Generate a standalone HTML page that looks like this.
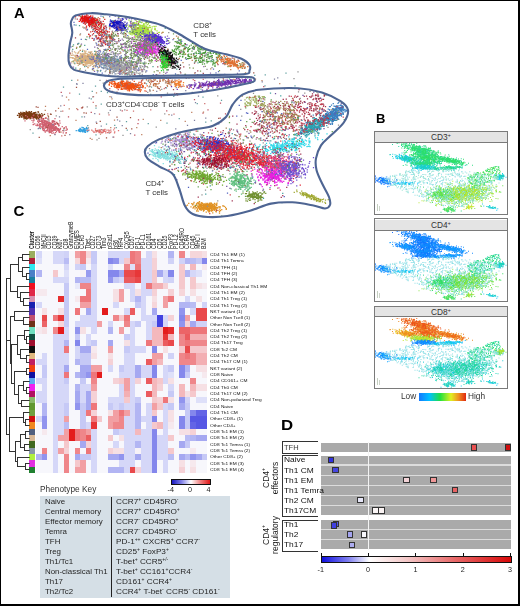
<!DOCTYPE html><html><head><meta charset="utf-8"><style>
html,body{margin:0;padding:0;background:#fff}
body{width:520px;height:606px;position:relative;overflow:hidden;font-family:"Liberation Sans", sans-serif;color:#222}
#frame{position:absolute;left:0;top:0;width:520px;height:606px;box-sizing:border-box;border-style:solid;border-color:#000;border-width:1px 2px 2px 1px}
.t8{position:absolute;font-size:7.9px;line-height:9px;color:#333}
.t8 sup{font-size:5px;vertical-align:3px;line-height:0}
.k{position:absolute;font-size:7.9px;line-height:9px;color:#262626;white-space:nowrap;transform-origin:0 50%}
.k sup{font-size:4.8px;vertical-align:2.8px;line-height:0}
.rl{position:absolute;left:210.3px;font-size:4.4px;line-height:6px;color:#111;white-space:nowrap;transform:scaleX(1.09);transform-origin:0 50%}
.cl{position:absolute;top:249.3px;transform-origin:0 0;transform:rotate(-90deg) scaleY(1.3);font-size:5.2px;line-height:5.5px;color:#111;white-space:nowrap}
.pl{position:absolute;font-size:14px;font-weight:bold;line-height:14px;color:#000;transform-origin:0 0}
.rot{position:absolute;left:271px;transform:translate(-50%,-50%) rotate(-90deg);font-size:8.5px;line-height:8.8px;text-align:center;color:#222;white-space:nowrap}
.rot sup{font-size:5px;line-height:0}
#wrap{position:absolute;left:0;top:0;width:520px;height:606px;filter:blur(0.35px)}
</style></head><body><div id="wrap">
<svg style="position:absolute;left:0;top:0" width="370" height="225" viewBox="0 0 370 225"><defs><path id="c0a" d="M330 60h0m-14 2h0m31-2h0m-23 5h0m15-1h0m3 0h0m1 1h0m-8 2h0m18 1h0m7-2h0m1 0h0m-31 4h0m17-1h0m0 0h0m1 1h0m8 0h0m0-2h0m4 1h0m6 0h0m4 2h0m-45 1h0m5 1h0m8 0h0m3-2h0m1 1h0m2 1h0m1-2h0m5 1h0m1 0h0m0-1h0m3 2h0m3 0h0m2-1h0m6 0h0m2 0h0m0 0h0m12 0h0m-52 2h0m17 2h0m3-1h0m0-2h0m3 2h0m2-1h0m0 2h0m1-1h0m1-1h0m1 1h0m5-1h0m1 0h0m1 0h0m1 2h0m1-1h0m1-1h0m1 1h0m9-2h0m6 1h0m18 1h0m-76 1h0m6 1h0m8 1h0m5 0h0m2-1h0m1 0h0m2-1h0m2 2h0m1-2h0m1 2h0m3 0h0m1-2h0m2 2h0m1 0h0m17-2h0m2 1h0m9-1h0m3 2h0m2-1h0m-61 4h0m4-1h0m5 0h0m3 1h0m2-1h0m6 1h0m1 0h0m4-1h0m1 0h0m2 0h0m0 1h0m0-1h0m1 1h0m0 0h0m0-2h0m1 2h0m0-2h0m1 1h0m1 0h0m2 1h0m0-2h0m2 0h0m1 2h0m11 0h0m-56 1h0m1 0h0m11 1h0m9 0h0m5 0h0m2 0h0m0 1h0m4 0h0m1-3h0m4 2h0m1-1h0m1 0h0m0 0h0m1 2h0m6-3h0m6 1h0m4 0h0m3 0h0m9 1h0m-60 1h0m10 1h0m9 0h0m4 0h0m0-1h0m5 1h0m1 0h0m3-1h0m4 1h0m0 1h0m6-2h0m0 2h0m1-2h0m0 2h0m1 0h0m2-1h0m1 1h0m2-1h0m1 1h0m1 0h0m11-2h0m-66 3h0m0 0h0m22 2h0m2-2h0m8 2h0m2 0h0m1 0h0m1-1h0m1-1h0m2 0h0m2 1h0m1-1h0m1 1h0m3 0h0m9 0h0m4 0h0m3-1h0m2 1h0m6 1h0m-55 3h0m6-2h0m0 0h0m7 0h0m0 0h0m5 0h0m3 0h0m1 1h0m7-1h0m10 2h0m5-1h0m1-1h0m1 1h0m1 0h0m6-1h0m-59 3h0m23 0h0m27 1h0m-30 1h0m1 1h0m9 0h0m-3 2h0m1 0h0m20 1h0m11-1h0m-18 6h0"/><path id="c0b" d="M347 56h0m-30 6h0m21 3h0m14-2h0m11 0h0m-61 4h0m28-1h0m10 1h0m5 0h0m2 0h0m-22 2h0m13 1h0m0-1h0m1 1h0m2-1h0m6 1h0m1 0h0m14-1h0m3 1h0m5 0h0m-41 1h0m2 2h0m0 0h0m4-1h0m4 1h0m1-1h0m0 0h0m12 1h0m6 0h0m2-2h0m2 0h0m2 0h0m1 2h0m3-1h0m6 1h0m-41 1h0m5 1h0m3-1h0m0 0h0m1 1h0m3 0h0m1 0h0m8 0h0m1-1h0m2 1h0m1 0h0m1 1h0m0-2h0m2 2h0m1-1h0m2-1h0m2 1h0m2 0h0m9 0h0m-56 2h0m15 0h0m5 0h0m2 0h0m5 2h0m0-2h0m0 0h0m4 1h0m4-1h0m0 0h0m1 1h0m2-1h0m4-1h0m2 2h0m6-1h0m0 1h0m1 0h0m-35 3h0m6-1h0m2 1h0m1-1h0m2-1h0m1 2h0m1 0h0m2-2h0m1 0h0m2 2h0m1-1h0m1 0h0m0 1h0m2 0h0m0 0h0m0-1h0m1 1h0m7 0h0m1-2h0m2 2h0m1-1h0m2 0h0m3 1h0m7-1h0m4 0h0m2 0h0m-59 2h0m5 1h0m3-1h0m7 0h0m2 0h0m1 2h0m6-1h0m0-1h0m1 2h0m0 0h0m2-1h0m1 1h0m2-2h0m1 2h0m3 0h0m2 0h0m3-2h0m2 0h0m0 0h0m0 1h0m0-1h0m1 0h0m5-1h0m2 1h0m1 0h0m1 1h0m-64 2h0m22-1h0m12 1h0m4 1h0m0 0h0m2 0h0m1-1h0m1 0h0m4-1h0m0 2h0m2 0h0m0-2h0m3 1h0m6 0h0m2 1h0m0 0h0m4-2h0m5 1h0m-54 2h0m9 0h0m9 2h0m0-1h0m1 0h0m2-1h0m2 2h0m4 0h0m0-1h0m0-1h0m2 2h0m0-1h0m3 0h0m5 0h0m3 0h0m3 1h0m0 0h0m0 0h0m8-1h0m0 0h0m2 1h0m4-2h0m6 0h0m-55 2h0m7 2h0m12-1h0m1 0h0m0 0h0m0 0h0m6 1h0m5 1h0m1 0h0m1-1h0m2 1h0m1-3h0m1 1h0m6 0h0m-24 2h0m9 1h0m3 1h0m5 0h0m0 1h0m8-3h0m17 2h0m0-1h0m-43 4h0m12-1h0m25 1h0m-22 2h0m12 0h0m-30 1h0m3 1h0m14 1h0"/><path id="c1a" d="M342 72h0m18 14h0m20 0h0m33-1h0m-51 2h0m30 3h0m8 2h0m-3 5h0m11-2h0m8 0h0m-75 2h0m39 1h0m-15 3h0m21 0h0m8 0h0m10 1h0m-58 2h0m20 0h0m11 2h0m12 0h0m50 1h0m-58 1h0m11 2h0m34 0h0m-30 2h0m19-1h0m-15 4h0m18-1h0m21 1h0m-53 2h0m38 4h0m-19 3h0m1-1h0m8-2h0m1 2h0m-28 3h0m16 0h0m15 0h0m12-1h0m-43 2h0m29 0h0m3 1h0m18-1h0m-42 3h0m2 2h0m9-2h0m-32 4h0m22-2h0m27 2h0m-68 3h0m91 0h0m-52 2h0m7 0h0m7 1h0m1-2h0m-10 3h0m7 3h0m9 0h0m23 0h0m4 1h0m-58 1h0m44 1h0m17-1h0m-50 3h0m45 0h0m7 0h0m-26 2h0m-26 3h0m11-1h0m35 2h0m7-1h0m-48 5h0m26 0h0m-25 4h0m11 0h0m-9 3h0m2 2h0m0 6h0m11-2h0m6 6h0m16 24h0"/><path id="c1b" d="M371 64h0m48 13h0m-45 5h0m3 5h0m8 0h0m-10 3h0m28 0h0m-38 4h0m21 0h0m16 0h0m6 1h0m-2 3h0m-40 3h0m40 1h0m-29 1h0m6 2h0m37-1h0m3 1h0m-65 1h0m10 1h0m36-1h0m0 2h0m2-1h0m-60 1h0m56 1h0m13-1h0m-33 4h0m22 0h0m11 0h0m-71 3h0m32-2h0m4 2h0m8 1h0m4 2h0m8-2h0m8 2h0m6 0h0m-18 3h0m12-1h0m-26 1h0m-11 4h0m17 1h0m2-1h0m9 1h0m6 0h0m-42 1h0m36 0h0m3 0h0m1 0h0m6 2h0m3-1h0m1 0h0m7 1h0m10-1h0m19-1h0m-59 5h0m20-1h0m1-1h0m2 0h0m2 0h0m1 2h0m-19 2h0m-42 3h0m64 0h0m7-1h0m21 0h0m-44 2h0m1 1h0m33 0h0m-51 4h0m60 0h0m-88 1h0m4-1h0m51 2h0m11 2h0m3 0h0m19 0h0m-36 4h0m30-3h0m-71 5h0m20 0h0m1-1h0m16 0h0m22 0h0m16 1h0m-44 3h0m13-1h0m14-2h0m27 1h0m-55 5h0m5-1h0m45-1h0m-74 3h0m23 0h0m54 1h0m-52 3h0m2-1h0m14 4h0m14-1h0m-18 3h0m29 0h0m27 3h0m-47 0h0m8 2h0m3 5h0m-31 4h0m36 2h0m24 13h0"/><path id="c2a" d="M442 80h0m46 1h0m-32 2h0m-9 2h0m12 0h0m6 2h0m7-3h0m8 1h0m3 0h0m-35 3h0m5 0h0m7 0h0m0-1h0m0 1h0m12 0h0m9 0h0m3-1h0m-34 4h0m1 0h0m1-1h0m3 1h0m5 0h0m1 0h0m3-1h0m4 1h0m2 0h0m0 0h0m3-1h0m6 0h0m2 1h0m8 0h0m-36 2h0m2 1h0m7-2h0m1 1h0m3 0h0m2 2h0m2-1h0m0-1h0m2-1h0m0 1h0m1 1h0m0 0h0m2 0h0m0 0h0m1-1h0m8 1h0m7 0h0m1 0h0m1 1h0m-54 2h0m17 0h0m1-2h0m4 0h0m2 1h0m0 0h0m3 0h0m1 0h0m0 0h0m0 0h0m2 0h0m2 1h0m3-1h0m0 1h0m2-2h0m1 1h0m0-1h0m1 1h0m4 1h0m2-1h0m1 1h0m2-1h0m2-1h0m18 0h0m-66 5h0m17-1h0m2-1h0m3 0h0m8 1h0m0 0h0m0 0h0m3-1h0m0 0h0m2 2h0m1-1h0m1 0h0m4 0h0m0 1h0m5-2h0m0 2h0m4-1h0m-43 3h0m4 0h0m0-1h0m2-1h0m8 2h0m0-1h0m3 0h0m2 0h0m1 1h0m4-2h0m0 2h0m1-1h0m0-1h0m4 0h0m5 3h0m0 0h0m5-1h0m1-2h0m0 1h0m2 1h0m7 0h0m5-1h0m2 2h0m-56 1h0m12-1h0m5 2h0m0-1h0m1-1h0m2 0h0m3 1h0m1 0h0m3 0h0m1-1h0m12 2h0m2-2h0m7 1h0m1 1h0m-53 1h0m5 0h0m9-1h0m0 1h0m4 0h0m6 2h0m1-1h0m3 0h0m1-1h0m2-1h0m5 1h0m0 0h0m3 1h0m1-1h0m1 1h0m1-2h0m7 1h0m2 1h0m2 0h0m5 1h0m-41 0h0m5 1h0m1 1h0m17-2h0m2 1h0m0 0h0m0 0h0m1-1h0m9 1h0m-38 4h0m1-1h0m11 1h0m8-2h0m2 0h0m1 1h0m4 0h0m1 0h0m13 1h0m1-1h0m-23 3h0m2 1h0m-14 2h0m3-1h0m-3 2h0m4 2h0m22 0h0m15-2h0"/><path id="c2b" d="M489 74h0m3 3h0m-46 7h0m16-3h0m20 2h0m-25 3h0m3-1h0m0 0h0m6 1h0m4 0h0m6-1h0m-35 2h0m14 1h0m4 0h0m3-1h0m1 0h0m2 0h0m1 2h0m0-1h0m5 0h0m9-1h0m-32 5h0m9-2h0m6 0h0m3 0h0m16 1h0m3-1h0m-44 4h0m14 0h0m1-2h0m2 1h0m2-1h0m6 0h0m0 1h0m4 1h0m1 0h0m2 0h0m5 0h0m0 0h0m3 0h0m5 0h0m3-2h0m-34 5h0m0-1h0m1 1h0m3-2h0m1 2h0m1 0h0m1 0h0m1-1h0m2 1h0m0-1h0m1 0h0m2-1h0m0 1h0m1-1h0m4 0h0m6 2h0m3 0h0m3 0h0m9 0h0m1 0h0m-42 1h0m2 0h0m4-1h0m2 1h0m1 0h0m4 2h0m2-2h0m2 0h0m1-1h0m6 1h0m23 2h0m-59 2h0m11 0h0m4 0h0m2 1h0m1-3h0m1 1h0m7-1h0m2 0h0m1 0h0m0 0h0m1 2h0m2-1h0m3 1h0m1-2h0m1 0h0m6 1h0m8-1h0m0 2h0m1-1h0m1 1h0m5-1h0m-61 2h0m12 0h0m5 1h0m1 0h0m10 0h0m5-1h0m1 0h0m2 1h0m1 1h0m1-2h0m3 1h0m1-1h0m1 2h0m4-1h0m1 0h0m1-1h0m18 1h0m-55 2h0m10 1h0m1 0h0m4 0h0m8-1h0m2 0h0m5 1h0m7-1h0m2 0h0m-34 4h0m1 0h0m5 0h0m14 0h0m0 0h0m1 1h0m0-2h0m2 0h0m1-1h0m0 1h0m6 1h0m-14 2h0m2 0h0m9 0h0m2-1h0m1 1h0m6-1h0m-24 4h0m1-1h0m11 2h0m2-2h0m2 2h0m0-1h0m5-1h0m1 1h0m6 1h0m3-2h0m-26 2h0m2 2h0m3-1h0m12-1h0m-25 5h0m15-2h0m8 1h0m0 3h0"/><path id="c3a" d="M502 71h0m14 9h0m10 4h0m31-1h0m-36 4h0m34 0h0m12 2h0m16 0h0m11-2h0m-63 4h0m7 0h0m6 1h0m-7 1h0m16 0h0m31-1h0m-53 5h0m1-1h0m-20 4h0m25-1h0m4 0h0m13-1h0m1 1h0m2 1h0m11 2h0m30 0h0m-94 1h0m40 2h0m27 0h0m7-2h0m5 1h0m3 1h0m30 0h0m8 0h0m-66 1h0m3 0h0m11 1h0m1-1h0m2 1h0m2-1h0m-39 5h0m15-1h0m24 0h0m0-2h0m12 2h0m2-1h0m11 0h0m-65 2h0m1 2h0m9-2h0m8 0h0m4 0h0m23 1h0m2 0h0m36 1h0m-89 2h0m7 0h0m13 0h0m11 0h0m5-1h0m0 0h0m7 0h0m2 2h0m2-1h0m30 0h0m-68 2h0m5 1h0m1 0h0m4-1h0m5 1h0m0 1h0m1-2h0m7 0h0m0 1h0m6-2h0m0 3h0m2 0h0m17-2h0m4 0h0m27 0h0m-94 3h0m9 0h0m13 0h0m3 0h0m11-1h0m1 0h0m3 2h0m2 0h0m1-2h0m2 1h0m1-1h0m9 1h0m1 0h0m13-1h0m27 0h0m-84 4h0m1-1h0m18 2h0m10 0h0m6-2h0m3 1h0m1-1h0m1 2h0m4-2h0m2 1h0m9 0h0m2 0h0m5 1h0m29-1h0m-82 1h0m1 1h0m2-1h0m6 0h0m8 2h0m1-1h0m1 1h0m4 0h0m21 0h0m3-2h0m0 2h0m6 0h0m-60 2h0m20 0h0m11 0h0m3-1h0m3 0h0m32 1h0m29 1h0m-121 2h0m17-1h0m3 1h0m46 1h0m6-2h0m3 1h0m-92 2h0m22 0h0m7 1h0m6 1h0m13-1h0m10-1h0m1 1h0m9 0h0m6-2h0m7 1h0m1 1h0m6 1h0m7-2h0m2 0h0m20-1h0m-122 4h0m11 1h0m16 0h0m18 0h0m8-1h0m13 1h0m0-2h0m1 1h0m5-1h0m2 2h0m2-2h0m20 1h0m6 0h0m11 0h0m9-1h0m-88 4h0m0-1h0m21 1h0m8 0h0m16-1h0m7 0h0m1-1h0m-39 5h0m13-1h0m6 0h0m15-1h0m7 1h0m5-1h0m30 0h0m-79 3h0m10 0h0m28 2h0m5 0h0m-68 2h0m72 1h0m34-1h0m-55 1h0m37 1h0m-31 5h0m37 0h0m-74 3h0m12 1h0m42-1h0"/><path id="c3b" d="M544 81h0m15 3h0m-3 4h0m34 1h0m-53 1h0m8 2h0m22-2h0m8 4h0m19 0h0m-57 3h0m9-2h0m1 1h0m32 0h0m-33 2h0m0 1h0m5 0h0m23 0h0m14 0h0m3-1h0m-64 3h0m6 1h0m6-1h0m13 0h0m0 0h0m2 1h0m4 0h0m3-2h0m1 2h0m0 0h0m6-1h0m7 1h0m24 0h0m-97 3h0m17 0h0m24-2h0m1 1h0m26-1h0m1 2h0m4 0h0m-60 2h0m8 1h0m3-1h0m3 0h0m5 1h0m1-2h0m6 2h0m23 0h0m5-2h0m3 1h0m13-1h0m1 2h0m23-1h0m10-1h0m-80 3h0m9 1h0m5 0h0m3 1h0m4-2h0m1 0h0m8 1h0m0-1h0m1 1h0m9 0h0m1 0h0m4 1h0m11-2h0m1 1h0m5 0h0m-75 3h0m14 0h0m12-1h0m5 0h0m7-1h0m4 0h0m14 1h0m6 1h0m-58 2h0m6 0h0m4-1h0m17 2h0m4-1h0m12 1h0m1-2h0m2 0h0m8 1h0m2 0h0m3-2h0m3 0h0m-80 4h0m22 1h0m12 0h0m3-1h0m6-1h0m6 3h0m0-2h0m2 0h0m1 1h0m2 0h0m4-1h0m4 1h0m0-1h0m2 1h0m1 0h0m5 1h0m1-1h0m5-1h0m5-1h0m28 0h0m-91 3h0m8 2h0m8 0h0m6-2h0m3 2h0m2-2h0m2 0h0m4 1h0m25 0h0m1 1h0m5-2h0m11 0h0m1 2h0m-76 2h0m9-1h0m1 1h0m11 0h0m5-1h0m1 2h0m9-2h0m5 1h0m6-1h0m2 1h0m1 0h0m0-1h0m4 1h0m2 0h0m1-1h0m3 0h0m3 1h0m-59 2h0m7 1h0m7-1h0m0-1h0m4 2h0m9 0h0m2-2h0m0 2h0m8-2h0m14 1h0m19 0h0m-106 4h0m27-1h0m11 1h0m3 0h0m1-1h0m0-1h0m10 0h0m0 0h0m0 2h0m2 0h0m12-2h0m13 0h0m4 2h0m11-1h0m1-1h0m1 2h0m3-1h0m54 1h0m-122 3h0m1-1h0m27 0h0m2 0h0m12 0h0m5-1h0m7 0h0m13 1h0m1-1h0m3 1h0m8-1h0m27 0h0m-90 3h0m0 0h0m3 0h0m28 0h0m19 0h0m17 0h0m2 1h0m-61 1h0m1 2h0m9 0h0m14-2h0m6 0h0m10 0h0m1 0h0m12 1h0m2 0h0m12 0h0m1 0h0m-74 2h0m15 0h0m4 2h0m27-2h0m0 4h0m7 1h0m0-2h0m1 0h0m-51 3h0m8 0h0m42 1h0m5-1h0m-61 2h0m0 1h0m7 0h0m7 0h0m5 0h0m11 1h0m5-1h0m4 0h0m6 1h0m-33 2h0m6-1h0m-19 3h0m23 1h0m50 5h0m-32 2h0m10 6h0m18 6h0"/><path id="c4a" d="M572 125h0m26 6h0m12 0h0m2 2h0m-36 2h0m24 2h0m-13 3h0m4-1h0m17-1h0m2 2h0m7-1h0m5-1h0m2 2h0m11-2h0m-73 3h0m37 1h0m7-2h0m4 2h0m2 0h0m2 0h0m12-1h0m-48 3h0m16 0h0m17 1h0m6 0h0m-48 1h0m14-1h0m17 3h0m6-1h0m0 0h0m11-1h0m1 0h0m4-1h0m20 1h0m1-1h0m-64 3h0m12 2h0m3 0h0m2 0h0m10-1h0m2 1h0m4 0h0m13 0h0m2 0h0m8-1h0m1 0h0m2 0h0m-41 3h0m4 0h0m2 0h0m2 0h0m1-1h0m12 1h0m1 0h0m9-1h0m15 0h0m2 2h0m-74 1h0m19 0h0m2 0h0m14 2h0m0 0h0m2 0h0m0 0h0m8-1h0m1 1h0m2-1h0m2 0h0m21-1h0m-62 2h0m7 0h0m9 1h0m2 2h0m2-2h0m8 0h0m1 0h0m2 1h0m8-2h0m18 0h0m2 0h0m3 2h0m4 0h0m-68 2h0m22 1h0m10 0h0m3-2h0m2 0h0m7 1h0m3 0h0m3 1h0m2-2h0m2 1h0m1 1h0m9-1h0m-66 2h0m33 0h0m2 1h0m3-1h0m11 1h0m7-1h0m7 0h0m3 1h0m6 0h0m0-1h0m3 0h0m1 0h0m14 2h0m7-2h0m-88 4h0m25 0h0m3-2h0m2 0h0m4 1h0m9-1h0m0 1h0m15 0h0m5 0h0m-43 2h0m14 2h0m1-1h0m1 1h0m10-1h0m0 0h0m4 0h0m-13 3h0m14 0h0m12 1h0m2-2h0m1 2h0m7-1h0m-50 3h0m29-2h0m0 0h0m38 1h0m-76 2h0m24 2h0m19 7h0"/><path id="c4b" d="M573 123h0m-11 6h0m-18 8h0m42 3h0m14 0h0m1-2h0m10 2h0m6-2h0m-35 4h0m1 1h0m14-1h0m18-1h0m7-1h0m3 2h0m7 0h0m-54 2h0m1 1h0m8-2h0m6 2h0m0-1h0m4 1h0m14-2h0m2 2h0m2-2h0m0 2h0m5-2h0m16 2h0m-68 2h0m0-1h0m25 1h0m4 0h0m12-1h0m3 2h0m13-2h0m3 0h0m4 0h0m5 1h0m-47 1h0m1 2h0m5 0h0m1 1h0m11-1h0m2-2h0m8 2h0m7 0h0m1-1h0m7 1h0m15-1h0m13-1h0m-70 4h0m8 0h0m1 1h0m6-2h0m3 0h0m9 1h0m2 1h0m1 0h0m1-1h0m1-1h0m1 1h0m2 0h0m4 0h0m5 1h0m4-1h0m0 0h0m2 1h0m0-1h0m2 0h0m0 1h0m33 0h0m-114 3h0m18 0h0m2-1h0m3-1h0m0 1h0m9 0h0m8 1h0m14-1h0m9 0h0m0 1h0m4-1h0m3 1h0m2 0h0m1-2h0m3 1h0m1 1h0m8 0h0m22-1h0m-88 3h0m9 0h0m12-1h0m3 1h0m0-2h0m10 1h0m1 1h0m1 0h0m8-1h0m3-1h0m14 0h0m8 2h0m-88 1h0m24 2h0m6-1h0m6-1h0m5 2h0m12-2h0m3 0h0m2 2h0m2-1h0m1 1h0m1-1h0m1 0h0m2 1h0m0-2h0m4 0h0m1 1h0m5 0h0m0 1h0m-73 2h0m31 1h0m17-2h0m3 1h0m4-1h0m3 1h0m5 0h0m4 0h0m2-2h0m8 2h0m7 0h0m23-1h0m-69 4h0m12 0h0m4-1h0m8-1h0m2 3h0m3-2h0m2 0h0m7-1h0m14 1h0m4 1h0m-80 1h0m31 2h0m2-2h0m9 1h0m8 0h0m11 1h0m3-2h0m3 2h0m12-1h0m-39 2h0m5 1h0m5-1h0m16 1h0m7-1h0m4 4h0m11 0h0m3 1h0m-47 1h0m13 1h0m-7 5h0m16-2h0m15 2h0m-9 1h0"/><path id="c5a" d="M572 153h0m19 8h0m-58 3h0m43 2h0m0 0h0m5-1h0m-2 3h0m12 0h0m3 1h0m-35 2h0m1-1h0m13 1h0m7-1h0m6 1h0m-14 2h0m11-1h0m17 2h0m3 0h0m26-1h0m1 2h0m3-1h0m-143 3h0m62 0h0m67-2h0m-53 5h0m5 0h0m0-2h0m11 1h0m10-1h0m1 2h0m2-2h0m3 0h0m2 1h0m14 1h0m-47 1h0m2 1h0m14-1h0m0 2h0m31 0h0m1-3h0m1 2h0m0-1h0m4 1h0m0-1h0m-85 3h0m5 1h0m10-1h0m9 0h0m7 0h0m1 1h0m6 0h0m4-1h0m1-1h0m7 1h0m0 1h0m20-1h0m9 1h0m10-1h0m9-1h0m-71 4h0m4 0h0m1-1h0m0 2h0m31-1h0m3 1h0m1-1h0m1 0h0m1-1h0m3-1h0m21 1h0m3 0h0m-78 4h0m2-2h0m5 2h0m5-2h0m4 1h0m10 1h0m2-1h0m2 0h0m14 0h0m9 1h0m6 0h0m-112 1h0m57 2h0m2 0h0m7 0h0m5-2h0m2 2h0m7-1h0m2-1h0m7 0h0m15 2h0m0-1h0m2 0h0m12 0h0m16 1h0m15-1h0m-102 3h0m23 1h0m10-2h0m0 1h0m8-2h0m0 1h0m1 2h0m17-1h0m3 1h0m11 0h0m16-1h0m17-1h0m-133 3h0m40 2h0m6-1h0m1 0h0m3-1h0m2 0h0m3-1h0m2 1h0m4 1h0m0-1h0m3 1h0m2 0h0m8-1h0m6-1h0m23 1h0m1-1h0m12 2h0m2-2h0m-82 3h0m13 0h0m5 1h0m14 0h0m7 1h0m4-1h0m3 0h0m1-1h0m3 0h0m1 0h0m22 2h0m-49 1h0m0 1h0m2 0h0m5-1h0m16 0h0m0 0h0m5 1h0m6 0h0m1 0h0m28-2h0m-70 5h0m10-1h0m3 1h0m11-1h0m2-1h0m2 2h0m4-1h0m4 1h0m5-2h0m6 1h0m2 0h0m7-1h0m7 1h0m1 0h0m-93 4h0m45 0h0m10 0h0m1-2h0m17 2h0m2 0h0m1-1h0m-81 2h0m14 2h0m7-2h0m2 0h0m7 0h0m1-1h0m8 1h0m19 1h0m0-1h0m4 1h0m12-1h0m-66 2h0m24 2h0m3-1h0m7 0h0m6 1h0m0-1h0m6 1h0m4-2h0m5 1h0m8 0h0m1 1h0m3-1h0m9 1h0m-44 2h0m11 1h0m8-2h0m11 4h0m58-1h0m-36 7h0m-13 2h0m13 3h0m-10 12h0m21 2h0"/><path id="c5b" d="M537 148h0m52 1h0m-61 2h0m75 2h0m-55 6h0m35 0h0m-17 4h0m5 2h0m7 0h0m4 1h0m-56 2h0m28 1h0m30-2h0m50 2h0m-56 3h0m17 0h0m6-2h0m-61 3h0m11 0h0m10 2h0m3-3h0m23 1h0m2-1h0m4 2h0m11 0h0m17 0h0m-36 2h0m5 0h0m24 1h0m4-1h0m-74 4h0m19-2h0m20 0h0m0 1h0m8-1h0m2 1h0m8-1h0m10 0h0m1 1h0m-79 2h0m33 1h0m1 0h0m24-2h0m2 0h0m1 3h0m2-2h0m1-1h0m22 2h0m-88 3h0m26 0h0m6-2h0m2 1h0m3 1h0m4-2h0m2 1h0m4 1h0m0 0h0m5-1h0m9 1h0m1 0h0m4-1h0m8 0h0m5 0h0m1-1h0m11 2h0m-92 1h0m14 2h0m14-2h0m13 1h0m13-1h0m5 2h0m2-1h0m2-2h0m5 2h0m8-1h0m0 1h0m15 1h0m33-2h0m-99 4h0m2-2h0m11 1h0m10 0h0m3 1h0m1 0h0m4-2h0m15 1h0m11 1h0m33-1h0m-99 2h0m16 2h0m2-2h0m3 1h0m12 1h0m0-2h0m2 0h0m4 0h0m6 2h0m7-2h0m0 2h0m10-2h0m1 1h0m2-1h0m3 1h0m9 0h0m10-1h0m-80 2h0m7 2h0m1 0h0m1 0h0m0 0h0m6 1h0m6-1h0m3-1h0m4-1h0m19 3h0m5-2h0m0 0h0m1 1h0m4 0h0m11-1h0m11 1h0m1-1h0m-61 4h0m8-1h0m0-1h0m18 2h0m6-1h0m1 1h0m3 1h0m3-1h0m9 0h0m6 0h0m-102 1h0m1 0h0m38 1h0m56 0h0m0 1h0m8-2h0m9 2h0m2-2h0m-79 4h0m1-1h0m1 1h0m11-2h0m6 3h0m6-2h0m1 2h0m4 0h0m0-2h0m6 2h0m15 0h0m3-1h0m-59 2h0m4 2h0m35-2h0m3 0h0m1 1h0m8 0h0m-64 2h0m45 1h0m2 0h0m36-1h0m2 0h0m-55 2h0m34 0h0m15 0h0m8 0h0m7-1h0m-62 5h0m4 0h0m9 0h0m19-2h0m46 3h0m-23 2h0m-46 2h0m11 3h0m-6 2h0"/><path id="c6a" d="M636 185h0m19 2h0m3 3h0m1 0h0m-27 6h0m40 2h0m-13 2h0m1 0h0m10 1h0m-33 1h0m4 1h0m4 1h0m10-2h0m1 2h0m5 0h0m1-2h0m10 1h0m-21 3h0m-7 3h0m4-1h0m6-1h0m8 1h0m4 1h0m-31 2h0m17-1h0m8 2h0m6 0h0m0 0h0m10-3h0m-24 6h0m7-1h0m6-2h0m2 0h0m0 1h0m3 1h0m2 0h0m10-1h0m-43 3h0m9 1h0m6-2h0m2 1h0m0 0h0m1 0h0m4 0h0m4 0h0m4 1h0m1-1h0m4 0h0m1 0h0m15 1h0m-35 3h0m1-2h0m8 0h0m6 1h0m10 0h0m-33 3h0m12-1h0m10 0h0m1 1h0m7 0h0m12 0h0m-38 1h0m10 0h0m5 0h0m2 1h0m7 0h0m1 0h0m4 0h0m6 0h0m-18 3h0m8-1h0m1 2h0m4 0h0m-28 1h0m10 0h0m1 1h0m3-1h0m7-1h0m3 2h0m1 1h0m1-2h0m6-1h0m2 1h0m3 0h0m-38 3h0m7-1h0m0 2h0m2-1h0m8-1h0m9 2h0m1-1h0m2 0h0m5 1h0m10-1h0m-39 2h0m14 1h0m5 0h0m2-1h0m0 1h0m5-1h0m7 2h0m5-1h0m-47 3h0m21 0h0m3-1h0m1-1h0m1 2h0m3-1h0m5 1h0m1 0h0m4-1h0m7 1h0m5-1h0m-31 2h0m3 1h0m4 0h0m0 0h0m4 0h0m10-1h0m7 2h0m-23 2h0m0 0h0m1 0h0m3 0h0m6 1h0m7-2h0m2 1h0m-30 2h0m2-1h0m5 1h0m1-1h0m5 0h0m9 1h0m16 0h0m-32 3h0m11-1h0m12 2h0m5-1h0m15 0h0m-35 2h0m4 0h0m6 0h0m3 0h0m9 1h0m-14 1h0m8 1h0m4 0h0m7 1h0m-29 5h0m2 0h0m4 0h0m3 0h0m3-1h0m-14 4h0m13-1h0m23 2h0m-13 2h0m1 1h0m4 4h0m15-1h0m-26 3h0m-17 7h0"/><path id="c6b" d="M624 169h0m6 8h0m13 1h0m-4 10h0m24 1h0m-16 3h0m2 1h0m-6 4h0m5 0h0m9 1h0m-12 4h0m2 0h0m15 2h0m3 0h0m-21 1h0m18 0h0m7 0h0m-31 3h0m21 0h0m13 0h0m9 1h0m4 0h0m-45 2h0m7-2h0m6 2h0m1 1h0m11 0h0m-15 1h0m2 0h0m11 1h0m2-2h0m14 2h0m-29 2h0m9 1h0m12-2h0m-32 5h0m8-1h0m5 0h0m1 1h0m14-1h0m-16 4h0m13-2h0m9 2h0m16-2h0m-35 4h0m0-2h0m2 0h0m1 1h0m6 1h0m6 0h0m2 0h0m0 0h0m1-1h0m2-1h0m1 0h0m6 0h0m1 1h0m3-1h0m-43 5h0m16-1h0m2 0h0m3-1h0m2 1h0m1-1h0m3 1h0m8 1h0m4 0h0m3 0h0m4-2h0m-39 4h0m23-2h0m0 1h0m9-1h0m3 2h0m5-1h0m-31 3h0m12 1h0m2 0h0m7-2h0m4 0h0m23 1h0m-44 3h0m3-1h0m3 1h0m5 0h0m2-1h0m0 1h0m0 1h0m6-2h0m5 1h0m7-1h0m13 0h0m-45 4h0m4 0h0m3 0h0m1 0h0m43 0h0m-52 1h0m10 0h0m7 2h0m7-1h0m1 0h0m1 0h0m5 1h0m-37 3h0m15-1h0m11 0h0m20-1h0m5 1h0m-41 2h0m7 1h0m3-1h0m13 1h0m0-1h0m-24 2h0m7 1h0m11-1h0m10 0h0m6 0h0m6 1h0m5-1h0m-44 2h0m11 2h0m11 1h0m3-1h0m5 0h0m7 0h0m0 1h0m-1 3h0m-16 8h0m20-1h0m18-2h0m-31 5h0m23-1h0m-4 2h0m-10 5h0m-7 0h0m25 6h0"/><path id="c7a" d="M660 220h0m0 0h0m-15 4h0m11 0h0m14-1h0m-18 4h0m9 1h0m-14 1h0m6-1h0m6 2h0m10 0h0m-12 3h0m14-1h0m-26 3h0m4 1h0m2-3h0m4 1h0m0 3h0m-4 4h0m2-1h0m1-1h0m1 0h0m23 2h0m-29 3h0m4-1h0m7-1h0m3 0h0m9 0h0m9 2h0m-20 2h0m-6 1h0m0 0h0m-5 4h0m10 1h0m1-2h0m6 0h0m-14 4h0m2 0h0m1 0h0m3-2h0m7 5h0m5-1h0m-17 2h0m3 1h0m3 1h0m1 0h0m19-1h0m-27 2h0m5 0h0m2 1h0m1-1h0m3 0h0m-12 4h0m5-1h0m15-1h0m-18 3h0m5 2h0m6-1h0m-20 3h0m15 0h0m5-1h0m4 0h0m-6 2h0m-17 11h0"/><path id="c7b" d="M655 209h0m-11 1h0m4 10h0m7 4h0m3 1h0m-4 0h0m-1 3h0m2 2h0m-15 2h0m17 0h0m2 0h0m6-1h0m-9 3h0m-7 4h0m2 0h0m4 0h0m8-2h0m-13 3h0m1 1h0m16 0h0m-19 3h0m6 1h0m2-1h0m7 0h0m-14 2h0m1 1h0m11-2h0m-14 3h0m0 0h0m0 0h0m5 2h0m3-1h0m7 0h0m4 1h0m0-2h0m4 1h0m-21 4h0m9-2h0m2 1h0m6 0h0m-20 1h0m1 1h0m5 2h0m3-1h0m7-1h0m10-1h0m-23 5h0m8-2h0m1 1h0m20 0h0m-25 3h0m4 0h0m3-2h0m12 1h0m-13 3h0m6 1h0m-23 1h0m7 2h0m13-2h0m3 2h0m-13 0h0m-1 4h0m4 0h0m-4 6h0m3 5h0m13-1h0"/><path id="c8a" d="M399 199h0m-55 5h0m37 1h0m4 1h0m-87 1h0m41 0h0m20 2h0m1-1h0m3 0h0m22 0h0m-96 4h0m14-1h0m10 0h0m1-1h0m28 3h0m20 0h0m8 1h0m13-2h0m-61 3h0m11 1h0m38 0h0m-41 1h0m2 1h0m4 1h0m17-1h0m5 1h0m7-1h0m4 0h0m17 2h0m8-1h0m17 0h0m-111 2h0m6 1h0m18 0h0m3-1h0m31 1h0m21 0h0m9-2h0m-85 4h0m3-1h0m14 2h0m8-2h0m0 1h0m1 1h0m1-1h0m0 1h0m6-1h0m4 1h0m9-1h0m12 1h0m9-2h0m-69 3h0m10 1h0m8-1h0m3 0h0m3-1h0m4 0h0m4 1h0m7 1h0m5-1h0m2 1h0m2-1h0m0 1h0m4-2h0m7 1h0m1 2h0m1-2h0m8 1h0m1-1h0m5 2h0m2-1h0m8-1h0m6 0h0m5 1h0m-110 3h0m19-1h0m4 1h0m6-2h0m3 1h0m2 0h0m1 1h0m7-1h0m3 1h0m6-1h0m2 1h0m2-1h0m1 0h0m3 0h0m5 1h0m4-2h0m1 1h0m0 1h0m3 0h0m3-2h0m3 0h0m3 2h0m0 1h0m0-2h0m2 1h0m5-2h0m10 1h0m10 0h0m3 0h0m6-1h0m37 2h0m-165 1h0m14 1h0m4 0h0m22-1h0m2 1h0m1 1h0m4-2h0m0 1h0m6 1h0m0 0h0m3-1h0m6 1h0m2-1h0m6 0h0m0-1h0m4 1h0m7 0h0m1 1h0m2-2h0m0 2h0m2-1h0m10 1h0m0-1h0m1 0h0m2-1h0m1 2h0m24-1h0m-94 4h0m8-2h0m2 1h0m10-1h0m8 1h0m5 1h0m2 0h0m1-1h0m0 0h0m1 0h0m1 0h0m6-1h0m9 1h0m3 0h0m0 0h0m6-1h0m0 1h0m1 0h0m0-1h0m1 2h0m0 0h0m1-2h0m25 0h0m0 0h0m1 2h0m5-2h0m-101 4h0m13-1h0m1 2h0m6-3h0m2 1h0m3 0h0m4 1h0m0 0h0m7 1h0m2-2h0m11 1h0m0-1h0m1 2h0m3-3h0m1 1h0m0-1h0m0 1h0m2 1h0m9-2h0m2 1h0m3 1h0m2 0h0m4-2h0m9 1h0m1 0h0m2-1h0m-91 3h0m17 2h0m14-2h0m4 0h0m1 2h0m0 0h0m2 0h0m4-2h0m3 2h0m3-1h0m1 0h0m3 1h0m1-2h0m2 1h0m2-1h0m15 1h0m4 1h0m1-2h0m2 1h0m7-1h0m15 2h0m11 0h0m-111 1h0m6 1h0m0 0h0m1-1h0m16 1h0m0-2h0m8 1h0m4 1h0m11 0h0m4 1h0m1-2h0m6 0h0m5 0h0m2 1h0m5-1h0m4 2h0m6-2h0m1 0h0m2 2h0m22-2h0m1 1h0m-118 4h0m25-2h0m5 1h0m5-2h0m5 0h0m6 2h0m2-2h0m2 3h0m1-2h0m3 1h0m8 0h0m2-2h0m4 1h0m0 2h0m1-2h0m3 1h0m3 0h0m1-2h0m2 2h0m5-1h0m0 1h0m7 0h0m14-1h0m32 1h0m-115 1h0m23 0h0m0 2h0m5-2h0m2 0h0m3 0h0m8 2h0m0-1h0m5-1h0m1 0h0m3 0h0m1 2h0m14 0h0m3-1h0m0 0h0m4 1h0m6-2h0m16 1h0m0-1h0m15 1h0m-96 2h0m15 0h0m13 1h0m6-1h0m6 0h0m5 0h0m4 0h0m5 1h0m22-1h0m-86 3h0m4 0h0m27-1h0m10 1h0m7-1h0m3 2h0m2 0h0m6 0h0m1-1h0m23-1h0m-94 3h0m18 2h0m19 0h0m7-1h0m7-1h0m20 1h0m21 0h0m0-1h0m52 2h0m-110 2h0m1 1h0m10-1h0m52 0h0m11 0h0m22-1h0m-116 3h0m27 0h0m3 0h0m20 0h0m15 1h0m2-2h0m-41 3h0m14 0h0m21 1h0m-21 6h0m22 11h0"/><path id="c8b" d="M331 201h0m0-1h0m7 3h0m-22 3h0m38 2h0m11 0h0m2-1h0m18 2h0m-44 2h0m-30 2h0m21 0h0m7 1h0m5-1h0m6 2h0m-68 1h0m40-1h0m4 1h0m23 1h0m3 0h0m11-2h0m1 0h0m18 0h0m8 2h0m-55 2h0m6 1h0m0 0h0m12-1h0m18 0h0m26-1h0m8-1h0m-119 4h0m19 0h0m23 0h0m13 2h0m5 0h0m10-2h0m11 1h0m6 0h0m0 0h0m10-1h0m12 1h0m3-1h0m-119 2h0m22 0h0m10 2h0m10-2h0m4 0h0m7 2h0m6 0h0m3-2h0m4 0h0m9 0h0m7 1h0m0 0h0m3-1h0m7 1h0m2-1h0m13 1h0m0 0h0m-62 3h0m3 0h0m2-1h0m12 0h0m1 0h0m0 0h0m6 0h0m6 1h0m1-1h0m5 2h0m7-2h0m7 1h0m26-2h0m10 2h0m4 0h0m-133 3h0m10 0h0m11 1h0m11-1h0m12 0h0m3-1h0m10 1h0m1-1h0m3-1h0m4 2h0m2-2h0m3 1h0m0 1h0m0 0h0m3-2h0m3 3h0m4-2h0m12 0h0m3 1h0m21-1h0m16 0h0m-100 4h0m1-1h0m0-1h0m3 0h0m9 2h0m1-1h0m1-1h0m4 2h0m0-2h0m6 1h0m12 1h0m2-1h0m1 0h0m1-1h0m4 0h0m1 2h0m5-1h0m10-1h0m14 1h0m9 0h0m18-1h0m0 2h0m-117 1h0m33 1h0m5 1h0m5-2h0m13 1h0m2-1h0m4 2h0m2-2h0m1 2h0m10 0h0m1-3h0m3 2h0m5-1h0m0 1h0m4 0h0m28 0h0m21-1h0m-131 2h0m8 2h0m1 0h0m19-2h0m1 1h0m2-1h0m15 1h0m1 1h0m0-2h0m2 1h0m2-1h0m0 1h0m5 2h0m4-3h0m1 2h0m2-2h0m16 1h0m12 0h0m7 2h0m1-2h0m3 1h0m-90 2h0m8 0h0m17 1h0m4-1h0m2 1h0m4 0h0m3-1h0m1 1h0m8 0h0m11-2h0m2 1h0m12 1h0m7-1h0m15-1h0m-116 4h0m6 0h0m0-1h0m15 0h0m14 0h0m4 1h0m2 1h0m7-1h0m1-1h0m5 1h0m1 0h0m6-1h0m4 0h0m1 1h0m0-1h0m3 0h0m2 2h0m4-1h0m16 1h0m3-1h0m5-1h0m1 1h0m3 0h0m4 0h0m0-1h0m2 1h0m-83 4h0m1-2h0m9 1h0m2-1h0m4 0h0m7 1h0m5-2h0m12 1h0m4 1h0m2 1h0m5-2h0m0 1h0m2-1h0m2 0h0m4 0h0m4-1h0m11 0h0m-76 4h0m5 0h0m4 0h0m3 0h0m2-1h0m6 2h0m10 0h0m0-1h0m4-1h0m6 2h0m0 0h0m0-1h0m0-1h0m5 1h0m1-1h0m5 1h0m1-1h0m6 2h0m16 0h0m2-1h0m12 1h0m14-1h0m-127 3h0m36 1h0m13-2h0m1 1h0m11-1h0m2 1h0m1-1h0m3 2h0m8-2h0m1 0h0m3 1h0m3-1h0m9 0h0m1 0h0m15 1h0m9-1h0m-89 3h0m5 1h0m2-1h0m19 1h0m2-2h0m4 1h0m1 1h0m6 0h0m2 0h0m1-1h0m8 2h0m14-2h0m38 1h0m6 0h0m-109 3h0m26-2h0m23 1h0m2-1h0m14 0h0m3 0h0m18 0h0m-123 3h0m53 1h0m40 2h0m11-1h0m-27 3h0m39 0h0m-17 5h0m-30 2h0m23 2h0"/><path id="c9a" d="M389 206h0m25 0h0m1 1h0m-26 7h0m8-1h0m59 1h0m-76 3h0m36-1h0m45 4h0m-75 1h0m12 0h0m36 2h0m-68 4h0m22 1h0m19-1h0m14-1h0m1 2h0m14-1h0m21 0h0m24 0h0m-66 3h0m20-2h0m6 0h0m39 1h0m-109 2h0m55 2h0m4-2h0m1 2h0m18-1h0m4 1h0m2-1h0m3-1h0m42 1h0m-141 2h0m27 0h0m12-1h0m18 2h0m3 1h0m4-2h0m3-1h0m15 3h0m27 0h0m-55 1h0m3-1h0m2 3h0m12-3h0m18 1h0m46 0h0m-78 3h0m13 0h0m12-1h0m3 0h0m-59 3h0m10 1h0m6 0h0m5-1h0m7 1h0m0 0h0m24 0h0m1-1h0m3 0h0m4 2h0m1-2h0m26 0h0m-74 3h0m14 0h0m5-1h0m13 0h0m2 2h0m1-2h0m4 0h0m7 2h0m19-2h0m11 2h0m5-1h0m44-1h0m-138 5h0m6-1h0m14 1h0m28-2h0m52 1h0m2-1h0m16 0h0m-70 4h0m1 0h0m0 1h0m6 0h0m4-2h0m15 1h0m27 0h0m-104 1h0m2 2h0m28 0h0m10-2h0m6 2h0m3 0h0m13-2h0m15 0h0m3 3h0m15-1h0m19 0h0m13-2h0m38 1h0m-153 2h0m9 1h0m4 1h0m18-2h0m6 1h0m25-1h0m8 1h0m3-1h0m32 2h0m-112 1h0m21 1h0m16-1h0m16 0h0m2 0h0m10 0h0m16 1h0m17 1h0m-62 1h0m11 0h0m1 0h0m6 1h0m3-1h0m1 0h0m3 0h0m25-1h0m7 2h0m30 1h0m-83 1h0m24 1h0m5-2h0m19 0h0m32 1h0m-118 2h0m9 0h0m39 1h0m5-2h0m1 2h0m2-1h0m0 0h0m8-1h0m5 1h0m12 1h0m16 0h0m-79 3h0m4 1h0m3-3h0m9 0h0m17 1h0m18 1h0m9-1h0m8 0h0m10 1h0m-58 3h0m35 0h0m3-2h0m78 1h0m-129 2h0m1 0h0m10 1h0m12 0h0m6-1h0m8 2h0m48-2h0m-34 4h0m11 1h0m3 3h0m-23 3h0m1 3h0m-15 2h0m18 5h0m24-3h0m53 0h0m-37 4h0"/><path id="c9b" d="M393 179h0m26 21h0m-8 12h0m11 3h0m20 2h0m-37 0h0m19 3h0m7 2h0m29 0h0m-72 2h0m1-1h0m37 2h0m9 0h0m-79 2h0m111-1h0m2 1h0m-96 1h0m49 1h0m22 2h0m-71 2h0m12-2h0m8 2h0m1-2h0m24 0h0m6 1h0m6 1h0m19-1h0m-87 3h0m27 0h0m13-1h0m11 1h0m9 1h0m6-1h0m14-1h0m7 0h0m5 1h0m3-1h0m11 2h0m9-3h0m-113 4h0m34 1h0m17 0h0m2 0h0m0 0h0m14-2h0m20 1h0m0 0h0m7-1h0m1 2h0m1 0h0m14 0h0m10 0h0m-105 3h0m22-1h0m8 0h0m4 1h0m3-1h0m35 0h0m4 1h0m15-1h0m-64 3h0m14 1h0m6-1h0m2-1h0m8 0h0m15 1h0m8 1h0m-60 2h0m4 0h0m6 1h0m11-3h0m13 1h0m6 0h0m8 0h0m-19 3h0m28 1h0m-34 3h0m5-1h0m0-1h0m2 0h0m10 1h0m39 0h0m-64 3h0m19-1h0m14 0h0m1 0h0m2-1h0m1 1h0m8 0h0m1 1h0m10-1h0m-63 2h0m17 0h0m26 1h0m2 0h0m0 0h0m2 1h0m6 0h0m-45 3h0m4-1h0m24-1h0m8 0h0m9 1h0m9-1h0m4 2h0m-74 1h0m1 0h0m65 0h0m11 2h0m2-3h0m-96 4h0m59-1h0m1 0h0m2 1h0m8-1h0m2 2h0m11-1h0m0 0h0m1-1h0m5 2h0m6-2h0m18 1h0m-91 2h0m55 1h0m10 1h0m56-1h0m-105 4h0m79-1h0m-107 1h0m22 0h0m15 1h0m9-1h0m17 1h0m1 0h0m9 0h0m22 0h0m2 0h0m-42 1h0m18 0h0m6 3h0m-40 1h0m28-1h0m14 2h0m6-2h0m-16 5h0m1-1h0m1 1h0m16 0h0m0 0h0m-26 1h0m-13 3h0m20 0h0m22-1h0m-43 8h0"/><path id="c10a" d="M456 227h0m-32 11h0m26 3h0m99-2h0m-69 5h0m69-1h0m-85 1h0m-2 5h0m13 0h0m16 0h0m16 0h0m39-1h0m-55 3h0m32 0h0m3-1h0m-65 4h0m0 0h0m2 0h0m32-1h0m6 1h0m17-2h0m3 1h0m-94 3h0m32 1h0m33-2h0m0 0h0m12 0h0m-45 4h0m22-1h0m5 0h0m43 1h0m-103 2h0m15 0h0m34 0h0m1 1h0m1 0h0m2 0h0m0-1h0m3 0h0m1 1h0m19 0h0m-69 1h0m5 2h0m6-1h0m37 0h0m15 1h0m4-1h0m15-1h0m19 2h0m25-2h0m5 0h0m-121 4h0m28 0h0m3 0h0m3 0h0m12 1h0m6-3h0m2 2h0m14-1h0m3 1h0m3 1h0m21 0h0m-122 2h0m30 0h0m4-1h0m7 0h0m15 0h0m1 1h0m16-2h0m7 2h0m16-1h0m0-1h0m2 2h0m2 0h0m5 0h0m3-1h0m13 1h0m26 0h0m14-1h0m-129 3h0m1 1h0m4-2h0m15 1h0m10 1h0m1-2h0m5 2h0m5 0h0m16-2h0m11 1h0m0 0h0m10 1h0m1-1h0m14 0h0m0-1h0m2 1h0m2-1h0m-77 3h0m3 1h0m0 0h0m5 0h0m2 0h0m7 1h0m12-1h0m4-2h0m1 1h0m18 1h0m2 0h0m-85 2h0m13 1h0m1-1h0m1 0h0m13 1h0m9-1h0m3 1h0m2 0h0m5 0h0m6 0h0m7 0h0m5-2h0m26 0h0m12 2h0m18 1h0m20-1h0m-98 2h0m0 1h0m11-2h0m2 0h0m16 2h0m48-2h0m3 1h0m-166 3h0m62 0h0m13-1h0m14 0h0m33 1h0m24-1h0m14 0h0m-106 4h0m0-1h0m18 0h0m27 1h0m0-1h0m1 1h0m5-1h0m0 1h0m2-1h0m17 1h0m0 0h0m-66 3h0m2-1h0m23 0h0m19 1h0m19 0h0m9 0h0m-25 1h0m6 2h0m22 0h0m9-2h0m4 1h0m7 0h0m-107 3h0m9 0h0m38-1h0m12 1h0m7 0h0m4-1h0m3-1h0m3 0h0m-52 3h0m15 2h0m6-2h0m5 1h0m24 0h0m12 1h0m-26 2h0m19 0h0m-47 4h0m49 1h0"/><path id="c10b" d="M484 231h0m12 8h0m2 3h0m39 5h0m1-1h0m7 0h0m-77 2h0m11-1h0m23 1h0m6 0h0m6 1h0m6-2h0m5 2h0m17 0h0m-78 2h0m4 1h0m8-2h0m9 2h0m4-2h0m13 2h0m12-2h0m4 2h0m5-1h0m-73 2h0m6 0h0m18-1h0m54 2h0m49-1h0m-160 4h0m46-1h0m10 1h0m58-2h0m43 1h0m-123 4h0m48-1h0m1-2h0m0 2h0m11-1h0m8 1h0m12-1h0m14 0h0m-99 3h0m27 0h0m6 0h0m2-1h0m8 1h0m10 1h0m26-1h0m9 1h0m11-1h0m-112 4h0m9 0h0m26 0h0m6-1h0m8 1h0m3 0h0m22-1h0m5 1h0m31 0h0m-101 2h0m4-1h0m12 0h0m11 2h0m2-1h0m9-1h0m3 0h0m2 1h0m0 0h0m3 0h0m1 0h0m21 0h0m1-1h0m4 0h0m67 0h0m-128 4h0m6 0h0m6-1h0m8 0h0m17 1h0m3 0h0m1 0h0m6-2h0m4 1h0m13 0h0m23 1h0m3-2h0m47 2h0m-168 1h0m26 2h0m6-2h0m16 2h0m6-1h0m17-1h0m2 1h0m0 1h0m5-1h0m1-1h0m3 1h0m31 1h0m-110 1h0m10 2h0m28 0h0m7-1h0m6 0h0m10 0h0m8-1h0m14 0h0m33 0h0m13 1h0m-109 2h0m13 1h0m5-1h0m23 0h0m1 1h0m2-1h0m5 0h0m1 0h0m9 2h0m9-2h0m7 1h0m3-1h0m-45 2h0m24 2h0m19-2h0m14 0h0m4 2h0m9 0h0m-125 1h0m0 0h0m36 2h0m21-1h0m4-1h0m13-1h0m20 2h0m-97 3h0m54-1h0m3 0h0m4-1h0m4 1h0m16 0h0m15 0h0m3 1h0m9 0h0m17 0h0m25 0h0m12-2h0m-94 5h0m32-2h0m47 0h0m-126 3h0m62 2h0m6-2h0m6 0h0m5-1h0m5 3h0m34-1h0m-88 2h0m42 0h0m12 0h0m1-1h0m26 1h0m-49 3h0m9-1h0m4 2h0m11 0h0m9 0h0m21-1h0m2-1h0m-125 3h0m105 2h0m-19 1h0m11 2h0m1 0h0m-25 1h0m32 0h0"/><path id="c11a" d="M712 153h0m11 7h0m0 7h0m-17 1h0m9 0h0m0 3h0m-6 1h0m9 2h0m6-1h0m17 1h0m-15 1h0m15 2h0m35-2h0m-11 5h0m21-1h0m-51 2h0m54-1h0m-85 7h0m7 1h0m81-1h0m10 0h0m2 0h0m3 0h0m-91 1h0m29 1h0m8 1h0m17-1h0m21 0h0m-49 3h0m55 1h0m9-1h0m-102 2h0m73 2h0m15-1h0m2 0h0m-88 4h0m48-1h0m4-1h0m50 1h0m8 0h0m-127 1h0m1 2h0m26-2h0m83 0h0m28 1h0m7 0h0m-142 3h0m33 0h0m27 0h0m16 1h0m24-3h0m-96 4h0m22 1h0m33 0h0m49 0h0m-108 1h0m11 2h0m82-1h0m37 0h0m20 1h0m14 0h0m1 0h0m7-1h0m-158 3h0m13-1h0m14 1h0m68 1h0m14 0h0m4-2h0m13 0h0m-112 3h0m60-1h0m14 1h0m46-1h0m4 2h0m9-1h0m26 1h0m-165 3h0m15 0h0m36-1h0m38 0h0m61 0h0m15 1h0m-173 2h0m46-1h0m22 1h0m57-1h0m-46 4h0m34-1h0m30 1h0m-118 3h0m23-2h0m78 0h0m41 0h0m4 1h0m-146 2h0m46 2h0m5-1h0m57 0h0m-73 1h0m44 0h0m39 1h0m17 0h0m5 0h0m2 0h0m-86 2h0m12 0h0m-49 3h0m34 0h0m18 0h0m-7 2h0m32 2h0m24 0h0m-69 5h0m12-1h0m8 1h0m15 0h0m38 0h0m16 0h0m-46 1h0m4 1h0m7 0h0m15 1h0m16 1h0m-39 4h0m26 0h0m4 1h0m-48 4h0m8-1h0m34 0h0"/><path id="c11b" d="M715 159h0m3 1h0m6-1h0m-23 7h0m23 2h0m-13 3h0m4-1h0m25 4h0m30-1h0m-41 9h0m-31 1h0m9 1h0m29 0h0m22 0h0m27-1h0m-71 2h0m0 3h0m5-2h0m55 1h0m1-2h0m26 3h0m-23 2h0m-64 1h0m28 2h0m27 0h0m-59 1h0m26 1h0m3-1h0m12 1h0m9-1h0m10-1h0m6 1h0m28 0h0m9 0h0m-114 3h0m104 1h0m15-1h0m-85 3h0m89 0h0m-124 3h0m54 1h0m96 0h0m-152 1h0m3 1h0m36 0h0m60-1h0m57 0h0m-115 4h0m85-2h0m19 1h0m17 0h0m-136 3h0m92 0h0m4 1h0m3-2h0m-124 4h0m19 0h0m6 0h0m52 0h0m13 0h0m12-1h0m9 0h0m3-1h0m53 1h0m-129 3h0m20 0h0m53 0h0m25 0h0m33-1h0m2 1h0m6-1h0m-173 3h0m35 0h0m88 2h0m-72 3h0m59-1h0m69-1h0m-160 4h0m34 0h0m24 0h0m3 0h0m20-1h0m39 1h0m4 0h0m2-2h0m-116 4h0m29-1h0m41 1h0m33 0h0m-90 3h0m23-1h0m40 1h0m21-1h0m-71 4h0m5 0h0m31-1h0m-38 2h0m24 0h0m29 0h0m31 0h0m-53 7h0m26-2h0m3 2h0m-4 2h0m34 0h0m25-1h0m-70 4h0m9 0h0m22 1h0m3-1h0m11 0h0m-46 3h0m4 0h0m6 0h0m55 0h0m-3 6h0m-9 4h0m8 5h0m1-1h0m1 1h0"/><path id="c12a" d="M896 222h0m-19 5h0m9-1h0m12 0h0m-15 3h0m7 0h0m-20 2h0m31 2h0m10-1h0m5 1h0m-38 3h0m1-1h0m15 1h0m13-1h0m0 0h0m2 1h0m0-1h0m14 0h0m-29 1h0m9 1h0m2 1h0m5 0h0m12-1h0m-39 3h0m1 0h0m15 0h0m19 0h0m1 1h0m18 0h0m-65 3h0m17 0h0m26-1h0m5-1h0m4 1h0m6-1h0m24 0h0m-67 2h0m15 2h0m14 0h0m8-1h0m0 0h0m22-1h0m1 2h0m9-1h0m-90 4h0m19-2h0m19 2h0m3-1h0m4-1h0m2 2h0m5 0h0m7 0h0m12-2h0m-22 4h0m22 0h0m-36 2h0m9 0h0m1 1h0m3 0h0m6-1h0m5 0h0m4-1h0m-31 3h0m4 1h0m18-1h0m14 0h0m7 2h0m-2 1h0m1 0h0m2 0h0m7 0h0m-29 3h0m3 1h0m3 0h0m18 1h0m6 0h0m19-3h0m6 1h0m-62 2h0m6 1h0m15-1h0m12 0h0m24 1h0m-4 2h0m25 0h0m-40 3h0m6-1h0m-4 4h0m17 1h0m8 0h0m2-2h0"/><path id="c12b" d="M877 222h0m30 3h0m-38 5h0m19 2h0m21 1h0m23 0h0m-62 3h0m49 0h0m-40 1h0m7 0h0m4 0h0m21 0h0m1 2h0m7-2h0m19 0h0m-30 3h0m1 0h0m1 1h0m-17 2h0m15 1h0m5-2h0m1 0h0m4 0h0m-24 3h0m8 1h0m28 0h0m8-2h0m-41 5h0m22 0h0m8-2h0m4 1h0m5 0h0m4 0h0m7 1h0m3-1h0m30-1h0m-73 4h0m6 0h0m7 1h0m2-2h0m1 0h0m6-1h0m0 2h0m-59 2h0m24 1h0m27 0h0m0-1h0m1-1h0m9 0h0m7 2h0m2 0h0m1 0h0m-9 3h0m1-1h0m5 1h0m4 0h0m6 0h0m16-2h0m11 2h0m-66 0h0m17 3h0m11-1h0m4-1h0m0 2h0m1-3h0m3 1h0m-19 5h0m21-1h0m14 0h0m1 0h0m-26 2h0m8 0h0m1-1h0m-24 3h0m42 1h0m11-1h0m-25 3h0m12 1h0m-8 5h0"/><path id="c13a" d="M496 148h0m129 1h0m-118 3h0m23-1h0m21 0h0m-34 7h0m20-1h0m24 2h0m13 2h0m47 0h0m-59 0h0m-27 4h0m9 1h0m20-2h0m7 1h0m25 1h0m-7 3h0m32 8h0m-118 1h0m40 2h0m50-1h0m-53 2h0m8 0h0m37 2h0m-24 1h0m43 1h0m-31 1h0m12 2h0m-7 1h0m-10 2h0m11 0h0m4 0h0m3 2h0m21 1h0m-72 4h0m8 0h0m40-1h0m-41 7h0m56 0h0m-91 3h0m84 3h0m-86 3h0m71 3h0m26-1h0m-58 3h0m20 1h0m4-1h0m4 1h0m34 0h0m-64 4h0m4-1h0m16 0h0m-26 1h0m6 1h0m-29 2h0m59 0h0m-72 3h0m109-1h0m7 3h0m0 1h0m5 0h0m-115 1h0m56 3h0m16 1h0m28 1h0m21-2h0m-111 6h0m10 1h0m71 1h0m29 1h0m-95 4h0m2-1h0m11 0h0m8 3h0m32 1h0"/><path id="c13b" d="M588 152h0m35-1h0m-77 7h0m3 1h0m56-3h0m-15 3h0m-83 6h0m31 0h0m-28 2h0m50 4h0m24 1h0m-88 2h0m11 0h0m19-1h0m78 0h0m-7 3h0m-33 1h0m17 1h0m26 0h0m-58 4h0m31-1h0m21 1h0m-86 1h0m10 2h0m71-2h0m-93 4h0m6 3h0m35-2h0m6 1h0m15 1h0m12 1h0m29-1h0m-80 1h0m29 0h0m22 2h0m14 3h0m-66 5h0m51-1h0m32-1h0m-109 3h0m27 1h0m-25 1h0m90 7h0m-66 2h0m9 0h0m83 0h0m-96 4h0m17-1h0m82 4h0m-113 5h0m18-1h0m62-1h0m-81 3h0m45-1h0m3 2h0m27 1h0m18-2h0m0 0h0m-69 4h0m-35 3h0m57-1h0m68-1h0m-90 4h0m28 1h0m7-2h0m60 4h0m-129 1h0m58 2h0m55 0h0m-7 2h0m5 4h0m-102 2h0m21-2h0m42 5h0m26 2h0"/><path id="c14a" d="M408 117h0m4 2h0m2 5h0m55 2h0m23 7h0m-64 2h0m61 0h0m-57 4h0m3 2h0m-1 4h0m13-2h0m9 2h0m93-1h0m-142 4h0m151-2h0m-54 2h0m7 3h0m5 1h0m-96 3h0m19-1h0m74 0h0m16 0h0m-11 3h0m9 1h0m-34 3h0m-71 1h0m14 1h0m124 0h0m41 4h0m-164 1h0m140 1h0m23 0h0m-149 3h0m49-1h0m52 0h0m-118 2h0m8 1h0m22 0h0m3-1h0m93 1h0m7-2h0m-32 3h0m-81 4h0m59 1h0m-111 2h0m3 0h0m46 0h0m68 0h0m93-1h0m-210 3h0m10 0h0m60 0h0m30 2h0m80 2h0m-49 5h0m35-1h0m-107 3h0m6 0h0m16-1h0m54 1h0m28-1h0m-88 3h0m-50 3h0m164-1h0m-58 6h0m-138 3h0m50 0h0m125 1h0m-145 2h0m30 0h0m17 3h0m56 0h0m25 1h0m-161 2h0m53 0h0m8-1h0m-33 3h0m79-1h0m-108 3h0m3 3h0m25-1h0m34 2h0m49 2h0m-79 3h0m174 1h0m-170 1h0m55 1h0m32 0h0m-68 2h0m78-1h0m-80 2h0m16 1h0m-68 2h0m15 1h0m7 1h0m29-1h0m23 3h0m-68 2h0m157 1h0m-98 2h0m122 0h0m-133 2h0m47 1h0m27 1h0m-98 2h0m14 0h0m112 1h0m-36 4h0m-32 2h0m61 3h0m38-1h0m-18 5h0m14 7h0m-10 1h0"/><path id="c14b" d="M425 126h0m35 0h0m26 3h0m-3 4h0m13 6h0m9 0h0m-72 8h0m123-1h0m-1 5h0m-147 4h0m161 0h0m45 2h0m-160 2h0m89 0h0m-123 3h0m24 0h0m14 2h0m102-2h0m-116 4h0m75 0h0m5-1h0m-11 4h0m101-1h0m1-1h0m-208 4h0m24 1h0m71-1h0m113 0h0m-132 4h0m59-2h0m-104 6h0m109-1h0m44 1h0m-160 2h0m124 0h0m22 2h0m22-3h0m-194 5h0m101 0h0m28 0h0m58-1h0m-88 3h0m17 0h0m-34 4h0m63-2h0m-77 3h0m-44 5h0m29-1h0m134 3h0m-76 4h0m-36 3h0m24-1h0m67 1h0m9-1h0m-30 4h0m30-1h0m-116 3h0m89-1h0m-74 4h0m24-1h0m34 1h0m-99 2h0m22 0h0m3-1h0m96 2h0m19-1h0m-180 4h0m32-1h0m72 1h0m-76 2h0m8 0h0m90-1h0m-61 3h0m116 1h0m9-1h0m-192 2h0m83 1h0m-62 2h0m29 1h0m65-1h0m15 0h0m-74 4h0m136-2h0m-102 5h0m-46 0h0m114 1h0m-124 4h0m6 1h0m21 0h0m30 2h0m8 0h0m54-1h0m-133 3h0m119 0h0m-99 1h0m95 0h0m-88 3h0m70 1h0m88 1h0m-126 1h0m103-1h0m-71 7h0m6 4h0m58 2h0m0 1h0m-31 6h0"/><path id="c15a" d="M469 123h0m61 4h0m-9 0h0m12 0h0m-4 2h0m38 4h0m-105 4h0m-23 3h0m14 0h0m5 3h0m8 0h0m127 5h0m14 3h0m-181 0h0m95 2h0m-46 1h0m60 3h0m20 3h0m-131 4h0m4-1h0m85-1h0m70 1h0m-3 2h0m6 2h0m3 4h0m-94 4h0m112 2h0m-158 2h0m35 0h0m3 0h0m113 0h0m-169 2h0m99 1h0m-15 6h0m28 0h0m-89 0h0m31 3h0m115 0h0m-119 2h0m-18 1h0m-30 3h0m16-1h0m75 2h0m-103 3h0m40 0h0m50-1h0m37 0h0m-121 3h0m43 1h0m100 5h0m-60 0h0m-47 3h0m-45 5h0m7 4h0m23 6h0m58-1h0m-4 3h0m53-1h0m-133 4h0m66-1h0m67 0h0m-112 9h0m51 2h0m-24 4h0m91 1h0m-52 8h0m70 1h0m-56 6h0m22 3h0m4 1h0"/><path id="c15b" d="M482 122h0m26 4h0m-56 4h0m92 0h0m5 0h0m-12 4h0m20 1h0m-109 3h0m-3 7h0m1 1h0m6 2h0m43-2h0m-47 2h0m167 5h0m-175 10h0m9 1h0m163 8h0m-154 2h0m43 1h0m50 1h0m-46 2h0m38 1h0m16-1h0m20 3h0m8 0h0m-100 4h0m75 0h0m-74 13h0m92-2h0m-137 4h0m138 2h0m-44 5h0m-118 5h0m107 0h0m77 5h0m-77 3h0m1 1h0m8 6h0m-90 2h0m-19 4h0m165-1h0m-106 9h0m77-1h0m-98 6h0m68 3h0m-53 2h0m67 1h0m15 1h0m14 1h0m13 12h0"/><path id="c16a" d="M391 132h0m58 29h0m-1 2h0m-54 3h0m24 0h0m58 0h0m65 8h0m-56 3h0m97 2h0m-194 2h0m112 3h0m89 0h0m-13 3h0m-140 3h0m56-1h0m-75 9h0m127 2h0m37 1h0m-181 1h0m140 4h0m23 5h0m19-1h0m-158 7h0m125-2h0m21 2h0m-158 6h0m91-3h0m37 1h0m29 2h0m-179 6h0m133 1h0m36 1h0m17 2h0m-168 3h0m75-2h0m-99 9h0m124 1h0m57-1h0m-187 2h0m52-1h0m-12 8h0m8-1h0m22 2h0m103 1h0m-79 4h0m30 1h0m-22 6h0m37 4h0m-10 3h0m28 4h0m33 7h0"/><path id="c16b" d="M417 137h0m2 4h0m-34 9h0m14 9h0m83 2h0m-67 1h0m49 4h0m-43 3h0m161-2h0m-56 6h0m-31 2h0m56 2h0m-123 1h0m124 0h0m23 0h0m1 3h0m-197 7h0m140-2h0m-129 5h0m98-1h0m-47 3h0m113 2h0m-158 7h0m185 2h0m-130 3h0m75 5h0m-93 2h0m132 0h0m-134 1h0m122 0h0m-123 4h0m42 0h0m77 0h0m-114 6h0m-33 3h0m-35 10h0m6-1h0m163 0h0m24 1h0m0 3h0m-102 7h0m68 8h0m23 4h0m-19 1h0m-71 2h0m120 0h0m-72 8h0m41 8h0m23 0h0"/><path id="c17a" d="M461 64h0m40 8h0m6 1h0m-27 2h0m12 0h0m34 0h0m14 3h0m-57 5h0m40 2h0m-22 3h0m32 3h0m-72 3h0m25-2h0m1 1h0m3 1h0m-10 1h0m17 2h0m-25 3h0m17-1h0m32 1h0m19-2h0m-15 2h0m-63 5h0m7-2h0m2 0h0m3 1h0m14 1h0m32-2h0m14 0h0m-8 3h0m-53 4h0m2 5h0m52 0h0m-55 6h0m3 0h0m26-2h0"/><path id="c17b" d="M476 65h0m-3 8h0m1-1h0m43 1h0m-44 2h0m33 2h0m-37 5h0m-8 2h0m36 4h0m26 0h0m-14 3h0m-44 8h0m20-2h0m16 2h0m6 1h0m24-1h0m8 0h0m2 1h0m-21 1h0m8-1h0m-48 4h0m5 0h0m40 0h0m-36 5h0m45 0h0m-73 3h0m19 1h0m8-2h0m23 1h0m-17 3h0m38 4h0m7-2h0m-46 2h0m4 1h0m-24 2h0"/><path id="c18a" d="M452 324h0m54 0h0m-49 2h0m36-2h0m2 2h0m42-1h0m-49 3h0m33 0h0m-75 4h0m29-2h0m7 2h0m2-2h0m21 1h0m3-1h0m10 0h0m-62 4h0m4 0h0m4 0h0m8-1h0m14 0h0m3 1h0m1-1h0m10 1h0m1-2h0m3 3h0m3-3h0m0 2h0m4-2h0m1 1h0m9 0h0m1 0h0m2-1h0m-77 3h0m14 0h0m10 0h0m1 0h0m8 1h0m31 1h0m0-1h0m2-1h0m10 0h0m1 1h0m5 0h0m5 1h0m17 0h0m3-2h0m-92 3h0m14 1h0m1-1h0m5 0h0m1 0h0m0 2h0m3-2h0m1 2h0m2-1h0m2 1h0m0-2h0m9 2h0m8-1h0m1-1h0m8 0h0m4 1h0m0-1h0m5 1h0m16-1h0m16 1h0m-121 1h0m32 1h0m5-1h0m3 2h0m0 0h0m1 0h0m2 0h0m0-1h0m10 1h0m12-1h0m0-1h0m4 2h0m7-1h0m5 2h0m1-1h0m2 0h0m4-1h0m8-1h0m1 1h0m4 2h0m3-1h0m1 0h0m2 1h0m2 0h0m5-2h0m-77 4h0m22-2h0m4 1h0m7-1h0m3 1h0m2-1h0m7 0h0m5 2h0m6 0h0m1-2h0m10 0h0m4 2h0m1 0h0m15-2h0m10 1h0m18-1h0m-124 4h0m2-2h0m2 2h0m3-1h0m17-1h0m2 2h0m4-2h0m16 2h0m1-1h0m1 1h0m2 0h0m6 1h0m2-2h0m1 1h0m1-1h0m3 0h0m0 0h0m11 1h0m-62 2h0m2 1h0m17 1h0m2-1h0m5-2h0m3 1h0m2 0h0m2 0h0m3 0h0m4 1h0m4 0h0m8-2h0m2 2h0m2 1h0m5-1h0m11-1h0m7 1h0m4-1h0m11 1h0m-99 1h0m32 2h0m2-2h0m4 0h0m8 2h0m1-1h0m4 0h0m4 0h0m9 1h0m7 0h0m11-2h0m-68 3h0m14 1h0m6-1h0m1-1h0m6 1h0m42 2h0m-70 1h0m4-1h0m19 2h0m7-1h0m10-1h0m2 2h0m12 0h0m9 0h0m11 1h0m-41 0h0m0 4h0m62 0h0m-19 3h0"/><path id="c18b" d="M487 318h0m80 3h0m-82 3h0m-26 3h0m29-3h0m4 1h0m-53 4h0m6-2h0m5 0h0m37 2h0m26-1h0m53 0h0m-126 4h0m20 0h0m26 0h0m4-1h0m66-2h0m22 3h0m-115 1h0m8 0h0m14 0h0m5-1h0m1 1h0m1 0h0m7-1h0m1 1h0m0 1h0m2 1h0m5-1h0m5 0h0m4-2h0m4 1h0m0 1h0m1-1h0m9 0h0m4 2h0m34-1h0m-131 3h0m14-1h0m20 1h0m6 0h0m6-2h0m12 0h0m3 1h0m0-1h0m10 2h0m9-2h0m4 2h0m1-1h0m2-1h0m2 2h0m11-1h0m8-1h0m20 2h0m-108 2h0m8 1h0m5-2h0m4 1h0m4 1h0m7-2h0m15 1h0m7 0h0m2-1h0m3 1h0m4 0h0m1 1h0m10-2h0m4 1h0m12-1h0m-77 4h0m11-1h0m1 1h0m9 0h0m5-1h0m6 0h0m6-1h0m3 2h0m1 0h0m3-2h0m1 1h0m6 1h0m4-1h0m4 0h0m4 1h0m0-1h0m10 1h0m8-1h0m7 1h0m7-2h0m9 1h0m-125 4h0m10-1h0m1-1h0m26 0h0m12 2h0m2 0h0m3-1h0m11 0h0m5-1h0m16 0h0m3 1h0m37 1h0m1 0h0m-96 1h0m29 2h0m3-1h0m3-1h0m4 0h0m1 1h0m1-1h0m1 0h0m2 0h0m4-1h0m0 1h0m9 0h0m8 1h0m1 0h0m2-1h0m1 1h0m0 0h0m6-2h0m20 2h0m-112 2h0m6 1h0m1 1h0m4-1h0m14-2h0m21 2h0m4-1h0m5 0h0m4 1h0m0 1h0m5-2h0m3 0h0m1-1h0m6 0h0m2 1h0m2-1h0m8 1h0m14 0h0m-55 2h0m5 2h0m4-1h0m45 0h0m22-1h0m-95 5h0m9-1h0m6-1h0m23 0h0m9 0h0m2 0h0m6 1h0m18-1h0m-71 3h0m30 0h0m34 1h0m-21 2h0m29 0h0m5-1h0m-53 3h0"/><path id="c19a" d="M875 317h0m85 1h0m17 0h0m1 0h0m1 0h0m4-1h0m15 0h0m-88 3h0m13 0h0m0 1h0m27 0h0m1-1h0m7-1h0m4 2h0m8-2h0m12 2h0m-112 1h0m3 2h0m35-2h0m6 0h0m2 1h0m14 1h0m8-1h0m19-1h0m14 1h0m0 0h0m14 0h0m-129 2h0m31 0h0m3 2h0m5-1h0m15-1h0m5 2h0m0-1h0m4 0h0m7 0h0m0 0h0m6 0h0m8-1h0m3 0h0m3 1h0m17-1h0m3 1h0m25-1h0m7-1h0m-144 4h0m1-1h0m4 2h0m18 0h0m16-2h0m2 1h0m4 1h0m0 0h0m2-2h0m17 0h0m10 0h0m2 0h0m13 1h0m18 0h0m2-1h0m8 2h0m22-1h0m9-1h0m2 1h0m-225 3h0m41 1h0m6-2h0m19 2h0m3-2h0m28 2h0m0-2h0m0 1h0m3 1h0m1-2h0m4 0h0m4 1h0m1-1h0m0 0h0m9 0h0m3 1h0m6 1h0m1 0h0m0-2h0m4 0h0m6 1h0m32-1h0m4 0h0m4 1h0m7 0h0m-155 4h0m3-2h0m30 1h0m19 0h0m5 0h0m12-1h0m36 1h0m2-1h0m4 0h0m1-1h0m-123 4h0m2 0h0m13 0h0m22-1h0m2 2h0m0-2h0m10 1h0m6-1h0m1 0h0m0 1h0m2-1h0m0 1h0m2 0h0m3 1h0m1 0h0m3-2h0m5 0h0m5 1h0m3 0h0m3 1h0m9 0h0m0-2h0m5 0h0m5 0h0m3 2h0m8 0h0m0 0h0m9-1h0m43 1h0m-207 2h0m8-1h0m34 0h0m10 2h0m3 0h0m3-1h0m5-1h0m9 1h0m3-2h0m4 0h0m2 2h0m15-1h0m2 1h0m9-1h0m5 1h0m8 0h0m11 0h0m0 0h0m2-1h0m3 1h0m3 0h0m-129 2h0m49 1h0m2 0h0m5 0h0m13 0h0m4 0h0m4 0h0m1-2h0m30 1h0m2-1h0m6 2h0m40-1h0m23 0h0m-218 4h0m51-2h0m17 0h0m3 1h0m6 0h0m28-1h0m9 0h0m4 2h0m23-2h0m18 1h0m14-1h0m-177 3h0m54 1h0m18 1h0m4-2h0m35 0h0m33 4h0m-112 3h0m37-1h0m3 0h0m-23 2h0m1 0h0m54 3h0m-18 3h0"/><path id="c19b" d="M952 312h0m16-1h0m-22 3h0m10 0h0m27 2h0m1 3h0m1-1h0m19 0h0m-110 2h0m10 0h0m18-1h0m3 1h0m4-1h0m14 0h0m14 1h0m19 0h0m2 0h0m24 0h0m-126 2h0m36 0h0m20 2h0m12-1h0m9-1h0m0 2h0m23-1h0m4-2h0m5 2h0m12 0h0m9 0h0m-178 2h0m47 0h0m25 1h0m11 0h0m1-1h0m3 1h0m12-1h0m11 1h0m1-2h0m38 1h0m5 1h0m-186 3h0m42-1h0m20-1h0m0 1h0m1 0h0m1 0h0m5 1h0m7 0h0m2 0h0m2 0h0m0 0h0m4 0h0m0-1h0m1-1h0m23 1h0m0-1h0m5 1h0m6 0h0m0 0h0m2 1h0m4-1h0m1 0h0m9 0h0m11 0h0m4-1h0m20 1h0m10 0h0m1-1h0m-169 4h0m30-1h0m17 0h0m2 1h0m9 0h0m1 0h0m2 1h0m5-2h0m12 1h0m11 0h0m0-2h0m26 3h0m20-1h0m1 1h0m7-1h0m20 0h0m7 0h0m4 0h0m-182 1h0m49 2h0m0-1h0m1 1h0m11-1h0m0 1h0m22-2h0m1 0h0m7 1h0m4 1h0m4-2h0m1 3h0m4-2h0m10 1h0m1-1h0m5 2h0m13-3h0m5 2h0m7-1h0m16 0h0m-177 2h0m29 1h0m10-1h0m1 2h0m11-1h0m1 0h0m7-1h0m2 2h0m2-1h0m4 0h0m5 0h0m7 1h0m9 0h0m1-2h0m2 0h0m3 2h0m3-1h0m1-1h0m2 2h0m12 0h0m1-2h0m2 2h0m1-1h0m6 1h0m21-1h0m0-1h0m16 0h0m-167 4h0m1 0h0m5 1h0m25 0h0m1 0h0m8-1h0m0 0h0m15-2h0m1 3h0m6-2h0m13 0h0m1 2h0m6-3h0m4 3h0m2-1h0m8-1h0m18 1h0m9-2h0m12 3h0m-150 0h0m19 2h0m1-2h0m19 1h0m23-1h0m9 2h0m15-1h0m6 0h0m4-1h0m11 0h0m-120 3h0m15 1h0m36-1h0m15 0h0m37 0h0m-165 3h0m73 1h0m74 1h0m36 0h0m6-2h0m29-1h0m-155 3h0m44 1h0m17 0h0m-22 3h0m63-1h0m-142 6h0"/><path id="c20a" d="M713 326h0m6 2h0m0-1h0m4 0h0m-12 6h0m4 1h0m-12 6h0m2-3h0m7 2h0m4-1h0m-12 3h0m15 1h0m-3 1h0m10 3h0m23 2h0"/><path id="c20b" d="M708 321h0m8-2h0m-19 8h0m6-2h0m21 1h0m-34 3h0m1 0h0m23-1h0m2-1h0m-17 3h0m16-1h0m4 1h0m15 0h0m-34 4h0m4-1h0m6 1h0m1 0h0m-31 2h0m25-1h0m12 1h0m5 1h0m-19 1h0m30 1h0m-26 2h0m10-1h0m5 0h0m-22 4h0m3 1h0m33 0h0m-22 4h0"/><path id="c21a" d="M595 312h0m86 1h0m-66 3h0m52-3h0m-11 4h0m-60 2h0m7 0h0m37 0h0m49 1h0m-27 3h0m12 0h0m-45 2h0m11 0h0m27 2h0m8 1h0m2 3h0m-56 3h0m16-2h0m36 1h0m3 2h0m-74 0h0m0 1h0m12 0h0m10 1h0m8-2h0m-17 4h0m54 2h0m-39 6h0"/><path id="c21b" d="M617 315h0m57 0h0m-88 4h0m36 0h0m29 0h0m22 0h0m-79 4h0m12 0h0m46 0h0m-48 2h0m67 0h0m15-1h0m7 2h0m-95 3h0m7-1h0m81 1h0m1 2h0m-69 3h0m51-1h0m-46 2h0m3 0h0m58 5h0m-70 2h0m-15 2h0m22 0h0m3-1h0m-24 2h0m30 2h0"/><path id="c22a" d="M1355 409h0m12 2h0m-34 3h0m19-1h0m8 9h0m-24 2h0m10-1h0m25 2h0m2 0h0m-55 1h0m3 0h0m20-1h0m32 2h0m-21 2h0m11 1h0m-18 1h0m7 2h0m4-1h0m2-1h0m8 1h0m8 0h0m-44 4h0m1-2h0m3 1h0m5 1h0m19-2h0m4 0h0m-49 2h0m31 1h0m3 0h0m12 1h0m1-1h0m2 1h0m1-2h0m4 0h0m-48 3h0m16 0h0m5 0h0m0 2h0m7 0h0m2-2h0m11 0h0m3 1h0m4-1h0m10 0h0m11 1h0m2 0h0m-113 3h0m24-1h0m31 1h0m1-1h0m8 0h0m1 2h0m2-2h0m17 1h0m5 0h0m19 1h0m0-2h0m-92 3h0m36 1h0m1 0h0m5 0h0m8 1h0m22-3h0m-42 5h0m0-1h0m14 1h0m12 0h0m2-1h0m-32 2h0m18-1h0m5 1h0m9-1h0m4 1h0m5 1h0m-54 3h0m20-1h0m3 0h0m6 1h0m7 0h0m3 0h0m4-1h0m2 1h0m10-2h0m-49 3h0m13 1h0m6 1h0m4-2h0m3 0h0m4 0h0m23 0h0m6 0h0m-64 3h0m18 0h0m0 2h0m1-2h0m3 2h0m0-1h0m3-1h0m4 0h0m25 2h0m-66 2h0m12 0h0m4 0h0m7-2h0m5 2h0m11-1h0m2 0h0m4-1h0m1 2h0m11-1h0m5 1h0m7-1h0m-54 3h0m3 1h0m5-1h0m4 1h0m4-1h0m13 1h0m2 0h0m1-1h0m24 0h0m-60 4h0m2-2h0m2 0h0m3 0h0m11 0h0m6 0h0m17 0h0m2-1h0m-53 4h0m5 0h0m32 1h0m1-1h0m5 1h0m6 0h0m3 0h0m-51 1h0m3 2h0m10 0h0m1-2h0m9 0h0m12 2h0m-45 2h0m7-1h0m18 2h0m1-1h0m9 0h0m9-1h0m7 0h0m-43 4h0m9-1h0m0 2h0m12-1h0m7-1h0m-42 2h0m14 2h0m4-1h0m14 1h0m5-1h0m16 1h0m13-1h0m-37 4h0m22-2h0m-49 3h0m8 2h0m20-3h0m17 1h0m5 0h0m-41 4h0m1-1h0m3 1h0m6 0h0m0 2h0m26 1h0m-25 0h0m6 1h0m11 1h0m10 0h0m-43 3h0m42 0h0m-61 2h0m25 6h0m-9 10h0m-5 1h0"/><path id="c22b" d="M1326 420h0m26 2h0m10-2h0m2 2h0m5 1h0m-26 4h0m25-1h0m-19 4h0m3-2h0m11 2h0m3-1h0m-4 3h0m8 0h0m-27 3h0m1 0h0m1-1h0m0 0h0m9 1h0m-36 4h0m21-1h0m14-2h0m4 0h0m4 2h0m9-1h0m10 0h0m0 0h0m-45 4h0m4-1h0m1 1h0m27-2h0m7 1h0m0-1h0m-47 4h0m8-2h0m3 1h0m10 0h0m1 2h0m2-1h0m2 1h0m2-2h0m10 1h0m7 0h0m9 0h0m-74 4h0m15-1h0m2-1h0m31 1h0m1 0h0m-45 1h0m17 2h0m4-1h0m12 1h0m1-1h0m1 0h0m21-1h0m13 0h0m-103 3h0m35 0h0m0 1h0m14-1h0m1 1h0m14 1h0m0-2h0m6 1h0m1 0h0m0 0h0m5-1h0m3-1h0m16 1h0m-69 4h0m20-1h0m1 2h0m1-2h0m8 0h0m11 0h0m6-1h0m-48 5h0m12-1h0m0-1h0m1 0h0m7 0h0m9 1h0m1-1h0m6 0h0m7 0h0m20 2h0m8-2h0m0 2h0m-64 1h0m1 0h0m2 2h0m9-1h0m4-1h0m1 1h0m3-1h0m3 1h0m7-2h0m2 3h0m6-1h0m3-1h0m7 0h0m0 1h0m-104 1h0m47 2h0m12 0h0m5 0h0m7-1h0m0 1h0m24-1h0m-59 2h0m2 2h0m17-2h0m12 2h0m10-1h0m11 1h0m2-1h0m8 0h0m-56 4h0m2-1h0m2 0h0m3 0h0m3 0h0m2 0h0m12 0h0m10 1h0m2 0h0m1-2h0m1 1h0m7-1h0m6 1h0m5 1h0m-73 1h0m30-1h0m2 1h0m8-1h0m1 1h0m12 0h0m-51 3h0m6 0h0m14 1h0m3-1h0m2-1h0m13 0h0m8 2h0m23-1h0m0-1h0m-61 4h0m18-1h0m9 1h0m3-1h0m10 0h0m1 0h0m4 0h0m6 1h0m4-1h0m8 0h0m1 0h0m-89 3h0m29 0h0m17 0h0m7 0h0m3 1h0m12 0h0m6-2h0m-52 3h0m0 2h0m7-1h0m14-1h0m2 0h0m17 1h0m4-1h0m1 1h0m8 1h0m-53 2h0m43-1h0m14-1h0m-52 3h0m28 2h0m12 1h0m-53 1h0m7 0h0m29 0h0m-54 2h0m14 0h0m21 0h0m16 1h0m4-1h0m-42 4h0m21 1h0m29 2h0m-34 2h0m-36 6h0m39-2h0m-14 10h0"/><path id="c23a" d="M1303 459h0m-22 4h0m40 3h0m-69 7h0m7 2h0m3-1h0m3 0h0m30 0h0m-26 4h0m-16 2h0m13 1h0m19-2h0m29 2h0m21-1h0m-75 2h0m-6 4h0m4-1h0m3 0h0m8-1h0m7 0h0m4 1h0m12 0h0m-41 3h0m4 1h0m8-2h0m10 2h0m2 0h0m6-1h0m1 0h0m-28 2h0m2 1h0m14 1h0m1-2h0m21 2h0m-52 0h0m9 2h0m0 0h0m10 0h0m12 1h0m12-1h0m-44 1h0m7 1h0m0 0h0m5 1h0m7-2h0m5 0h0m1 1h0m20 0h0m-39 3h0m4 1h0m3-1h0m4-1h0m11 0h0m-47 3h0m23 0h0m2 0h0m2-1h0m8 1h0m2 0h0m16 2h0m5-2h0m4 0h0m7-1h0m18 2h0m-102 1h0m1 1h0m34 1h0m4-2h0m5 1h0m0 1h0m11-1h0m0-1h0m-39 4h0m5-1h0m8 0h0m2 1h0m6-1h0m5 1h0m4 1h0m4 0h0m4-2h0m9 0h0m12 1h0m3 0h0m-74 4h0m15-1h0m15-1h0m13 0h0m6 1h0m5 0h0m1 0h0m7 0h0m-61 1h0m10 2h0m8-2h0m25 1h0m11-1h0m8 0h0m-68 3h0m5 2h0m32-2h0m3 0h0m36 1h0m-39 3h0m5 0h0m2-1h0m4 1h0m3-1h0m13 0h0m-52 2h0m8 2h0m11 0h0m6-1h0m20 1h0m-79 2h0m32-1h0m6-1h0m14 3h0m3-2h0m1 1h0m20 0h0m-55 3h0m14-2h0m2 1h0m15 0h0m7-1h0m2 1h0m22 1h0m-59 3h0m12-2h0m14 1h0m39 1h0m-71 1h0m8 0h0m26 0h0m42 2h0m-89 2h0m51 0h0m-58 2h0m25 0h0m10 0h0m59-1h0m-49 3h0m10 0h0m-38 4h0m24 0h0m-32 1h0m39 1h0m32-1h0m-84 9h0m-6 4h0"/><path id="c23b" d="M1279 458h0m24 7h0m-46 5h0m59-1h0m-50 5h0m-3 4h0m20-2h0m8 2h0m0-2h0m13 3h0m-31 2h0m10-2h0m20 1h0m-95 1h0m60 1h0m3 1h0m3 0h0m8-1h0m10 1h0m31-1h0m-93 4h0m29-1h0m28 0h0m-19 3h0m16 0h0m17 1h0m-74 1h0m3 1h0m3 0h0m4-1h0m5 1h0m6-1h0m38-1h0m21 2h0m-69 2h0m5 0h0m13 1h0m22 0h0m-37 1h0m11 2h0m19-2h0m5 1h0m5-1h0m1 1h0m6 1h0m5-2h0m3 1h0m-61 2h0m3 2h0m-18 2h0m16 0h0m10 1h0m0-3h0m31 1h0m1 1h0m-56 3h0m12-1h0m5 0h0m9 0h0m8-1h0m4 1h0m4 1h0m12 0h0m13-2h0m7 2h0m-91 3h0m17-3h0m11 0h0m4 3h0m8 0h0m0-1h0m2-1h0m13 1h0m1-1h0m11 0h0m3 1h0m11-1h0m-62 3h0m4 0h0m7 0h0m3 0h0m0 0h0m1 1h0m5-1h0m2 0h0m13 0h0m8 0h0m6 0h0m3 1h0m2-2h0m-54 4h0m0 1h0m7-2h0m10 1h0m10 1h0m14-1h0m1-1h0m13 2h0m-74 1h0m15 0h0m7 1h0m0 0h0m1 1h0m1-1h0m2 0h0m16-1h0m12 2h0m9-1h0m2-1h0m-59 3h0m25 1h0m0-1h0m34 0h0m8 1h0m-73 3h0m6-1h0m3 0h0m1 1h0m3-2h0m6 0h0m15 1h0m1 1h0m7-2h0m5 1h0m-40 2h0m5 0h0m0 0h0m8 1h0m1 0h0m4-1h0m12-1h0m10 2h0m18-1h0m-57 2h0m17 2h0m4 0h0m2 0h0m3 0h0m3 0h0m-36 3h0m11-2h0m9 0h0m2 2h0m2 0h0m2 0h0m11-1h0m13 0h0m-54 2h0m1 1h0m0-1h0m17 1h0m0 0h0m4-1h0m5 1h0m1 0h0m-25 3h0m4 0h0m11-2h0m26 1h0m-68 6h0m4 0h0m13-1h0m31 1h0m5 0h0m-9 3h0m-17 4h0m20 2h0m-46 4h0m29 4h0"/><path id="c24a" d="M1297 379h0m-35 3h0m6-1h0m30 0h0m-1 3h0m-58 2h0m33 0h0m-94 2h0m66 1h0m19 3h0m-65 4h0m32-1h0m37-1h0m-122 2h0m119 1h0m11-1h0m19 1h0m-91 7h0m76 0h0m-76 2h0m14 0h0m-125 2h0m103 4h0m15-1h0m33 0h0m-166 4h0m58-1h0m12-2h0m-102 3h0m0 1h0m203 3h0m-126 3h0m14-1h0m56 0h0m68 1h0m4 0h0m-188 2h0m81 0h0m117 0h0m-247 4h0m108-2h0m19-1h0m44 2h0m41-1h0m-80 2h0m85 0h0m-189 5h0m51-2h0m11 2h0m61-2h0m-138 3h0m100 0h0m12 0h0m51 1h0m17 0h0m25-1h0m43 2h0m-245 2h0m162 0h0m84 0h0m-102 1h0m15 0h0m62 1h0m-55 2h0m4 1h0m40 0h0m43 0h0m-195 3h0m60-1h0m-88 3h0m20 0h0m176-1h0m6 1h0m-266 3h0m14 1h0m-4 2h0m265-2h0m-267 5h0m52-2h0m75 1h0m9 0h0m16 1h0m50-2h0m44 0h0m4 2h0m-200 2h0m14 0h0m1-1h0m103 0h0m53 0h0m-184 2h0m241 0h0m13 0h0m-195 4h0m39-1h0m24 1h0m24 0h0m-124 2h0m16 0h0m-38 3h0m173 1h0m25-1h0m-139 3h0m38 0h0m-115 3h0m278-1h0m-258 4h0m122 0h0m27 1h0m12-3h0m41 2h0m-228 3h0m87-2h0m71 0h0m-75 5h0m121-1h0m22 0h0m-58 3h0m42-1h0m37-1h0m18 1h0m-219 4h0m155-2h0m-153 4h0m70 0h0m34-1h0m58 2h0m48-2h0m-265 4h0m49-1h0m57 0h0m134 1h0m-98 3h0m41-2h0m23 0h0m9 0h0m6 2h0m6-2h0m-183 4h0m13 1h0m130 0h0m17 2h0m-175 1h0m112 1h0m-107 3h0m87-1h0m28 2h0m-126 0h0m79 1h0m-81 4h0m47 0h0m-19 3h0m-35 2h0m97 0h0m9-2h0m-117 5h0m2-1h0m14 0h0m12 0h0m-2 3h0m30 5h0"/><path id="c24b" d="M1250 375h0m22 1h0m-9 3h0m11 4h0m-83 2h0m26 0h0m9-1h0m20 0h0m-60 4h0m95 4h0m-26 3h0m20 0h0m1-1h0m-24 4h0m36-1h0m-120 6h0m6-1h0m-26 5h0m71 1h0m51 0h0m-170 2h0m137 1h0m-36 2h0m30 2h0m-150 1h0m24 1h0m78 0h0m12 0h0m97-2h0m-237 4h0m107-1h0m77 0h0m56 2h0m-153 2h0m-31 3h0m65 0h0m6-1h0m19 1h0m-103 0h0m14 2h0m1 0h0m77 1h0m54-1h0m58-1h0m-280 3h0m60-1h0m31 3h0m81-1h0m2-1h0m-61 2h0m23 0h0m121 1h0m-161 2h0m110 0h0m12 1h0m21 1h0m5-1h0m4-1h0m-222 3h0m61 0h0m9 0h0m17 1h0m-43 3h0m146 0h0m17-2h0m-235 5h0m122-3h0m35 1h0m69 0h0m-175 2h0m231 0h0m-276 3h0m79 1h0m93 0h0m-98 3h0m80 0h0m54-2h0m-66 4h0m51 0h0m58-1h0m6 2h0m-196 2h0m54-1h0m9 0h0m-68 4h0m8 0h0m41 2h0m134 1h0m17 0h0m-249 1h0m139 2h0m45-2h0m27 2h0m1-1h0m58 1h0m-201 2h0m28 0h0m-92 3h0m3-2h0m75 1h0m193 1h0m-258 1h0m237 0h0m20 1h0m-282 1h0m55 2h0m19 0h0m191 1h0m-222 3h0m205-1h0m8-2h0m-153 4h0m48-1h0m17 0h0m27 2h0m10-1h0m-181 3h0m246 0h0m-248 2h0m104 1h0m32-1h0m7 3h0m-176 3h0m12-1h0m38 0h0m42 0h0m27 0h0m-79 2h0m53 1h0m15 1h0m16-2h0m-100 3h0m177 0h0m1 0h0m-197 2h0m12 2h0m14 2h0m124-1h0m-124 4h0m1-1h0m30 1h0m34 0h0m54 1h0m-56 2h0m-59 3h0m19 0h0m11-1h0m97 0h0m-114 4h0m94-2h0m-122 6h0m-14 3h0m13-1h0m32 3h0m23 2h0m-32 2h0m4 0h0m-13 1h0m1 5h0"/><path id="c25a" d="M1282 417h0m4-2h0m3 2h0m-4 1h0m-39 2h0m12 0h0m-53 6h0m89-1h0m-102 5h0m22 3h0m16-1h0m39 1h0m-14 1h0m34 2h0m0 0h0m1-3h0m-72 5h0m7-2h0m71 2h0m-98 5h0m18-1h0m-40 5h0m50 1h0m46 6h0m-39 3h0m35-1h0m-108 13h0m22 1h0m101 2h0m18 2h0m-159 4h0m25 2h0m131 1h0m-47 2h0m1-1h0m63 4h0m2 0h0m-63 1h0m-154 3h0m207 0h0m-157 4h0m61-1h0m87 0h0m-6 4h0m-198 1h0m132 0h0m55 1h0m16 0h0m-97 3h0m7 0h0m89 0h0m-169 1h0m16 5h0m28-1h0m-65 4h0m53 2h0m10-2h0m18 6h0m35 0h0m-38 3h0m4 0h0m26 5h0m6 1h0m-26 2h0m-2 5h0m8 1h0m-69 3h0m63 0h0m-47 5h0m-34 4h0m9 2h0m12 1h0"/><path id="c25b" d="M1267 403h0m-19 11h0m15 0h0m-4 3h0m9 5h0m11 15h0m-120 4h0m61 2h0m-5 5h0m-80 4h0m104 3h0m-60 2h0m7 0h0m23-1h0m-86 4h0m-30 3h0m56 0h0m46 1h0m-104 3h0m11-1h0m63 1h0m51 0h0m-102 4h0m13 1h0m151-1h0m33 0h0m-192 2h0m-7 4h0m151 0h0m-30 3h0m55 0h0m15 0h0m-160 2h0m78 1h0m52 0h0m-112 5h0m-66 2h0m93 1h0m1 0h0m16 0h0m90-1h0m-200 5h0m23-1h0m187-2h0m-12 3h0m22 0h0m-210 4h0m8 3h0m10 0h0m158 1h0m-161 0h0m64 0h0m-43 5h0m-33 3h0m97-1h0m-60 2h0m81 4h0m19 2h0m-108 2h0m37 0h0m25-1h0m15 1h0m-37 3h0m-68 3h0m107 3h0m12-2h0m-97 8h0m6 8h0"/><path id="c26a" d="M1262 551h0m-95 5h0m32-2h0m10 4h0m62 0h0m-60 2h0m10 0h0m15 0h0m-72 3h0m7 1h0m55-1h0m-95 1h0m44 1h0m10-1h0m-72 5h0m35 0h0m21-2h0m1 1h0m67-1h0m2 2h0m-133 1h0m3 2h0m22-1h0m12 0h0m2 1h0m5-1h0m23-1h0m66 1h0m-173 2h0m13-1h0m24 1h0m27 1h0m23 1h0m6-2h0m15 1h0m32-2h0m12 1h0m-77 4h0m5-2h0m18 2h0m0 0h0m5 0h0m4-1h0m11 0h0m2 0h0m29 0h0m-175 3h0m44-1h0m27 1h0m9 0h0m35-1h0m31 0h0m21 0h0m6 0h0m-146 4h0m21 0h0m6-1h0m1 2h0m1 0h0m12-1h0m1-1h0m11-1h0m1 1h0m26 1h0m10 0h0m12-1h0m1 1h0m7-1h0m15 1h0m25 0h0m-163 3h0m44-1h0m0 0h0m22 1h0m10-1h0m9 1h0m13 0h0m15-1h0m13-1h0m3 0h0m18 1h0m31 1h0m5-1h0m-126 3h0m36 1h0m21-2h0m14 1h0m-103 3h0m11-2h0m3 3h0m9-1h0m11 0h0m0-2h0m1 2h0m4 0h0m12-1h0m27 0h0m5 0h0m9-1h0m15 2h0m20-2h0m-179 5h0m6-2h0m31 2h0m14-2h0m25 2h0m6-2h0m17 1h0m12 1h0m36-2h0m-83 3h0m2 1h0m4-1h0m7 0h0m1 0h0m2 0h0m15 2h0m36-2h0m28 1h0m9-1h0m-187 3h0m26 1h0m48 0h0m4 0h0m6-1h0m10 1h0m9-1h0m14 0h0m16 1h0m4 1h0m23-1h0m-46 3h0m20 0h0m25 0h0m16-1h0m5-1h0m-134 4h0m21-1h0m30 1h0m25-1h0m14 2h0m36-2h0m-114 3h0m3 0h0m27-1h0m24 1h0m28-1h0m-57 4h0m21 0h0m11 0h0m-88 2h0m24 2h0m-4 2h0m13 0h0m2 3h0m48 0h0m-84 3h0m-16 2h0m106-2h0m-134 8h0m85 3h0"/><path id="c26b" d="M1308 535h0m-103 0h0m-15 6h0m83 0h0m-118 6h0m82 6h0m33-2h0m-93 4h0m-3 3h0m3 0h0m14 1h0m1-1h0m98 0h0m-83 3h0m-68 1h0m15 1h0m4 1h0m52-1h0m30 1h0m-89 0h0m16 1h0m31 0h0m17 1h0m-43 2h0m12-1h0m28 2h0m2 0h0m23-2h0m-65 2h0m16 2h0m7 0h0m-79 3h0m22 0h0m10 0h0m19-1h0m6 0h0m3-1h0m19 2h0m5-1h0m3 1h0m5-2h0m-113 3h0m15 2h0m64-1h0m1 0h0m9 1h0m2-2h0m16 0h0m22 1h0m11 1h0m-149 2h0m1 0h0m9 0h0m11 0h0m21-1h0m3 0h0m0 0h0m4 2h0m8-1h0m35 0h0m17 0h0m4 1h0m-177 2h0m104-2h0m10 2h0m10 1h0m7-2h0m0 2h0m3-2h0m0 1h0m4 0h0m3-2h0m12 1h0m0 1h0m5-1h0m39 0h0m-136 2h0m7 1h0m15-1h0m1 0h0m7 0h0m16 0h0m29 1h0m21 1h0m1-2h0m16 1h0m-164 4h0m5-2h0m59 0h0m11 1h0m1 0h0m15 0h0m4-2h0m5 2h0m2-1h0m13-1h0m5 1h0m22 1h0m11-1h0m43 0h0m12 0h0m-159 4h0m16 0h0m5 0h0m7-2h0m20 2h0m49-2h0m12 2h0m-109 2h0m12 0h0m12-1h0m18 2h0m4-1h0m2-1h0m10 0h0m27 0h0m-157 3h0m50 0h0m33 1h0m29-1h0m1 0h0m2-1h0m12 1h0m1 1h0m44 1h0m-132 0h0m17 0h0m3 2h0m46-2h0m2 0h0m5 0h0m8 1h0m3 0h0m5 1h0m29-2h0m-139 3h0m34 0h0m0 0h0m10 1h0m49 1h0m9-1h0m10-1h0m7 1h0m-85 3h0m43 0h0m53 1h0m-146 2h0m76 1h0m12-3h0m35 2h0m-14 6h0m1-1h0m-95 2h0m56 1h0m23-1h0m-56 3h0m50 3h0m-50 3h0m16-1h0"/><path id="c27a" d="M1182 406h0m11 0h0m-79 2h0m81 0h0m-9 2h0m-101 2h0m45 1h0m55 3h0m-45 4h0m27 0h0m-121 1h0m108-1h0m-22 3h0m-63 4h0m105 2h0m-90 4h0m17 1h0m17 2h0m43 0h0m-85 2h0m34-1h0m35 0h0m10 1h0m-99 1h0m57 0h0m4 1h0m46 0h0m11-1h0m2 2h0m-121 1h0m12 1h0m7 1h0m24-2h0m69 0h0m-116 4h0m24 0h0m4 0h0m2 2h0m62-1h0m-78 4h0m6-1h0m13 0h0m1-1h0m58 4h0m15 0h0m8 0h0m-88 2h0m15 2h0m40 0h0m20-2h0m-88 4h0m108-2h0m5 0h0m-97 4h0m86 0h0m11-1h0m13 2h0m-130 2h0m10 1h0m69 0h0m-81 1h0m24 0h0m18 2h0m5-2h0m12 1h0m2 0h0m18-1h0m14 0h0m-37 3h0m12 1h0m19 0h0m12 0h0m10-1h0m1 0h0m-46 2h0m41 2h0m-64 1h0m71 1h0m22-1h0m-139 3h0m9 1h0m14 0h0m5-2h0m13 1h0m76 1h0m10-2h0m4 2h0m1 1h0m5-2h0m-15 4h0m-127 1h0m10 2h0m42-2h0m81 1h0m-66 3h0m37-2h0m20 3h0m-127 2h0m19-1h0m-9 3h0m34 3h0m48 0h0m-8 3h0m19 0h0m5-1h0"/><path id="c27b" d="M1049 406h0m35-1h0m21 0h0m18 0h0m16 1h0m41 1h0m-13 4h0m20-2h0m-138 5h0m103-1h0m-51 4h0m41 0h0m-91 1h0m20 1h0m17-1h0m15 0h0m15 0h0m51 1h0m-107 3h0m-4 3h0m111 0h0m-112 3h0m36 0h0m2 3h0m21-1h0m7 1h0m-51 1h0m30 0h0m42 0h0m-95 2h0m84 0h0m48 0h0m-119 2h0m98 1h0m-78 3h0m17 1h0m10-1h0m28 0h0m22-1h0m4 0h0m5 2h0m5-2h0m-67 4h0m45-1h0m-50 4h0m2 0h0m-45 2h0m90 4h0m-84 2h0m26 1h0m35 2h0m31-1h0m6-1h0m19 2h0m6 2h0m-132 3h0m70-1h0m-26 4h0m38-1h0m38 0h0m19 0h0m-31 1h0m0 2h0m29-1h0m-133 2h0m95 0h0m22 1h0m16 1h0m-96 4h0m47 0h0m46 2h0m-130 1h0m1 1h0m18 0h0m88 0h0m-72 1h0m5 1h0m10 0h0m53 0h0m-70 2h0m8 0h0m13 1h0m18 0h0m27-1h0m4 4h0m-46 1h0m14 0h0m5 1h0m-5 3h0m-11 3h0m10-2h0m48 1h0m-106 4h0m64 0h0m29-1h0"/><path id="c28a" d="M1019 384h0m3 1h0m11-1h0m-10 1h0m26 1h0m8 0h0m-68 3h0m13 1h0m13 6h0m24 0h0m-31 3h0m16 1h0m-9 1h0m-28 5h0m33-1h0m7-1h0m17 0h0m-44 5h0m20-1h0m-28 2h0m66 0h0m-61 4h0m29-1h0m8 0h0m23-1h0m-11 4h0m9 1h0m-55 3h0m42-2h0m11 0h0m-66 2h0m54 3h0m9 0h0"/><path id="c28b" d="M1022 384h0m16 0h0m0 4h0m15-2h0m-57 5h0m1-3h0m15 1h0m4 0h0m25 1h0m11-2h0m0 2h0m-66 1h0m22 0h0m14 0h0m4 2h0m-3 1h0m24 1h0m1-1h0m-51 2h0m-17 3h0m21 2h0m23-2h0m3 0h0m32 0h0m-25 7h0m9-1h0m-38 2h0m14 0h0m-26 4h0m33-1h0m-46 3h0m1-1h0m10 0h0m12 2h0m-2 3h0m0-2h0m27 1h0m-47 3h0m4 1h0m16-2h0m-9 4h0m9-1h0m13 0h0m6 1h0m-32 1h0m38 0h0m31 0h0"/><path id="c29a" d="M618 582h0m18 6h0m-15 7h0m-10 3h0m90 0h0m-94 1h0m1 1h0m18 0h0m49 0h0m-56 2h0m18 0h0m11 1h0m-37 3h0m18-1h0m1-1h0m18 1h0m5 2h0m32-1h0m-7 1h0m21 1h0m-84 3h0m4 0h0m7 0h0m7 0h0m8-1h0m16 0h0m12 1h0m2 0h0m7 1h0m21-3h0m19 2h0m-104 1h0m5 2h0m11 0h0m2-2h0m28 1h0m15 0h0m3 0h0m5 0h0m7 1h0m14-1h0m3 2h0m-104 2h0m30-1h0m2 1h0m1 0h0m6 0h0m9-2h0m17 0h0m10 2h0m7-1h0m3 1h0m8-1h0m22 1h0m-83 2h0m4-1h0m2 2h0m10-1h0m0-1h0m2 0h0m1 1h0m4 1h0m3-2h0m12 0h0m12 1h0m0 1h0m10 0h0m8-2h0m-82 3h0m0-1h0m29 0h0m1 0h0m2 1h0m35 0h0m0 1h0m6-1h0m5 0h0m2 0h0m9-1h0m16 2h0m-103 2h0m14 0h0m5 1h0m15-1h0m2 0h0m1 0h0m4 1h0m34-1h0m4 1h0m12-2h0m-93 3h0m3 0h0m14 0h0m48-1h0m19 2h0m-70 3h0m3-2h0m7 2h0m11 0h0m4-1h0m10 0h0m4 2h0m21-1h0m4 0h0m7-1h0m4 0h0m-67 4h0m12-2h0m12 1h0m1-1h0m1 0h0m1 0h0m9 2h0m3-2h0m1 1h0m33-1h0m-61 3h0m9 2h0m47-2h0m13 1h0m24 0h0m-117 3h0m33 0h0m26-1h0m5 1h0m9-1h0m-23 3h0m33-1h0m3 2h0m-38 5h0m1 4h0"/><path id="c29b" d="M666 587h0m-11 9h0m-22 2h0m11 0h0m24 0h0m1 0h0m2-2h0m-88 5h0m51-1h0m81 1h0m-115 2h0m1 0h0m9-1h0m28 1h0m26-1h0m13 1h0m-71 3h0m26 0h0m8 0h0m6-2h0m10 1h0m20-1h0m-63 3h0m22 2h0m21-2h0m35 1h0m-81 2h0m11 1h0m20 0h0m9 1h0m0-1h0m9 1h0m18 0h0m-51 2h0m8-1h0m6 0h0m9 0h0m-27 3h0m11 1h0m0-1h0m16 0h0m3 1h0m0 0h0m24-1h0m31-1h0m1 1h0m-99 3h0m8-2h0m14 3h0m14 0h0m3 0h0m9 0h0m3-1h0m8 0h0m1 0h0m2-1h0m7 2h0m13-1h0m13 0h0m-90 2h0m15 1h0m8-1h0m1-1h0m5 3h0m2-2h0m3 1h0m2 0h0m9-2h0m9 2h0m0 1h0m32-1h0m-104 1h0m18 0h0m6 1h0m13 1h0m16-2h0m6 1h0m4 0h0m2 1h0m4 0h0m1-1h0m7 1h0m17 0h0m10-1h0m13 1h0m-82 2h0m3 1h0m3-1h0m13 1h0m0-1h0m16 0h0m15 0h0m46 0h0m-57 2h0m12 0h0m9 0h0m2 0h0m7 1h0m7-1h0m11 1h0m-94 3h0m15-2h0m18 0h0m5 2h0m6 0h0m10-1h0m7 0h0m21-1h0m6 1h0m0-1h0m-100 3h0m61 2h0m1-1h0m19 0h0m13 2h0m0-1h0m6 0h0m9 2h0m-51 2h0m9 0h0m29 1h0m27 2h0m-101 1h0m88 2h0m-31 1h0m-1 2h0m-37 5h0m71-1h0"/><path id="c30a" d="M753 528h0m-12 3h0m1 2h0m8 0h0m-43 4h0m8 2h0m25-1h0m-59 6h0m52 1h0m-29 3h0m8-2h0m1 1h0m13 0h0m25 1h0m-56 2h0m2-1h0m15 0h0m33 0h0m4 0h0m5 0h0m24 1h0m-102 2h0m48 0h0m17 1h0m42 0h0m11-1h0m-52 2h0m9 2h0m10-2h0m46 1h0m-96 2h0m6 2h0m9-1h0m8-1h0m2 1h0m2 1h0m2-1h0m23-2h0m13 1h0m0 0h0m58 0h0m-166 4h0m12 0h0m22-2h0m22 0h0m4 1h0m18 1h0m3 0h0m1-1h0m46 0h0m6 1h0m-100 2h0m9-1h0m4 0h0m2 0h0m2 1h0m9 0h0m1-1h0m1 0h0m22 2h0m1 0h0m6-1h0m12-1h0m61 2h0m-160 3h0m8-3h0m17 2h0m20-1h0m29 1h0m12 0h0m12-1h0m34 0h0m-100 3h0m23 1h0m1-2h0m8 2h0m5 0h0m2 0h0m2-1h0m4 0h0m20-1h0m0 1h0m20 1h0m21-1h0m6-1h0m-194 5h0m50-3h0m15 2h0m37-2h0m1 2h0m0-1h0m39 1h0m1 0h0m7 0h0m2-1h0m4 2h0m2-1h0m13 1h0m20-1h0m20-1h0m-105 2h0m15 0h0m14 1h0m6 1h0m5 0h0m26-1h0m6 1h0m7-1h0m25 0h0m-126 3h0m39 0h0m15 1h0m6-1h0m0 0h0m17 1h0m0-1h0m88 1h0m-167 1h0m23 0h0m9 2h0m14 0h0m2-1h0m0 1h0m5-3h0m8 2h0m24 0h0m-94 3h0m24 0h0m1 0h0m15-2h0m3 3h0m6-2h0m2 1h0m41-2h0m6 2h0m9-1h0m52 1h0m-149 2h0m13 1h0m59-1h0m-34 2h0m24 0h0m35 1h0m11 0h0m-91 3h0m32 1h0m21-2h0m23 2h0m17-3h0m-14 4h0m-55 3h0m8 2h0m17 0h0m38 0h0m-122 3h0m74 1h0"/><path id="c30b" d="M715 531h0m35 4h0m-30 1h0m33 1h0m5-1h0m43 1h0m-99 4h0m24-1h0m16 2h0m-12 3h0m13-1h0m4 1h0m13 0h0m44-1h0m-55 7h0m7-1h0m17-1h0m9 0h0m-110 2h0m33 2h0m20-1h0m65 1h0m-122 1h0m13 0h0m12 1h0m7 0h0m31 0h0m7-1h0m9 0h0m2 2h0m18-1h0m4-1h0m1 0h0m1 1h0m6-1h0m-116 4h0m55-1h0m12 1h0m11-1h0m10 1h0m50 0h0m-119 3h0m23-2h0m1 0h0m2 1h0m10 0h0m7-1h0m1 1h0m9 1h0m5 0h0m9-2h0m3 2h0m0 0h0m36-1h0m0-1h0m25 2h0m9-2h0m-161 4h0m30 1h0m9-2h0m26 1h0m3-1h0m19 1h0m17-1h0m14 2h0m4-2h0m6-1h0m62 1h0m-203 4h0m1-2h0m48 3h0m0-3h0m33 2h0m18-1h0m45 1h0m17 0h0m17 0h0m-165 2h0m62-1h0m35 0h0m27 1h0m40 1h0m15-1h0m10 1h0m27 0h0m-233 3h0m37-1h0m43-2h0m15 2h0m8-2h0m19 1h0m8 2h0m3-3h0m15 1h0m14 0h0m-87 3h0m14 0h0m7 1h0m8-2h0m8 1h0m22-1h0m0 1h0m27 0h0m-102 3h0m11 0h0m14 0h0m19-1h0m9 2h0m4-1h0m20 0h0m-97 4h0m18-2h0m4 1h0m4 1h0m0-1h0m18-2h0m8 0h0m23 1h0m46 0h0m10 0h0m17 0h0m-110 4h0m38-1h0m15 0h0m7 1h0m91 0h0m-184 1h0m32 1h0m19-1h0m50 0h0m-139 4h0m56-1h0m18 0h0m56 2h0m18-2h0m4 0h0m15 0h0m8 1h0m0 0h0m-152 1h0m57 2h0m10-1h0m7 1h0m9 0h0m1-1h0m6 2h0m6-1h0m36-1h0m1-1h0m-38 4h0m-55 3h0m7 0h0m39 0h0m28 0h0m-111 2h0m47 0h0m-2 2h0m6 1h0m38 7h0m31 8h0"/><path id="c31a" d="M898 543h0m-54 4h0m6 4h0m-59 5h0m1-2h0m5 0h0m42-1h0m31 3h0m-42 1h0m1 1h0m31-1h0m-49 2h0m9 2h0m37-2h0m0 0h0m20 1h0m-73 3h0m62 0h0m5 0h0m12 1h0m5 0h0m5-1h0m10 0h0m-69 2h0m4-1h0m8 2h0m1 0h0m17-1h0m12-1h0m-38 5h0m7-1h0m9-1h0m2 0h0m16 1h0m12-1h0m8 2h0m15-2h0m-83 4h0m11 1h0m1-2h0m15 0h0m23 1h0m4-1h0m1 1h0m4-2h0m8 1h0m1 1h0m21 0h0m-119 3h0m12-1h0m15 0h0m4 1h0m3-1h0m11 1h0m20 0h0m3-2h0m1 0h0m0 0h0m3 0h0m4 1h0m1 0h0m3 1h0m2 0h0m-78 3h0m36-1h0m6 1h0m2-1h0m0-1h0m1 0h0m8 1h0m7 0h0m0-1h0m2 1h0m29 0h0m4 0h0m4-1h0m1 0h0m15 0h0m-114 3h0m7 0h0m4 0h0m6 1h0m2 0h0m4-1h0m4-1h0m5 1h0m13 0h0m1 2h0m21-2h0m0 2h0m7 0h0m7-1h0m2 1h0m19 0h0m14-2h0m-84 4h0m35 0h0m1 0h0m3-2h0m0 2h0m2 0h0m4 0h0m0-2h0m24 2h0m-74 2h0m3 0h0m34 1h0m5-1h0m6 1h0m8 0h0m23 0h0m-127 1h0m55 2h0m14-1h0m2-1h0m9 1h0m10 1h0m7-1h0m14 1h0m34-2h0m-104 4h0m22 0h0m16 0h0m10-1h0m6 1h0m16 0h0m1-1h0m43 2h0m-121 2h0m8-1h0m6 1h0m3-1h0m3-1h0m26 1h0m7 0h0m8-1h0m4 1h0m2-1h0m2 0h0m1 2h0m1-2h0m4 0h0m7 0h0m1 0h0m17 1h0m5-1h0m-100 5h0m5-1h0m13 1h0m2-2h0m5 1h0m2-2h0m62 2h0m12 0h0m10 0h0m-107 1h0m2 2h0m30-1h0m5 0h0m7 0h0m4 1h0m1-1h0m9 1h0m2 1h0m41-1h0m-143 1h0m64 1h0m3 1h0m17 0h0m21 0h0m3-2h0m22 0h0m3 2h0m3-1h0m-93 4h0m31-2h0m24 2h0m24-2h0m-32 2h0m63 0h0m-82 3h0m2 1h0m43-1h0m-79 4h0m44-1h0m9-1h0m-47 13h0m53 0h0"/><path id="c31b" d="M887 537h0m-5 1h0m-42 9h0m-2 1h0m2 1h0m-32 2h0m55 0h0m-2 4h0m12-2h0m14 1h0m4 1h0m9 1h0m-30 2h0m-60 3h0m7 0h0m11-1h0m25-1h0m-42 3h0m3 2h0m14-1h0m3-1h0m10 1h0m38 0h0m21 0h0m-73 4h0m16-1h0m13 0h0m3 0h0m4-2h0m2 3h0m12 0h0m9-2h0m-92 3h0m6 1h0m24-2h0m4 1h0m1 0h0m37 1h0m8-1h0m4 0h0m-57 2h0m3 1h0m13 1h0m1-1h0m4 0h0m0-1h0m6 1h0m7 0h0m14-1h0m6 0h0m6-1h0m14 2h0m12 0h0m-107 3h0m4-1h0m2 1h0m23-1h0m10 1h0m12-1h0m8-1h0m0 2h0m7 1h0m4-1h0m2-2h0m16 2h0m12 0h0m-76 1h0m12 2h0m3-1h0m4 1h0m20-2h0m1 0h0m9 0h0m3 1h0m7 0h0m5 0h0m16-1h0m4 0h0m1 0h0m3 1h0m12 0h0m-105 2h0m9 1h0m6-1h0m6 2h0m8-2h0m2 1h0m5 0h0m5 1h0m7 0h0m7-2h0m5 1h0m36-1h0m12 0h0m-99 2h0m6 2h0m4-1h0m1 2h0m2-1h0m4 1h0m18-1h0m14 0h0m6-2h0m4 2h0m8 0h0m23-2h0m0 2h0m-79 2h0m6-1h0m2 1h0m11 0h0m6-1h0m5 1h0m0 1h0m12-1h0m2-1h0m-87 5h0m3-2h0m14 2h0m24-2h0m1 1h0m0-1h0m3 2h0m11 0h0m26-1h0m3 1h0m1-3h0m7 2h0m3 0h0m20-1h0m-89 3h0m14 0h0m26-1h0m5 3h0m3-3h0m1 2h0m48-1h0m26 0h0m-148 4h0m52-2h0m12 0h0m0 2h0m8-1h0m5 1h0m1-1h0m9-1h0m1 2h0m1 0h0m7-1h0m17 1h0m-71 1h0m16 0h0m3-1h0m12 2h0m2 0h0m22 0h0m43 0h0m-98 1h0m13 2h0m11-2h0m2 0h0m4 2h0m7-2h0m5 1h0m-74 2h0m39 1h0m55-1h0m-88 3h0m115 0h0m-119 4h0m38 1h0m-22 9h0"/><path id="c32a" d="M815 542h0m-87 5h0m49 4h0m-28 3h0m65 5h0m39-1h0m-33 1h0m115 2h0m-132 2h0m37-2h0m70 3h0m-164 4h0m39 1h0m18 0h0m30 0h0m49-1h0m-91 2h0m40 1h0m24-1h0m85 0h0m-177 4h0m45-2h0m12 2h0m39-1h0m20 1h0m9-2h0m11 2h0m-119 1h0m101 1h0m47-1h0m25 1h0m54 0h0m-239 4h0m74 0h0m20 0h0m1-2h0m72 1h0m-186 3h0m87-2h0m19 1h0m27 1h0m7-1h0m6 1h0m30 1h0m89-3h0m-136 4h0m28-1h0m8 2h0m3-1h0m19-1h0m-133 3h0m17 1h0m2 0h0m10 1h0m12-1h0m25-1h0m1 0h0m27 1h0m11 0h0m48 1h0m4-2h0m5 2h0m49-2h0m61 1h0m-211 3h0m47 0h0m0 0h0m0-2h0m24 0h0m15 2h0m48-1h0m12 1h0m-207 3h0m24-1h0m62 0h0m1 0h0m1 0h0m19 0h0m57-1h0m20 0h0m12 1h0m-137 2h0m19 0h0m6 0h0m18 0h0m7 0h0m1 2h0m9-1h0m27 0h0m11-1h0m5 0h0m8 2h0m3-2h0m54 1h0m-239 1h0m28 2h0m0 1h0m10 0h0m4-1h0m0-1h0m35 1h0m26-1h0m30 1h0m2-1h0m9 1h0m2 0h0m25-1h0m3 0h0m3-1h0m15 1h0m1 1h0m1-2h0m26 2h0m30 0h0m-221 1h0m31 2h0m4 0h0m7-2h0m8 2h0m5 0h0m3 0h0m3-1h0m11 0h0m12 1h0m12-2h0m18 1h0m2-1h0m31 0h0m13 0h0m1 1h0m35 1h0m-197 3h0m51-2h0m48 2h0m2-2h0m13 1h0m6 1h0m2-2h0m9 0h0m1 2h0m1-2h0m40 1h0m31 0h0m-214 3h0m44-2h0m11 2h0m8 0h0m66 0h0m4-2h0m6 1h0m3 1h0m5 0h0m2-1h0m37 0h0m11 0h0m1 0h0m22 0h0m27 2h0m-213 2h0m33-1h0m23 0h0m9 0h0m4 1h0m9-1h0m5 0h0m39-1h0m9 2h0m5-2h0m1 2h0m30 0h0m95-1h0m-340 3h0m94 1h0m20 0h0m17-3h0m10 1h0m2 1h0m18 1h0m19-2h0m12 1h0m3-1h0m10 0h0m153 1h0m-257 2h0m49-1h0m22 2h0m10 0h0m2 0h0m23-1h0m1 1h0m14 0h0m1-1h0m8 0h0m18 1h0m-153 1h0m29 1h0m21 1h0m2-2h0m12 1h0m24 1h0m6-2h0m10 2h0m6-1h0m4 0h0m12-1h0m3 2h0m37-1h0m-183 3h0m10 1h0m11-2h0m21 2h0m11 0h0m1-1h0m30 0h0m2-1h0m6 1h0m5-1h0m5 0h0m5 2h0m3-1h0m3 1h0m4-1h0m2-1h0m0 2h0m2 0h0m1 0h0m0-2h0m5 0h0m0 2h0m5 0h0m17-1h0m8-1h0m8 0h0m2 0h0m-171 4h0m5 0h0m15-1h0m23 0h0m5-1h0m2 2h0m14-1h0m3-1h0m0 0h0m6 1h0m3 1h0m7-1h0m13 0h0m1 1h0m12-2h0m4 0h0m6 1h0m4 2h0m5-3h0m4 2h0m8-2h0m3 1h0m33-1h0m6 1h0m-136 2h0m12 2h0m6-1h0m5-1h0m5 2h0m3 0h0m13-2h0m4 2h0m20 0h0m9-2h0m5 1h0m10 0h0m1 1h0m8-1h0m2-1h0m4 1h0m15 1h0m17-2h0m1 0h0m1 2h0m15-1h0m22 0h0m50-1h0m-247 3h0m5 1h0m4 1h0m4-1h0m26 0h0m5-1h0m2 1h0m30 0h0m6-1h0m9 1h0m21 0h0m6-1h0m14 1h0m20 1h0m5-2h0m32 2h0m0 0h0m31 0h0m-192 1h0m3 1h0m20-2h0m5 0h0m5 2h0m4-1h0m2-1h0m11 1h0m11 1h0m8-2h0m3 1h0m15-1h0m68 1h0m15 0h0m1 1h0m-275 2h0m52 0h0m22 1h0m38-1h0m4-1h0m1 0h0m2 2h0m17-1h0m9 1h0m1-1h0m16 0h0m14-1h0m3 1h0m8 0h0m2 0h0m4 1h0m3-1h0m0 1h0m2-1h0m24 0h0m15 0h0m0 0h0m30 1h0m12 0h0m2-1h0m-202 4h0m39-2h0m12 0h0m24 1h0m13-1h0m10 2h0m4-1h0m1-1h0m3 2h0m4 0h0m5-3h0m13 1h0m22 0h0m1 1h0m12-1h0m6 0h0m5 1h0m4-1h0m39 0h0m-214 4h0m31 0h0m36-1h0m11 0h0m1 0h0m8 1h0m8-2h0m2 2h0m10-1h0m20 1h0m4-1h0m20-1h0m12 1h0m70 2h0m-208 1h0m24 0h0m24-1h0m16 1h0m3 0h0m22 1h0m27-1h0m13-1h0m0 2h0m11-1h0m7 0h0m25-1h0m17 2h0m58-1h0m-230 2h0m1 1h0m22-1h0m20 0h0m5 0h0m41 1h0m5-1h0m1 2h0m3-2h0m43 1h0m31 0h0m1-1h0m-188 3h0m12-1h0m6 1h0m29 0h0m17 0h0m6-1h0m36 2h0m7 0h0m20 0h0m24 1h0m1-1h0m4-1h0m22 1h0m0 0h0m39 0h0m11-1h0m-224 2h0m62 2h0m21-1h0m20-1h0m20 1h0m7 0h0m4-1h0m6 1h0m2-1h0m3 2h0m7-2h0m9 1h0m2-1h0m30 1h0m7 0h0m57-1h0m-304 3h0m18 0h0m75 0h0m36 0h0m12 2h0m29-1h0m4-1h0m8 1h0m4 0h0m13-1h0m8 1h0m5 0h0m36 1h0m-126 0h0m17 0h0m2 0h0m38 0h0m32 2h0m1 0h0m3-2h0m26 1h0m-233 3h0m31 1h0m7-2h0m52 1h0m46 1h0m13-2h0m9 0h0m6 0h0m5 1h0m5 1h0m30-2h0m-171 3h0m77 2h0m46-2h0m20 1h0m2 0h0m5-1h0m11 1h0m16-2h0m15 2h0m4-1h0m14-1h0m-130 5h0m8-1h0m47 0h0m8 0h0m11-1h0m2 0h0m62 2h0m-67 1h0m14 1h0m19 0h0m56-1h0m-285 3h0m109 1h0m22 0h0m69-1h0m2 2h0m56-3h0m-186 3h0m58 1h0m28 0h0m38-1h0m16 2h0m1 0h0m13-2h0m7 1h0m10 0h0m12 0h0m-142 4h0m125-1h0m9-1h0m19 2h0m16 1h0m1 0h0m-177 4h0m73 0h0m51 0h0m54-2h0m-16 5h0m-2 3h0m-156 1h0m-25 3h0m203 0h0m34-1h0m-54 3h0m62 15h0m-29 8h0m14 1h0m-17 9h0m44 17h0"/><path id="c32b" d="M746 526h0m-34 19h0m34-2h0m41 6h0m67 0h0m-2 4h0m41 0h0m-54 2h0m4 0h0m40-1h0m-102 7h0m120 0h0m-93 2h0m29-1h0m22 0h0m7 0h0m59 1h0m-155 3h0m50-1h0m16 0h0m8 1h0m9-2h0m25 2h0m47-2h0m-152 4h0m70 1h0m0 0h0m48-2h0m38 1h0m2 0h0m-147 2h0m35 0h0m2 1h0m33 0h0m108 1h0m-183 1h0m14 0h0m66 1h0m34 0h0m52-1h0m53 2h0m-218 2h0m18-2h0m21 1h0m20 1h0m24-2h0m32 0h0m66 2h0m-99 3h0m11-2h0m17 1h0m30 1h0m8 0h0m70-1h0m-212 3h0m31 0h0m21-1h0m17 1h0m46-1h0m50 1h0m13-1h0m-149 4h0m27-1h0m9 1h0m21-2h0m9 2h0m10-1h0m22 0h0m3 0h0m9 0h0m54 1h0m-185 2h0m32-1h0m6 0h0m23 2h0m5-1h0m56-1h0m23 1h0m24 0h0m-138 3h0m2-1h0m20 1h0m28 0h0m1-1h0m7 2h0m2-2h0m10 2h0m16-2h0m35 0h0m23-1h0m16 2h0m5-1h0m-164 4h0m52 0h0m6 0h0m5-1h0m12-1h0m13 2h0m7-2h0m16 0h0m8 2h0m2-2h0m18 1h0m-146 3h0m32 0h0m26-1h0m29 1h0m3 1h0m11 0h0m1-1h0m0-1h0m12 1h0m12-2h0m40 2h0m-192 2h0m37-1h0m26 0h0m10 2h0m7-1h0m29-1h0m29 2h0m15 0h0m0 1h0m2-3h0m6 1h0m1 1h0m2-1h0m27-1h0m28 1h0m17-1h0m20 2h0m-235 2h0m38 1h0m17 0h0m13-2h0m7 0h0m2 2h0m8 0h0m4-2h0m14 1h0m68 1h0m22-2h0m-190 3h0m31 0h0m14 0h0m4 0h0m30 2h0m6 0h0m2-3h0m16 2h0m5 1h0m0-2h0m12-1h0m3 2h0m3-1h0m14 0h0m2 2h0m1 0h0m7 0h0m12-2h0m27 1h0m104 1h0m-243 1h0m7 1h0m23 0h0m16-2h0m5 0h0m6 2h0m0 0h0m10 0h0m6 0h0m10 0h0m1 0h0m3 0h0m11 1h0m4-2h0m2 1h0m8 0h0m14-2h0m48 1h0m-233 2h0m6 1h0m75 0h0m7 1h0m14-2h0m2 2h0m7 0h0m7 0h0m9-1h0m7-1h0m13 2h0m11 0h0m2 0h0m2-1h0m1 1h0m0 0h0m8 0h0m6-2h0m2 2h0m20 0h0m2-1h0m25-1h0m-214 3h0m41 1h0m9 1h0m24-2h0m11 0h0m1 0h0m2 1h0m6-1h0m6 2h0m1-2h0m3 2h0m5-1h0m3-1h0m2 1h0m3-1h0m2 0h0m10 1h0m5 0h0m0 0h0m6 0h0m7-1h0m5 1h0m14-2h0m15 1h0m11 0h0m20 0h0m6 2h0m16-1h0m-233 2h0m14 1h0m33 0h0m7-1h0m9 1h0m15-1h0m0 0h0m5 1h0m35-2h0m35 0h0m5 0h0m16 3h0m0-3h0m9 2h0m6-1h0m-116 3h0m6 1h0m17-1h0m1-1h0m3 1h0m7 1h0m13 0h0m8-1h0m3 0h0m1-1h0m2 1h0m6 0h0m14 1h0m0 0h0m4-1h0m11 0h0m2 0h0m16-1h0m4 0h0m5 1h0m39-1h0m-182 4h0m17 0h0m7-1h0m1 0h0m8 2h0m5-2h0m11-1h0m4 0h0m3 1h0m21 0h0m4-1h0m13 0h0m8 3h0m1-3h0m17 2h0m7-1h0m64 2h0m-198 1h0m21 1h0m10-1h0m11 2h0m11-2h0m31 0h0m3 1h0m5-2h0m3 2h0m3 0h0m3-1h0m1-1h0m6 2h0m3-1h0m1 1h0m17 0h0m29-1h0m31-1h0m21 1h0m-196 3h0m28 1h0m19 0h0m10 0h0m1-2h0m3 2h0m6-1h0m7 0h0m4 1h0m7 0h0m8-1h0m16 0h0m4 0h0m17-1h0m4 1h0m11 0h0m5 1h0m24 0h0m18-1h0m28 0h0m-259 2h0m86 1h0m3-1h0m12 0h0m11 2h0m2-1h0m4 0h0m2-1h0m5 0h0m16 0h0m5 0h0m36 0h0m6 1h0m10-2h0m10 2h0m6 1h0m14-1h0m-179 1h0m1 1h0m10 1h0m10 0h0m26 0h0m0 0h0m14 0h0m24-1h0m2 1h0m8 0h0m11-1h0m15 1h0m4-2h0m17 1h0m6 1h0m9 0h0m4 0h0m-176 1h0m8 2h0m43-1h0m11 1h0m1-2h0m5 2h0m6-2h0m4 2h0m1-1h0m6-1h0m0 2h0m24 0h0m3-1h0m10 1h0m3-2h0m15 1h0m0 0h0m3-1h0m49 2h0m3 0h0m4 0h0m11-2h0m-247 3h0m54 0h0m20 1h0m8-1h0m21 1h0m4 0h0m5 1h0m9-2h0m29 2h0m53-2h0m9 1h0m59-1h0m-233 4h0m35-1h0m3-1h0m5 1h0m1-1h0m7 0h0m36 1h0m1 1h0m6 0h0m8 0h0m5 0h0m35-1h0m1-1h0m20 1h0m-99 3h0m7 0h0m20-1h0m16 2h0m6-2h0m6 0h0m9 1h0m19 1h0m11-2h0m3 0h0m18 1h0m11-1h0m-173 3h0m33 1h0m70-1h0m15 0h0m2 2h0m2-2h0m5 1h0m19-1h0m15 2h0m14-2h0m1 1h0m-176 3h0m10-1h0m39 1h0m2-1h0m2-1h0m31 2h0m2-1h0m18 1h0m45 1h0m5-3h0m1 0h0m1 0h0m6 3h0m13-1h0m13 0h0m4-1h0m7-1h0m1 2h0m-176 2h0m36-1h0m0 1h0m4-1h0m26 1h0m13 0h0m12 0h0m31-1h0m27 2h0m-101 2h0m15-2h0m46 1h0m7 0h0m14 1h0m17 1h0m46 0h0m22-1h0m-193 3h0m10-1h0m10 1h0m14-1h0m25-1h0m36 1h0m20 1h0m24-2h0m6 2h0m22-1h0m71 0h0m-210 3h0m6 1h0m11-1h0m7-1h0m5 0h0m11 2h0m3 0h0m6 0h0m26 0h0m10-1h0m37-1h0m38 0h0m16 1h0m-146 3h0m18-2h0m24 1h0m12 1h0m22-1h0m108 2h0m-190 2h0m6-2h0m116 2h0m-62 1h0m2 1h0m46 0h0m7 0h0m13-1h0m-121 3h0m51 2h0m32-2h0m26-1h0m-9 5h0m-123 2h0m12 0h0m95 0h0m31-1h0m32 1h0m-139 1h0m122 1h0m-53 3h0m13 0h0m49-1h0m-127 4h0m49 0h0m-29 3h0m117 5h0m-7 3h0m-56 3h0m40-1h0m13 1h0m-73 8h0m13-1h0m59 11h0"/><path id="c33a" d="M791 620h0m33 0h0m19 1h0m-41 3h0m60 0h0m27-1h0m3 0h0m-23 3h0m-25 5h0m10-1h0m1 0h0m22 0h0m2 0h0m20-1h0m-35 4h0m2-1h0m24 0h0m22 0h0m-101 2h0m8 1h0m8-1h0m9 1h0m22 0h0m20 1h0m1 0h0m7-1h0m-67 4h0m13-3h0m2 0h0m2 2h0m1 0h0m19 0h0m1-1h0m11 1h0m3 0h0m21-2h0m11 2h0m-132 2h0m6-1h0m12 1h0m7 1h0m10-2h0m7 1h0m4 1h0m9-2h0m28 2h0m10-1h0m1-1h0m5 1h0m5-1h0m15 0h0m-116 5h0m16-1h0m10 1h0m15-2h0m12 1h0m6 1h0m7-3h0m1 3h0m2 0h0m4-2h0m7 2h0m6-2h0m16 0h0m6 1h0m2 0h0m9-2h0m-70 3h0m0 0h0m18 1h0m6 0h0m3 0h0m7 1h0m5-1h0m19 1h0m19 0h0m18-1h0m29 1h0m-142 2h0m7 1h0m2 0h0m2-1h0m4 0h0m12-1h0m18 0h0m23 1h0m7 0h0m1 1h0m3-2h0m4 2h0m1-2h0m11 1h0m-88 4h0m17-1h0m20 1h0m7-2h0m5 1h0m1-1h0m4 0h0m6 0h0m13 0h0m19 1h0m26 1h0m-131 1h0m15-1h0m10 1h0m17 0h0m7-1h0m9 1h0m12 1h0m3 0h0m1 1h0m35-2h0m-119 3h0m23-1h0m35 2h0m4-2h0m47 1h0m3 1h0m24-1h0m-115 2h0m12 1h0m8 0h0m16-1h0m3 1h0m24 1h0m2-2h0m11-1h0m20 2h0m-45 4h0m1-3h0m0 0h0m25 0h0m26 2h0m-120 2h0m77 1h0m35-1h0m-67 3h0m26-1h0m8 1h0m-32 3h0m5-1h0m30 1h0m30-1h0m-27 3h0m4-1h0m13 0h0"/><path id="c33b" d="M833 618h0m5 1h0m41 3h0m-18 6h0m-32 1h0m28 1h0m21 0h0m1 3h0m5-1h0m18 1h0m-85 3h0m8-1h0m5 0h0m6 0h0m37-1h0m14 2h0m9 0h0m-125 0h0m40 0h0m27 2h0m0 0h0m3 0h0m15-2h0m2 1h0m16 1h0m3-1h0m15 0h0m-75 2h0m11 2h0m3-2h0m4 2h0m13-1h0m6 1h0m1-1h0m1 1h0m1-1h0m3 0h0m12-1h0m11 2h0m2-1h0m32 1h0m-132 1h0m28 1h0m16-1h0m20 0h0m15 0h0m4 1h0m1-1h0m36 0h0m-94 3h0m4 0h0m12-1h0m13 1h0m20-1h0m19 0h0m2 0h0m5 1h0m25 1h0m-115 1h0m24 2h0m16-2h0m1 0h0m9 1h0m7-1h0m16 1h0m11 0h0m-63 3h0m28 1h0m13-1h0m9 0h0m17-1h0m-53 4h0m10-1h0m14 2h0m3-2h0m4 1h0m1 0h0m4 0h0m7-1h0m14 0h0m-47 2h0m18 0h0m0 1h0m4 0h0m13 0h0m1-1h0m22 1h0m-75 3h0m13-1h0m9 2h0m1-2h0m2 0h0m8 1h0m58 0h0m-60 1h0m28 0h0m21 1h0m-66 4h0m18-2h0m4 0h0m7 1h0m30 1h0m3-2h0m15 2h0m45-2h0m-115 2h0m48 2h0m14-1h0m29 1h0m-125 2h0m24-1h0m32 1h0m19 2h0"/><path id="c34a" d="M1118 595h0m-14 14h0m-83 3h0m72 1h0m41 1h0m-24 2h0m-78 3h0m9 3h0m74-2h0m-30 4h0m34 0h0m33 0h0m-104 2h0m28 0h0m18 0h0m20 1h0m6-1h0m24 0h0m-44 4h0m18 0h0m-16 1h0m26 1h0m-52 1h0m8 0h0m13 1h0m7 1h0m18 1h0m4-1h0m8 0h0m23 0h0m-86 3h0m42-1h0m5 2h0m-67 2h0m1-2h0m48 1h0m-31 2h0m8 2h0m53-2h0m29 2h0m-65 1h0m9 1h0m4-1h0m33 1h0m11-1h0m14 1h0m-113 1h0m26 2h0m24 0h0m1-2h0m13 0h0m6 0h0m9 0h0m6 1h0m1-1h0m-70 4h0m7 0h0m11-2h0m30 3h0m2-2h0m35 0h0m21 1h0m-56 3h0m19-2h0m-79 4h0m3 0h0m35 1h0m3-1h0m8 1h0m15-2h0m34 1h0m22 0h0m-96 2h0m5 2h0m2-1h0m2-1h0m7 2h0m12-2h0m14 1h0m-42 2h0m30 1h0m4-1h0m11 1h0m21 0h0m0 0h0m10 0h0m-53 2h0m8-1h0m5 1h0m7-1h0m1 0h0m6 0h0m8 1h0m6 1h0m1-1h0m4-1h0m-99 4h0m23-1h0m14 0h0m2 1h0m13-1h0m13 0h0m5 1h0m5 0h0m4-1h0m14 2h0m33-2h0m-85 3h0m3-1h0m8 1h0m4 1h0m0-2h0m19 1h0m10 0h0m1 1h0m8-1h0m16 1h0m5-2h0m-78 3h0m17 2h0m28-2h0m7 1h0m15-1h0m-91 3h0m42 0h0m11-1h0m5 2h0m9 0h0m32 0h0m-65 1h0m16 3h0m18-1h0m17-1h0m14-1h0m-60 5h0m5-2h0m5 0h0m23 0h0m11 1h0m25 1h0m9-2h0m-107 3h0m42 0h0m17 0h0m28 1h0m-36 2h0m39 0h0m10-1h0m-27 5h0m0-2h0m-45 5h0m19-2h0m-32 4h0m4-2h0m89 7h0m-58 2h0m8 1h0m-9 1h0m12 1h0m15 0h0m26-1h0m-35 10h0m21 5h0m11 8h0"/><path id="c34b" d="M1101 601h0m-50 7h0m5 0h0m14 3h0m33-1h0m64 5h0m-115 4h0m68-1h0m8 0h0m-12 3h0m-100 4h0m85-2h0m12 2h0m-9 0h0m-12 5h0m8 0h0m-19 1h0m13 1h0m1 0h0m7 0h0m3 0h0m25 0h0m-89 2h0m28 1h0m25-1h0m-30 3h0m10 1h0m19-2h0m5 1h0m-21 4h0m24 0h0m15-2h0m5 2h0m13 0h0m11-2h0m-43 3h0m9 0h0m4-1h0m22 1h0m9 1h0m-63 3h0m21-1h0m50 0h0m-46 3h0m12 0h0m2 0h0m0-1h0m7 0h0m46 0h0m-110 4h0m15 0h0m1-1h0m27 1h0m0-1h0m2 1h0m20 0h0m-66 3h0m52-1h0m28 0h0m-47 4h0m9-2h0m9 2h0m2 0h0m5 0h0m3-2h0m15 2h0m2-2h0m12 1h0m-39 3h0m11 1h0m18-2h0m14 1h0m-76 3h0m19 0h0m0-1h0m14-1h0m13 1h0m7 0h0m2 1h0m3-1h0m2 0h0m7 1h0m3-1h0m18 1h0m-107 2h0m7 0h0m6-1h0m22 2h0m6-1h0m0 0h0m6-1h0m8 2h0m2-1h0m9 0h0m4 0h0m15 0h0m5 0h0m3 0h0m27 0h0m-100 2h0m3 0h0m9 1h0m6-2h0m9 2h0m14-1h0m-49 3h0m78 0h0m27 0h0m14 1h0m-77 3h0m-31 1h0m17 1h0m1 1h0m38-1h0m34 1h0m-54 2h0m3-2h0m48 1h0m-31 2h0m21 0h0m-67 3h0m57 1h0m16-2h0m32 3h0m-83 1h0m14 2h0m13 1h0m0 1h0m2 0h0m16 0h0m11 3h0m-94 6h0m79 0h0m1 5h0m16-1h0m-5 1h0"/><path id="c35a" d="M1069 659h0m38 6h0m-41 5h0m26 4h0m18 0h0m-32 3h0m5-1h0m24 2h0m24-2h0m-62 3h0m10 2h0m43 0h0m12 0h0m-14 2h0m4 0h0m-119 1h0m24 1h0m56-1h0m0 2h0m16-1h0m4-1h0m-66 4h0m28 1h0m15 0h0m7-2h0m9 0h0m1 2h0m4-2h0m20 2h0m-39 1h0m15 1h0m-42 3h0m15 0h0m4-1h0m9 0h0m1 1h0m2-1h0m6 1h0m13-1h0m-98 3h0m39 0h0m7-1h0m10 1h0m31 1h0m2-1h0m1 0h0m-33 4h0m3-2h0m15 1h0m3 0h0m0 1h0m8-3h0m6 3h0m6-3h0m14 0h0m6 1h0m-88 2h0m28 0h0m8 1h0m7 0h0m5 1h0m3 0h0m3 1h0m6-1h0m20-2h0m-87 5h0m20-2h0m8 2h0m8-1h0m0 0h0m17-1h0m25 2h0m2-2h0m8 1h0m1 0h0m7 0h0m35 0h0m1 0h0m-121 3h0m20-1h0m6 0h0m3 1h0m7-1h0m3 0h0m4 1h0m1-1h0m-56 4h0m1-1h0m14 0h0m22-1h0m11 0h0m6 1h0m10 1h0m10 0h0m7-1h0m35-1h0m3 2h0m-107 2h0m16 1h0m27-2h0m6 1h0m2 0h0m5-1h0m2 0h0m-50 4h0m26 0h0m10-1h0m14 1h0m2-1h0m2 1h0m9 0h0m1 1h0m30 0h0m-110 3h0m37-2h0m9 1h0m1-2h0m5 2h0m18-2h0m8 1h0m6 0h0m-6 3h0m6 0h0m1 1h0m-46 1h0m24 0h0m0 1h0m13 0h0m2 0h0m9 0h0m-62 2h0m37 1h0m30-2h0m-67 3h0m5 2h0m36-1h0m6 1h0m13-2h0m9 2h0m-70 1h0m18 2h0m22-3h0m54 1h0m-84 2h0m83 1h0m-111 2h0m42 7h0m33 9h0"/><path id="c35b" d="M1088 656h0m-41 7h0m42 2h0m-27 5h0m46 1h0m-50 1h0m12-1h0m-28 3h0m25 1h0m25 1h0m-73 0h0m26 1h0m22 1h0m10 1h0m10-2h0m19-1h0m36 1h0m-112 2h0m18 0h0m28 1h0m8 0h0m2 1h0m28-1h0m-54 4h0m37-3h0m73 2h0m-121 1h0m45 1h0m1 0h0m49 1h0m-110 2h0m39 1h0m1-2h0m24 1h0m1 0h0m14 0h0m13-1h0m0 2h0m-82 3h0m9-1h0m28 0h0m3-1h0m5 1h0m1 1h0m17-2h0m10 2h0m-69 0h0m33 1h0m2 1h0m9-2h0m1 2h0m8-1h0m21-1h0m-95 4h0m33 0h0m2-1h0m5 2h0m14-1h0m10 0h0m0 1h0m4-1h0m2 0h0m2 0h0m3-1h0m1 0h0m40 0h0m-105 4h0m20 1h0m32-2h0m9 1h0m12 0h0m11 1h0m14-1h0m0-1h0m-82 4h0m7 0h0m7-1h0m1 0h0m0 1h0m4-1h0m6 0h0m12 2h0m7-1h0m4-1h0m11 1h0m4 0h0m6-1h0m2 1h0m5 1h0m-151 0h0m76 1h0m2 0h0m3-1h0m7 0h0m1 2h0m15-2h0m10 1h0m4 0h0m3 1h0m2-1h0m0-1h0m6 1h0m2 1h0m-43 2h0m9 1h0m14-1h0m4-1h0m5 1h0m4 0h0m10-1h0m0 2h0m16-1h0m18-1h0m-105 4h0m16 1h0m5-1h0m18-1h0m4 1h0m1 0h0m4 0h0m5 1h0m3-2h0m1 0h0m6 0h0m7 0h0m23-1h0m-60 3h0m2 1h0m12 1h0m2-2h0m17 1h0m7-1h0m2 1h0m-45 2h0m0 1h0m3 0h0m22 0h0m12-1h0m7 1h0m0 0h0m9-1h0m31 0h0m2 0h0m-102 4h0m23-2h0m4 0h0m2 1h0m4 0h0m17 0h0m11 1h0m-65 2h0m12 0h0m4 0h0m2 1h0m3-1h0m14-1h0m1 1h0m-53 2h0m37 0h0m-70 3h0m58 0h0m20-1h0m55 1h0m-65 4h0m0 2h0m29 1h0m55 1h0m-109 6h0m25-1h0m35 2h0m4-1h0m-60 7h0"/><path id="c36a" d="M1148 609h0m-17 10h0m-17 3h0m43 3h0m-21 1h0m36 0h0m7 1h0m-24 2h0m11 0h0m88 1h0m-97 2h0m19 0h0m-21 3h0m48 1h0m0 1h0m1 0h0m-35 3h0m16 1h0m5 0h0m3-1h0m6 0h0m15 0h0m-116 2h0m22 1h0m66-1h0m-24 3h0m38 0h0m1-1h0m38 2h0m-71 2h0m-15 3h0m5 1h0m5-3h0m31 5h0m-69 2h0m21 0h0m5 1h0m5 0h0m3 0h0m9-1h0m6-1h0m36 2h0m-66 0h0m12 1h0m23 1h0m5 0h0m2-1h0m8 1h0m17 0h0m-91 3h0m6-2h0m1 2h0m10-2h0m10 2h0m4-2h0m6 2h0m12-1h0m11 0h0m18 1h0m-99 2h0m35 1h0m13 0h0m32-1h0m8-1h0m-44 3h0m6 0h0m3 1h0m22 0h0m16-1h0m-48 3h0m3-1h0m11 2h0m31 0h0m12-2h0m33 1h0m22 1h0m-119 1h0m24 1h0m14-1h0m0 0h0m7 0h0m5 0h0m2 1h0m24 1h0m-123 1h0m41 1h0m7 0h0m10 0h0m9-1h0m21 1h0m12-1h0m-51 3h0m-20 4h0m18-2h0m5 0h0m32 1h0m11 1h0m15-1h0m19 1h0m-67 1h0m10 0h0m11 1h0m15 0h0m-74 2h0m25 1h0m29 0h0m13 0h0m39 0h0m-89 2h0m79 1h0m8-2h0m13 1h0m-140 3h0m28 0h0m34 0h0m3 0h0m31 0h0m4 0h0m-82 3h0m12 1h0m13-3h0m53 2h0m-45 1h0m1 0h0m9 1h0m4 0h0m1-1h0m5 0h0m6 2h0m5-1h0m16 0h0m33 0h0m-60 2h0m12 0h0m23 2h0m-42 0h0m35 1h0m-30 4h0m46-1h0m-74 3h0m62 1h0m-42 1h0m18 3h0m15-1h0m-21 4h0m3-2h0m-3 8h0m5 2h0m20 20h0"/><path id="c36b" d="M1187 617h0m-3 11h0m-63 5h0m57 2h0m2-1h0m9 6h0m-76 2h0m25 2h0m4 2h0m4 0h0m22 0h0m-35 3h0m28-1h0m7 1h0m-45 3h0m35-3h0m21 1h0m12 1h0m-95 3h0m34 0h0m3 0h0m26-1h0m21 2h0m3-2h0m8-1h0m3 2h0m43-1h0m-119 2h0m20 1h0m7 0h0m12-1h0m14 1h0m10-1h0m3 0h0m-36 2h0m1 2h0m2 1h0m4-1h0m1-1h0m5-1h0m9 1h0m25 1h0m1 0h0m7-1h0m17 1h0m-45 2h0m12-1h0m-29 5h0m9-2h0m1 1h0m12 0h0m54 0h0m-104 3h0m23-2h0m15 1h0m6 0h0m7 1h0m6 0h0m-63 3h0m5-1h0m6 2h0m0-2h0m4 2h0m17 0h0m17-1h0m36 0h0m-92 2h0m20-1h0m3 1h0m2-1h0m18 1h0m3-1h0m9 1h0m4-1h0m8 2h0m4-1h0m7-1h0m28 2h0m-95 3h0m79-1h0m7 0h0m-66 3h0m2 0h0m6-1h0m5 0h0m19-1h0m1 3h0m33-1h0m-86 2h0m50 0h0m1 1h0m6 0h0m1-1h0m43-1h0m-143 2h0m29 3h0m30-2h0m11 0h0m4 2h0m24-1h0m16 1h0m-126 2h0m86 0h0m3-1h0m33 1h0m-66 1h0m15 0h0m3 0h0m13 2h0m2-1h0m13-1h0m-30 2h0m5 1h0m10 1h0m6-2h0m5 3h0m2-1h0m0-1h0m21 0h0m-45 2h0m7 1h0m22 2h0m6-3h0m9 3h0m3-1h0m-40 2h0m12 0h0m4 0h0m15 0h0m33-1h0m-109 3h0m12 0h0m5 1h0m37 0h0m5-1h0m44 0h0m7 1h0m-62 3h0m-25 2h0m11-1h0m2 0h0m27 2h0m-12 3h0m36 0h0m22 3h0m-81 6h0m18 2h0m29 1h0m-16 10h0m-7 4h0m-12 6h0"/><path id="c37a" d="M790 672h0m24 0h0m-27 12h0m14 0h0m-30 1h0m10-1h0m17 1h0m18 0h0m-47 4h0m18-1h0m-2 4h0m3-1h0m11 0h0m12 0h0m-67 2h0m29 0h0m9 0h0m3 1h0m17 0h0m10 0h0m56-1h0m6 1h0m-129 1h0m30 0h0m9 1h0m4 0h0m-48 3h0m11 0h0m16-2h0m10 2h0m5-1h0m3 0h0m3 0h0m5-1h0m2 2h0m11-1h0m9 0h0m1-1h0m2 3h0m12-2h0m9 0h0m25-1h0m-113 3h0m16 1h0m18 1h0m10 0h0m13-1h0m5 0h0m10 1h0m2-2h0m5 3h0m14-3h0m15 2h0m14-2h0m2 0h0m-111 4h0m8 0h0m16 0h0m7-1h0m5 0h0m2 1h0m2 1h0m6 0h0m5 0h0m5-2h0m16 2h0m5-1h0m12 1h0m-80 1h0m7 0h0m17 0h0m11 0h0m1 1h0m5 1h0m6-1h0m17-1h0m35 1h0m10 1h0m-124 1h0m7 0h0m9 0h0m20 2h0m4-2h0m1 0h0m7-1h0m10 0h0m1 1h0m2-1h0m18 1h0m24 0h0m18 1h0m22-1h0m-133 3h0m1 0h0m22 1h0m0-1h0m2 0h0m30 0h0m0 0h0m6 1h0m8 0h0m34 0h0m53 0h0m-142 3h0m35-3h0m2 1h0m15 1h0m7 0h0m-39 3h0m7 0h0m17 0h0m0-1h0m3-1h0m13 1h0m10-1h0m9 1h0m8 0h0m1 1h0m14-1h0m-83 4h0m5-1h0m4-1h0m20 1h0m16 0h0m5 0h0m29 0h0m26 1h0m-78 2h0m-52 3h0m45-2h0m8 3h0m18-1h0m1 5h0m-41 2h0m16 1h0m5-1h0m38 4h0m-17 2h0m41 1h0"/><path id="c37b" d="M817 684h0m-69 1h0m1 0h0m47-1h0m5 4h0m6 0h0m-55 4h0m8 0h0m11 0h0m17-1h0m23-1h0m19 2h0m-94 0h0m11 1h0m38-1h0m11 1h0m4 1h0m8 0h0m-76 1h0m23 0h0m1 2h0m21 0h0m17 0h0m16-2h0m9 2h0m0-1h0m28 0h0m-116 3h0m21-1h0m9 0h0m7 1h0m41-1h0m5 1h0m9 1h0m16-1h0m3 0h0m50-1h0m-108 5h0m10-3h0m7 1h0m6 1h0m9-1h0m3-1h0m19 2h0m32 0h0m-120 2h0m27 0h0m6 1h0m22-1h0m5 0h0m8 0h0m13 0h0m7 0h0m4 1h0m0-1h0m39 0h0m-123 3h0m6-1h0m10 1h0m9-1h0m11 1h0m0 0h0m6-2h0m0 2h0m7-1h0m6 1h0m10-1h0m7 0h0m0 2h0m12-2h0m-90 3h0m28 1h0m17 0h0m18 0h0m1-1h0m1 0h0m6-1h0m14 2h0m10 0h0m10 0h0m-73 1h0m3 1h0m17 0h0m6 1h0m0-2h0m5 1h0m9-1h0m4 1h0m1-1h0m2 1h0m13-1h0m15 2h0m23-1h0m-100 3h0m17-1h0m34 1h0m1-1h0m3 2h0m0-1h0m1 0h0m5-2h0m1 2h0m-64 1h0m15 0h0m17 2h0m8-1h0m9-1h0m8 2h0m2-1h0m7 0h0m5 0h0m3 0h0m-74 4h0m24-1h0m3-1h0m14 1h0m17-1h0m7 0h0m6 2h0m24-1h0m-112 2h0m41 0h0m9-1h0m30 3h0m41-3h0m-68 4h0m4 1h0m25-1h0m2-1h0m47 2h0m2-1h0m-111 4h0m33-2h0m21 1h0m9-1h0m-38 4h0m30 0h0m1 1h0m25-1h0m-50 1h0m13 16h0"/><path id="c38a" d="M923 664h0m10 6h0m3 15h0m21 1h0m-6 5h0m-4 4h0m2-2h0m0 4h0m25 0h0m-19 3h0m1-2h0m24 1h0m-39 2h0m6 0h0m17 1h0m6-1h0m2 1h0m11 0h0m5 1h0m-55 4h0m25 0h0m7-1h0m26 2h0m-50 3h0m33-1h0m16-2h0m-61 3h0m50 2h0m12-2h0m3 2h0m-48 1h0m3 1h0m2 0h0m2 1h0m7 0h0m2-1h0m18 0h0m7 0h0m4 0h0m12 0h0m-88 1h0m26 1h0m2 1h0m1-2h0m9 1h0m2 1h0m23-2h0m16 0h0m-67 5h0m18 0h0m12-2h0m7 0h0m16 2h0m18 0h0m-59 1h0m19 0h0m9 1h0m8-1h0m26 1h0m-76 3h0m12 0h0m14-1h0m4 1h0m13-1h0m1 0h0m28 1h0m8-1h0m-76 2h0m8 2h0m6-2h0m3 1h0m9 0h0m5 0h0m2-1h0m5 0h0m9 1h0m4-1h0m10 0h0m8 0h0m-60 2h0m16 2h0m22-1h0m1 1h0m12 0h0m-52 3h0m7 0h0m12 0h0m3 0h0m3 0h0m5 0h0m5 0h0m3-1h0m4 1h0m-43 1h0m2 2h0m4-1h0m3 1h0m7-1h0m61-1h0m-56 4h0m3 0h0m12-1h0m19 0h0m1 1h0m0 0h0m-27 3h0m1 0h0m5-1h0m2 0h0m18 1h0m1 0h0m-56 1h0m46 1h0m10 0h0m-37 2h0m9 2h0m6 0h0m18 1h0m17 0h0m-4 3h0m-76 3h0m36 0h0m30 1h0m-28 1h0m30 1h0m-54 2h0m50 2h0m-17 2h0m-6 12h0"/><path id="c38b" d="M946 665h0m42 20h0m-36 3h0m5 1h0m-17 2h0m7 1h0m23 0h0m-50 3h0m17 1h0m27 1h0m-28 0h0m26 3h0m15-1h0m-26 2h0m10 1h0m8 0h0m-39 3h0m11-2h0m5 2h0m2 0h0m15 0h0m-37 3h0m15 0h0m4-1h0m1-1h0m25 1h0m-46 2h0m3-1h0m8 1h0m12 0h0m15 0h0m3 1h0m7-1h0m31 1h0m-84 3h0m13-1h0m13 1h0m2 0h0m14 0h0m12-1h0m36 1h0m-71 0h0m8 2h0m3 1h0m10-2h0m6 0h0m1 1h0m12-1h0m25 1h0m-62 1h0m2 1h0m0 1h0m14 0h0m0 0h0m21 1h0m-61 2h0m26-1h0m11 1h0m7 0h0m21 0h0m11-2h0m22 1h0m-79 2h0m10 0h0m8 2h0m7-2h0m7 1h0m6-1h0m-43 4h0m23-1h0m7 1h0m15-1h0m5 1h0m-48 1h0m23 1h0m1 1h0m1-1h0m5 1h0m0 0h0m5-2h0m9 1h0m15 1h0m-61 1h0m0-1h0m5 2h0m17-1h0m1 1h0m4-1h0m0 2h0m10-2h0m3 0h0m20 2h0m-73 1h0m9 0h0m3 1h0m37 0h0m24 1h0m6-1h0m5-1h0m-77 4h0m18-2h0m3 2h0m39-2h0m-55 5h0m6-2h0m24 1h0m18-1h0m-42 3h0m11 0h0m17 0h0m14 1h0m4 0h0m-31 3h0m20-1h0m24 0h0m-39 2h0m11 1h0m20-2h0m-29 4h0m5 1h0m8-1h0m-15 2h0m27 2h0m13-2h0m1 0h0m-1 3h0m-44 3h0m9 0h0m18 1h0m14 1h0m-49 5h0"/><path id="c39a" d="M798 806h0m-22 3h0m15 1h0m16 0h0m-40 4h0m21-1h0m6 0h0m17 2h0m20-2h0m8-1h0m29 0h0m-97 4h0m4-1h0m11 0h0m9 1h0m20 1h0m11 0h0m4 0h0m7-1h0m6-1h0m20 1h0m3 1h0m-81 2h0m15-1h0m3 1h0m11 1h0m2-1h0m4 1h0m1 0h0m1-1h0m5 1h0m8-1h0m0-1h0m15 0h0m1 2h0m1-2h0m-43 3h0m7 0h0m2 2h0m5 0h0m9-1h0m3-2h0m2 2h0m1-1h0m2 2h0m1-3h0m2 3h0m1-2h0m0 0h0m5 0h0m16 0h0m-120 2h0m32 1h0m5 0h0m12 0h0m1-1h0m5 0h0m13 0h0m3 0h0m9 2h0m3 0h0m9 0h0m2-1h0m3 1h0m25-2h0m24 0h0m2 0h0m-118 5h0m16-2h0m13 1h0m8-2h0m14 2h0m11-1h0m1 0h0m0 0h0m1 2h0m0 0h0m6-2h0m4 1h0m2 1h0m1-1h0m4-1h0m5 1h0m14 0h0m3 0h0m19-2h0m-103 3h0m1 1h0m10-1h0m3 2h0m5-1h0m5 1h0m1-2h0m5 0h0m4 2h0m1-1h0m1 0h0m11 1h0m12-2h0m0 2h0m49-1h0m-108 2h0m4 2h0m15-2h0m0 1h0m13-1h0m6 1h0m7 1h0m5 0h0m0 0h0m2-2h0m16 1h0m18 0h0m-72 4h0m2-1h0m7-2h0m2 0h0m0 1h0m5-1h0m14 1h0m1 0h0m2 0h0m14 0h0m0 1h0m3 1h0m47-2h0m-107 3h0m3 2h0m21-3h0m2 1h0m5 0h0m17-1h0m5 0h0m5 1h0m0 1h0m9 0h0m14 1h0m8-1h0m-81 2h0m1-1h0m10 1h0m21 0h0m8-1h0m1 0h0m1 1h0m-60 2h0m52 0h0m6 0h0m5 0h0m21-1h0m10 1h0m-95 2h0m77 1h0m14 1h0"/><path id="c39b" d="M796 809h0m48 2h0m-89 2h0m49-1h0m6 1h0m14 0h0m21 0h0m13 0h0m-60 2h0m7 1h0m12-1h0m4 2h0m3-1h0m3 0h0m11 0h0m9-1h0m5 2h0m-82 2h0m32 1h0m0-1h0m5 1h0m7-1h0m13 0h0m9-1h0m4 2h0m0-2h0m8 0h0m10 1h0m9 0h0m-117 1h0m39 0h0m9 0h0m2 2h0m4 1h0m2-2h0m15-1h0m14 3h0m0-1h0m6 0h0m-41 3h0m4-2h0m0 0h0m2 2h0m7-1h0m8-1h0m1 1h0m0 1h0m3 0h0m0 0h0m0 0h0m0-1h0m5 1h0m2-1h0m4-1h0m12 2h0m5-1h0m1-1h0m4 0h0m-94 4h0m17 0h0m18 0h0m3 0h0m12 0h0m1-1h0m7 0h0m1 1h0m3-1h0m11 0h0m3 0h0m2 1h0m16 0h0m4 1h0m19-1h0m-107 2h0m11 1h0m2 0h0m9 0h0m12-1h0m8 2h0m3-1h0m1 0h0m3-1h0m1-1h0m4 1h0m4 0h0m15 2h0m0 0h0m10-3h0m10 2h0m4 0h0m-99 2h0m25 1h0m6 0h0m1 0h0m1-2h0m2 1h0m20-1h0m2 0h0m0 1h0m3 0h0m6 1h0m11-1h0m1-1h0m9 1h0m7 0h0m5 0h0m-91 3h0m9 0h0m12-1h0m10 2h0m4 0h0m2-2h0m9 1h0m0 0h0m9-2h0m10 2h0m9-1h0m4 1h0m1 1h0m4-1h0m-73 2h0m13 0h0m29 0h0m0 0h0m1-1h0m1 2h0m4-1h0m67 0h0m-90 2h0m15 0h0m6 1h0m1-1h0m22 2h0m-66 3h0m21 0h0m18-1h0m2-1h0m1 2h0m11 0h0m-8 1h0m-13 3h0m11 0h0m29-1h0m-14 4h0m27 1h0"/><path id="c40a" d="M987 765h0m10 2h0m14 0h0m18 0h0m29 0h0m-42 3h0m23 1h0m-67 1h0m10 2h0m4 0h0m27-1h0m6 1h0m-23 2h0m15 0h0m1 0h0m22-1h0m16 0h0m-54 3h0m3 2h0m1-2h0m7 1h0m4-1h0m17 0h0m-37 4h0m8-1h0m12 0h0m19-1h0m13 2h0m-55 3h0m8-2h0m7 0h0m12 2h0m3-2h0m17 0h0m-43 4h0m24-1h0m4 1h0m2-1h0m1 0h0m0 0h0m10 0h0m10-1h0m2 3h0m-44 1h0m7 0h0m2 0h0m8 1h0m6-2h0m5 1h0m6 0h0m11 1h0m5-1h0m-24 3h0m1-1h0m1 1h0m12 0h0m-42 2h0m44 2h0m-3 4h0m7 0h0m-15 5h0m-11 4h0"/><path id="c40b" d="M1056 768h0m-59 4h0m26-2h0m20 1h0m13 0h0m-44 3h0m3 0h0m5 1h0m5-1h0m8 1h0m30-2h0m-59 2h0m1 1h0m1 1h0m15-2h0m7 2h0m19-1h0m-46 2h0m11 0h0m6 1h0m8 0h0m4 0h0m-22 1h0m17 1h0m2 0h0m5-1h0m1 1h0m-31 3h0m5 0h0m8 1h0m18-1h0m3 0h0m8 0h0m-88 2h0m40-1h0m10 2h0m5-1h0m3 0h0m2 0h0m6 0h0m10 1h0m1 0h0m3 0h0m5 1h0m-30 0h0m3 1h0m6 0h0m2 0h0m4-1h0m13 2h0m0 0h0m-26 2h0m13 0h0m0 1h0m-42 2h0m9 1h0m19-2h0m17-1h0m3 1h0m2 0h0m-41 2h0m19 0h0m8 2h0m-22 3h0m4-1h0m31 0h0m-49 3h0m6 1h0"/><path id="c41a" d="M1187 760h0m1 6h0m12 4h0m10 1h0m11 0h0m-7 1h0m2 0h0m-6 4h0m13 1h0m4-2h0m2 1h0m-6 2h0m4 1h0m2 0h0m-5 2h0m0 1h0m3-2h0m2 2h0m17 0h0m-16 1h0m3 1h0m1 0h0m7 1h0m0 0h0m12-2h0m3 0h0m-18 4h0m1-1h0m2 2h0m6-2h0m10 1h0m7 1h0m-37 2h0m26 0h0m10 0h0m-23 1h0m0 1h0m23-1h0m-17 3h0m11 0h0m8 0h0m2 1h0m-8 3h0m17 1h0m13-1h0m5-2h0m-27 3h0m16 2h0m19-1h0m-36 4h0m2-3h0m14 1h0"/><path id="c41b" d="M1207 764h0m-30 5h0m32 4h0m5-1h0m11 1h0m-23 2h0m9 1h0m0 1h0m1 0h0m2-2h0m4 3h0m3 1h0m6 0h0m4 0h0m5 0h0m11-1h0m-39 2h0m6 2h0m17-1h0m4 1h0m1 0h0m0 0h0m3 1h0m1 2h0m5-2h0m2 0h0m3 0h0m-23 4h0m6 0h0m11-2h0m2 1h0m2 0h0m1 0h0m5 3h0m2 1h0m-4 2h0m4 0h0m3 0h0m12 1h0m4 1h0m-30 3h0m9 1h0m4 0h0m5 0h0m12-2h0m7 2h0m1-1h0m0 1h0m30 0h0m-41 3h0m8-1h0m-12 3h0m1 0h0m7 3h0m5 0h0m9 1h0m10 2h0m2 4h0"/><path id="c42a" d="M105 445h0m21 1h0m-43 3h0m36-2h0m33 0h0m-54 3h0m10 2h0m1-1h0m15 0h0m9 0h0m4-1h0m4 0h0m-52 4h0m3 0h0m5 0h0m5-1h0m5 2h0m12-1h0m1-1h0m1 0h0m4 1h0m8-2h0m5 1h0m29 1h0m-76 3h0m2 0h0m1-1h0m2 0h0m10 0h0m0 0h0m1 1h0m6-2h0m0 0h0m14 1h0m6 0h0m5 1h0m14 0h0m6-1h0m20 1h0m-97 3h0m17-2h0m0 0h0m3-1h0m1 1h0m1 1h0m4-1h0m1 2h0m3-1h0m1 1h0m1-1h0m3-1h0m1 0h0m1 1h0m1 1h0m2 0h0m4-2h0m0 1h0m1-1h0m0 1h0m2 0h0m9 0h0m1 1h0m34 0h0m-93 0h0m1 2h0m11-2h0m0 2h0m5 0h0m4 0h0m5-2h0m1 3h0m2-2h0m0-1h0m2 1h0m4 0h0m0 1h0m1 0h0m1 1h0m0 0h0m2-2h0m1-1h0m1 2h0m9 1h0m2-3h0m1 2h0m1-1h0m1 0h0m3 2h0m3-3h0m1 1h0m1 1h0m13 0h0m4-2h0m-53 3h0m4 1h0m0 0h0m4 0h0m1 0h0m3 1h0m11-2h0m2 1h0m6 0h0m2 0h0m1 0h0m6 0h0m0-1h0m4 2h0m1 0h0m1-1h0m5 0h0m11 1h0m-91 2h0m2 0h0m8 1h0m8-2h0m4 2h0m7-1h0m0 1h0m2-1h0m3-1h0m2-1h0m0 1h0m0 0h0m0 1h0m0 0h0m1-1h0m1 0h0m4 2h0m0-1h0m1 0h0m3-1h0m3 1h0m1-1h0m1 0h0m3 1h0m5 1h0m0-1h0m12 0h0m2 0h0m11-1h0m33 1h0m-117 2h0m1 0h0m23 1h0m10-2h0m8 0h0m6 2h0m1 0h0m4 0h0m0-1h0m3-1h0m3 1h0m1 0h0m2-1h0m2 2h0m8-2h0m8 1h0m-53 2h0m48 2h0m14-1h0m-12 2h0m20 0h0m-18 4h0"/><path id="c42b" d="M116 446h0m-24 3h0m17 0h0m45-1h0m-62 2h0m3 2h0m1-1h0m8-1h0m1 1h0m9 0h0m4 0h0m1-1h0m2 1h0m19-1h0m1 1h0m2-2h0m-68 4h0m4 1h0m6-2h0m5 2h0m2-2h0m7 2h0m10 0h0m3-2h0m1 1h0m14 1h0m2 1h0m-47 2h0m4-1h0m7-1h0m3 1h0m9 1h0m4-1h0m6-1h0m1 2h0m4-2h0m0 2h0m0-2h0m25 2h0m1-1h0m1 0h0m57 1h0m-128 3h0m5-2h0m3 2h0m3 0h0m9-2h0m1 0h0m7 0h0m3 1h0m2-1h0m5 1h0m2-1h0m1 2h0m8-2h0m2 0h0m0 2h0m1-1h0m2-2h0m4 1h0m2 0h0m1 2h0m1-2h0m3 0h0m2 0h0m2 2h0m0-1h0m2-1h0m14 1h0m8 1h0m-99 1h0m27 0h0m4 0h0m1 0h0m2 1h0m2 1h0m3-2h0m3 0h0m1 1h0m3 0h0m0-2h0m5 2h0m5-1h0m1 1h0m3 0h0m1-1h0m0 0h0m3 1h0m1-1h0m0 0h0m8 0h0m0 1h0m1 1h0m1 0h0m2-1h0m0-1h0m0 1h0m-51 3h0m2 0h0m2-1h0m0 0h0m1-1h0m1 1h0m1-1h0m6 1h0m1-1h0m1 0h0m2 0h0m3 1h0m6-1h0m2 0h0m0 0h0m5 2h0m7-1h0m3 0h0m0 0h0m0 0h0m6-1h0m1 1h0m12-1h0m4 0h0m7 0h0m-84 3h0m3 1h0m7 0h0m1 1h0m2-2h0m2 2h0m2-2h0m8 1h0m6 0h0m0-1h0m5 0h0m4 1h0m12-1h0m1 0h0m0 1h0m2-1h0m2 0h0m1 0h0m0 1h0m0 0h0m3 0h0m7-2h0m6 3h0m7-2h0m-70 4h0m5 0h0m11-1h0m5 2h0m1-2h0m0-1h0m6 2h0m6-2h0m1 2h0m1-2h0m1 1h0m8 1h0m3-1h0m2 1h0m3 0h0m8 0h0m8-2h0m-64 3h0m4 2h0m0-2h0m6 2h0m2-2h0m10 1h0m10-1h0m1 1h0m11 1h0m-49 2h0m6-1h0m5 2h0m15-2h0m25 2h0"/><path id="c43a" d="M103 462h0m23 7h0m3 1h0m54 1h0m-19 5h0m7-1h0m49-1h0m-85 2h0m38 1h0m-21 3h0m21 0h0m5 1h0m-18 3h0m6-1h0m14 0h0m32 0h0m27 0h0m-82 3h0m6-1h0m4 1h0m2-2h0m8 0h0m2 1h0m4 0h0m26 1h0m10-1h0m-65 4h0m17-2h0m7 2h0m0-2h0m20 2h0m11-1h0m18 1h0m-58 1h0m3-1h0m2 1h0m5 0h0m10 1h0m3 1h0m34-1h0m14 1h0m-77 2h0m31-2h0m5 2h0m1-2h0m4 1h0m14-1h0m4 1h0m-88 4h0m15-1h0m19 0h0m10 0h0m4 1h0m1 0h0m13-2h0m9 2h0m26-1h0m2 1h0m-83 3h0m19-1h0m6-1h0m5 1h0m4 0h0m11 0h0m1 1h0m5-1h0m4 1h0m-57 2h0m2 0h0m6 0h0m20-1h0m2 1h0m3-1h0m11 0h0m43 2h0m-75 2h0m21-2h0m6 0h0m6 1h0m11 0h0m5-1h0m3 1h0m-52 4h0m6-1h0m3 0h0m0 1h0m3-2h0m1 1h0m9 0h0m1-1h0m2 0h0m6 0h0m24 0h0m9 1h0m25-1h0m-68 4h0m4-1h0m7 0h0m1 1h0m0-2h0m4 1h0m3 1h0m1-1h0m1 1h0m9-2h0m6 1h0m3 1h0m-50 1h0m19 2h0m7-1h0m3 1h0m0-1h0m0-1h0m8 1h0m3 0h0m3 1h0m4-1h0m3 0h0m5 0h0m1-1h0m3 1h0m36-1h0m-94 3h0m26 1h0m10-1h0m2 1h0m8 1h0m9-1h0m1-2h0m1 1h0m5 0h0m-56 3h0m21 1h0m2-1h0m14 0h0m0 0h0m2 1h0m4 0h0m1-1h0m18 0h0m-53 6h0m5 0h0m6 0h0m2-1h0m9 0h0m0 2h0m28-2h0m15 0h0m4 1h0m-29 3h0m-23 3h0m3-2h0m31 2h0m2-1h0m0 1h0m-31 4h0m11 3h0"/><path id="c43b" d="M135 460h0m31 4h0m-56 3h0m43-2h0m17 1h0m11 7h0m4-1h0m-67 2h0m48 1h0m7 1h0m22 0h0m-37 0h0m34 0h0m-64 5h0m8-1h0m-36 3h0m35-1h0m22 0h0m8 2h0m3-2h0m1 1h0m11 0h0m6 1h0m6 0h0m0 0h0m17-1h0m4 0h0m-62 2h0m26 0h0m4 1h0m3-2h0m2 2h0m-54 2h0m46-1h0m2 1h0m10-1h0m21 0h0m-43 3h0m8 0h0m10 1h0m0-1h0m7 0h0m6 1h0m11 0h0m1-1h0m1 0h0m-41 4h0m0-2h0m8 2h0m0-1h0m5 1h0m3-1h0m1 1h0m2-1h0m4 1h0m0-2h0m6 2h0m5 0h0m13-1h0m14 1h0m-93 1h0m18 0h0m2 2h0m16 0h0m29-1h0m2 0h0m0-1h0m9 2h0m5-1h0m3 1h0m-90 1h0m24 0h0m5 1h0m8-1h0m2-1h0m14 2h0m0 1h0m7 0h0m17-2h0m2 0h0m-68 3h0m28 1h0m3 1h0m1-2h0m1 0h0m4 2h0m10-3h0m1 3h0m3-1h0m8 0h0m5 0h0m2-2h0m2 2h0m4-1h0m18-1h0m3 0h0m-77 4h0m13 0h0m1 1h0m10-1h0m10-1h0m9 2h0m1 0h0m14-2h0m-44 3h0m11 0h0m2 1h0m8 1h0m3-2h0m8 1h0m17-1h0m41 0h0m-74 4h0m2 1h0m0-1h0m15-1h0m1 1h0m4-1h0m10 0h0m1-1h0m1 1h0m33 1h0m-98 1h0m11 0h0m5 2h0m6-1h0m24 1h0m37 0h0m-71 3h0m0-2h0m20 0h0m7-1h0m2 2h0m5 1h0m2-2h0m20 0h0m6 1h0m8 1h0m27-1h0m-71 3h0m6-2h0m11 0h0m4 1h0m11 0h0m6 1h0m34 0h0m-96 3h0m13 0h0m4-2h0m26 2h0m5-1h0m9 0h0m3 1h0m31 0h0m-88 1h0m4 1h0m23 0h0m2-2h0m6 1h0m13-1h0m11 1h0m4 1h0m-43 2h0m3 1h0m12-2h0m25 1h0m-55 3h0m18 1h0m-2 1h0m17 1h0m8-1h0m31 1h0m12-1h0"/><path id="c44a" d="M328 509h0m4 2h0m14-2h0m5 4h0m-31 0h0m18 1h0m-4 4h0m10 0h0m-27 2h0m9 1h0m2-2h0m15 2h0m8-2h0m-38 3h0m11 2h0m30-2h0m-34 2h0m10 0h0m0 1h0m7-1h0m1 0h0m-7 3h0m9 0h0"/><path id="c44b" d="M334 511h0m-11 4h0m15 0h0m6-1h0m2 0h0m-27 4h0m4 1h0m15-1h0m-23 1h0m13 1h0m6 1h0m3-1h0m-32 2h0m14 0h0m10 0h0m1 0h0m4 1h0m6-1h0m1 0h0m3 1h0m-27 2h0m5 1h0m7-2h0m9 1h0m12 1h0m-13 1h0m5 2h0"/><path id="c45a" d="M382 515h0m31 4h0m-46 1h0m15 1h0m18-2h0m12 1h0m3 1h0m13-1h0m-41 3h0m4-2h0m7 1h0m14 1h0m4 0h0m1 0h0m20 0h0m-65 1h0m12 3h0m11-2h0m1 2h0m17-3h0m5 1h0m-32 2h0m9 0h0m10 1h0m-8 2h0m10 1h0m3-1h0m31 0h0m17 1h0"/><path id="c45b" d="M405 518h0m14 0h0m1-1h0m-71 4h0m7-1h0m40 0h0m39 0h0m20-1h0m-71 3h0m3 0h0m2 1h0m0 1h0m0 0h0m10-1h0m2 0h0m73-1h0m-84 2h0m8 0h0m3 1h0m15 0h0m7 0h0m36 2h0m-84 1h0m3 0h0m21 0h0m6 1h0m8-1h0m22 0h0m9-1h0m-21 4h0m7-1h0"/><path id="ne0" d="M420 58h0m-119 17h0m105 14h0m-62 2h0m196 16h0m-200 3h0m31 0h0m-35 2h0m88-1h0m76 8h0m-50 5h0m158 2h0m67 4h0m-106 3h0m-247 2h0m82 2h0m17 2h0m136 4h0m-56 7h0m-50 1h0m129 0h0m-234 7h0m182-1h0m4 1h0m-154 1h0m20 3h0m74 4h0m207 3h0m-295 2h0m109 4h0m-98 7h0m388 2h0m-133 5h0m-233 9h0m255-1h0m140 3h0m-264 2h0m-259 2h0m440 2h0m-226 2h0m-227 4h0m85 0h0m342 4h0m-281 6h0m41-1h0m96 0h0m261 1h0m-244 4h0m-247 3h0m132 4h0m256-1h0m128-1h0m-103 3h0m75 2h0m31 0h0m90-1h0m-15 3h0m-455 5h0m19 6h0m325-1h0m163 4h0m-657 3h0m203 3h0m3-1h0m16 3h0m217-1h0m142-1h0m72 2h0m-624 5h0m25 1h0m148 1h0m-232 1h0m560 2h0m132 0h0m-152 7h0m-486 4h0m291 2h0m88 3h0m-138 2h0m-14 9h0m173 0h0m-321 5h0m290-2h0"/><path id="ne1" d="M324 65h0m151 4h0m-78 13h0m-12 5h0m212 1h0m-212 2h0m201 0h0m-214 7h0m159-2h0m-117 4h0m-17 5h0m98 11h0m48 5h0m-40 2h0m70 6h0m-168 4h0m49 1h0m240 2h0m-232 4h0m10 5h0m-124 3h0m101 4h0m225 11h0m-363 15h0m208-1h0m-195 4h0m125 1h0m164 1h0m15 0h0m-337 3h0m31 0h0m154 0h0m253-2h0m-410 3h0m0 2h0m-13 5h0m275-1h0m-188 2h0m331 6h0m-136 9h0m-8 2h0m155 2h0m-354 4h0m155-2h0m206 2h0m23 1h0m-377 7h0m243 1h0m188 0h0m-408 3h0m13 7h0m182 4h0m90 1h0m-368 2h0m-36 2h0m141 4h0m474-2h0m62 3h0m-11 4h0m-432 5h0m132-1h0m305 1h0m-11 3h0m-131 3h0m-149 2h0m240-1h0m-231 2h0m39 4h0m39-1h0m14 1h0m195-1h0m-647 4h0m49 3h0m19 3h0m239 1h0m250 0h0m-439 3h0m363-1h0m-273 4h0m2-1h0m86 0h0m38 1h0m85 9h0m-146 5h0m64 0h0"/><path id="ne2" d="M359 76h0m210 7h0m-180 2h0m-56 6h0m-48 11h0m138 1h0m34 7h0m22 9h0m-58 11h0m52 5h0m197 9h0m-383 2h0m202 10h0m227 5h0m-279 12h0m-111 3h0m178 0h0m95 5h0m32 5h0m-123 4h0m264 0h0m-157 6h0m16 1h0m142 0h0m-280 7h0m230 5h0m102 6h0m-513 10h0m17-1h0m94-1h0m202 1h0m-251 2h0m240 5h0m315 0h0m-271 5h0m33 2h0m-173 3h0m138-1h0m-179 3h0m-153 1h0m379 3h0m-420 5h0m119-1h0m153 0h0m346-2h0m-10 5h0m-470 8h0m-127 6h0m521-2h0m-445 9h0m350-2h0m-342 12h0m290 4h0m-188 2h0m301-1h0m61 2h0m-366 1h0m187 0h0m287 0h0"/><path id="ne3" d="M309 76h0m174 4h0m-80 5h0m55-1h0m90 2h0m-24 7h0m30 2h0m-30 12h0m-140 3h0m88-1h0m-105 2h0m185 1h0m25 1h0m-203 5h0m111 0h0m-137 2h0m31 5h0m10 5h0m82 4h0m31 0h0m127-1h0m-259 6h0m-68 12h0m86 5h0m71 2h0m16 3h0m-67 16h0m149 0h0m19-1h0m167 2h0m-333 3h0m328 11h0m-190 7h0m175 9h0m-114 3h0m-328 1h0m526 6h0m-498 3h0m268 0h0m49 0h0m31 2h0m21 2h0m123 2h0m-219 3h0m51 1h0m148 2h0m-281 2h0m97 5h0m45-1h0m310 1h0m-320 2h0m18 6h0m24-1h0m104 5h0m118-1h0m-459 1h0m238 2h0m-135 2h0m152 0h0m180 2h0m-241 9h0m104 0h0m-13 4h0m-216 8h0m-22 4h0m307 0h0m-311 4h0m-41 3h0m284 1h0m-219 3h0m309-1h0m-274 4h0m88 1h0m164 1h0m-280 6h0"/><path id="ne4" d="M404 64h0m35 2h0m-75 4h0m-68 19h0m91 3h0m-90 7h0m251 0h0m-183 4h0m-15 14h0m75-1h0m84 10h0m-129 2h0m115 3h0m119 1h0m-32 4h0m-71 6h0m-104 3h0m1-1h0m326 5h0m-332 4h0m-26 1h0m1 1h0m77-1h0m-129 3h0m367 1h0m35 7h0m-415 9h0m265-1h0m68 1h0m-259 1h0m22 0h0m340 4h0m-313 2h0m-151 6h0m278 0h0m54 7h0m-266 3h0m72 0h0m163 2h0m-34 6h0m-149 2h0m374 8h0m-382 3h0m184 0h0m-93 5h0m65 2h0m-64 5h0m34 2h0m365 1h0m-139 4h0m-404 4h0m154-2h0m229 2h0m-265 4h0m-76 18h0m171 9h0m-181 2h0m68 4h0m37-1h0m375-1h0m-451 5h0m152-1h0m32 3h0m370 0h0m-432 1h0m349 2h0m-484 1h0m474 4h0m-455 1h0m71 4h0m222-1h0m197 2h0m-286 1h0m11 1h0m-203 3h0"/><path id="ne5" d="M393 70h0m21 0h0m-26 5h0m-4 11h0m63 8h0m-83 8h0m-32 6h0m73 0h0m71 8h0m68-1h0m47 2h0m61 12h0m-259 3h0m254 0h0m-327 7h0m182 4h0m-29 0h0m233 1h0m7 4h0m-112 0h0m94 6h0m13 13h0m-81 5h0m-232 5h0m226 2h0m100-1h0m60 5h0m-474 6h0m131 0h0m233 7h0m68 2h0m-418 3h0m171-1h0m154 0h0m-36 4h0m-127 7h0m259 5h0m-450 4h0m95 1h0m388-1h0m-424 4h0m413 8h0m69 0h0m-116 2h0m-237 5h0m159-1h0m239-2h0m-378 4h0m269 1h0m-360 4h0m374 1h0m-118 2h0m-219 2h0m286 0h0m240 2h0m-663 0h0m85 2h0m547-1h0m38 3h0m-646 2h0m647 9h0m-584 2h0m47-1h0m91 1h0m126 3h0m183 3h0m-276 3h0m356 0h0m-605 2h0m121 1h0m49 0h0m6 10h0m145 0h0m140 1h0m203-1h0m-328 9h0m59 0h0"/><path id="ne6" d="M412 65h0m-32 6h0m71 11h0m110 6h0m-257 12h0m14 2h0m-33 3h0m153 1h0m132 7h0m91 0h0m-289 5h0m147 7h0m-138 17h0m46-1h0m185-1h0m-254 11h0m308 4h0m-324 2h0m367 8h0m-92 3h0m-15 4h0m-287 1h0m313 2h0m-334 4h0m45 2h0m104 0h0m297 5h0m-449 11h0m209 1h0m37 5h0m-207 2h0m49 0h0m193 7h0m229-1h0m-141 2h0m138 1h0m-147 5h0m-261 5h0m38 6h0m457-2h0m16 3h0m-582 2h0m517-1h0m-367 6h0m397-2h0m-555 4h0m543-1h0m-380 4h0m372 0h0m-313 6h0m246-1h0m-451 2h0m464 1h0m110-2h0m-603 3h0m275 0h0m136 3h0m-292 8h0m-79 3h0m273 0h0m-309 6h0m404 4h0m-305 8h0m107 14h0m194 1h0m-68 2h0"/><path id="nf0" d="M1196 358h0m55 25h0m-94 1h0m-102 11h0m78 2h0m-96 3h0m-4 2h0m315 24h0m-84 2h0m105 0h0m-150 8h0m37 7h0m-166 4h0m-159 17h0m236-1h0m130 16h0m34-1h0m21-1h0m-466 9h0m352 8h0m-290 2h0m150 0h0m-61 2h0m-54 4h0m186 11h0m-190 5h0m290-2h0m-320 9h0m119 2h0m50 4h0m-202 3h0m-40 9h0m197 2h0m-308 4h0m263 1h0m-256 34h0m48 9h0m132 6h0m-163 11h0m107 8h0m-193 9h0m35 7h0m198 2h0m264 8h0m-505 4h0m100 3h0m269 3h0m122-1h0m-163 6h0m128 3h0m-405 4h0m139 11h0m-144 12h0m334 7h0m-87 2h0m-111 4h0m-63 11h0m27 8h0m-43 5h0m294-1h0m-253 2h0m39 2h0m144 2h0m44 8h0m33 3h0m48 7h0m-16 33h0m-338 6h0m332 1h0m-196 14h0m88 11h0m-150 27h0"/><path id="nf1" d="M1255 368h0m-153 6h0m110 7h0m-173 12h0m244 0h0m-17 12h0m-46 4h0m-103 1h0m59 1h0m189 4h0m-322 14h0m317 1h0m-20 25h0m-165 19h0m109 2h0m-245 9h0m4 0h0m9 3h0m47 0h0m-14 8h0m140 20h0m33-1h0m38-1h0m-348 6h0m193 0h0m-326 10h0m76 1h0m52 9h0m-113 6h0m-86 14h0m30 10h0m104 5h0m-173 3h0m356 7h0m-259 10h0m-53 2h0m194 11h0m-145 23h0m237 1h0m11 0h0m-306 14h0m126 14h0m199 2h0m-318 32h0m460 0h0m-199 9h0m178 6h0m-93 3h0m-386 6h0m248 10h0m-48 17h0m13 8h0"/><path id="nf2" d="M1268 368h0m-233 20h0m25 2h0m25 9h0m27 16h0m-129 16h0m297 1h0m-214 13h0m283 7h0m-431 13h0m273 5h0m-191 7h0m178 1h0m199 0h0m-390 8h0m31-1h0m84 0h0m-93 4h0m-91 1h0m67 18h0m70 5h0m88 1h0m102 12h0m84 0h0m-259 10h0m105 2h0m-77 9h0m100 14h0m-297 1h0m-144 3h0m249 8h0m-354 3h0m67 8h0m153 8h0m-95 8h0m-70 6h0m336 2h0m142 1h0m-349 2h0m360 9h0m-470 6h0m276 7h0m-287 15h0m153 30h0m81 5h0m21-1h0m176 5h0m-297 9h0m157-1h0m60 1h0m-123 25h0m10 4h0m53 10h0m-293 6h0m80 6h0m151 9h0m-100 2h0m138 27h0m-199 37h0m104 42h0"/><path id="nf3" d="M969 384h0m201 9h0m158 45h0m-227 14h0m-184 18h0m130 33h0m160 5h0m-302 4h0m196 5h0m-230 8h0m132 3h0m97-1h0m-358 9h0m363 9h0m-112 6h0m-32 4h0m184 0h0m-497 2h0m281 14h0m43 2h0m13 7h0m-340 10h0m540 3h0m-485 50h0m182 4h0m111 29h0m-129 13h0m180 2h0m-290 18h0m33 3h0m-44 5h0m94 7h0m36 11h0m107 7h0m131 10h0"/><path id="nf4" d="M1138 355h0m-174 46h0m88 4h0m-95 16h0m272 9h0m60 9h0m-241 7h0m296 2h0m-358 3h0m123 0h0m-118 2h0m79 0h0m57 1h0m-180 10h0m135 1h0m-119 16h0m138 2h0m26 5h0m97 3h0m-349 4h0m195 9h0m18 4h0m-12 10h0m-249 29h0m293-1h0m-390 3h0m258 1h0m18-1h0m-156 6h0m-31 9h0m16 4h0m266 0h0m40-1h0m-515 3h0m35 12h0m528-1h0m-181 13h0m-14 2h0m101 4h0m-214 8h0m173-1h0m-425 4h0m-37 1h0m341 10h0m9 0h0m-244 2h0m31 5h0m212 9h0m-28 5h0m220 3h0m-137 9h0m176 6h0m-291 2h0m-168 7h0m137 13h0m161 25h0m-260 4h0m93 12h0m176 6h0m19 7h0m-285 12h0m300 10h0m-144 13h0m227 14h0"/><path id="nf5" d="M1165 385h0m16-2h0m-162 4h0m-20 2h0m174 7h0m112 6h0m-35 20h0m-229 2h0m13 0h0m-53 2h0m217 3h0m-113 5h0m153 7h0m-49 1h0m99 6h0m-213 4h0m288 2h0m-43 2h0m-279 3h0m99 7h0m233 2h0m-285 11h0m50 13h0m-134 14h0m-41 30h0m-37 16h0m-137 5h0m271 6h0m63 1h0m-179 16h0m205 2h0m-445 12h0m448 23h0m-15 11h0m-356 3h0m145 6h0m-159 2h0m68 8h0m97 6h0m43 9h0m-299 16h0m14 0h0m186 7h0m260 1h0m-370 37h0m48 13h0m266 21h0m41 3h0m-200 19h0m-82 75h0"/><path id="nf6" d="M1082 372h0m41 11h0m45 25h0m177 33h0m-261 8h0m77 0h0m-14 15h0m-48 4h0m95 3h0m161 6h0m-296 3h0m287 1h0m-304 3h0m197 5h0m-112 21h0m-198 24h0m-154 2h0m-26 9h0m54 3h0m134 5h0m156 2h0m-344 29h0m15 9h0m26-1h0m163 9h0m-168 1h0m317 6h0m-5 2h0m-279 3h0m186 7h0m5 17h0m-21 19h0m38 1h0m132-1h0m-210 4h0m116 2h0m-60 11h0m-306 25h0m404 0h0m-219 7h0m199 14h0m-60 5h0m-181 19h0m139 6h0m100 1h0m51 23h0m-308 3h0m231 17h0m74 17h0"/><path id="nf7" d="M1242 364h0m-3 0h0m-45 3h0m-180 6h0m205-1h0m85 8h0m-103 13h0m-132 34h0m-32 4h0m228 4h0m-302 2h0m391 8h0m-321 10h0m-66 9h0m134 8h0m-63 31h0m59-3h0m76 2h0m181-2h0m-158 8h0m116 1h0m-378 10h0m170 3h0m-116 4h0m40 3h0m-327 12h0m222 12h0m202 0h0m-100 3h0m-181 5h0m128-2h0m81 12h0m-392 9h0m400-1h0m-363 7h0m38 5h0m296-2h0m-434 5h0m61 2h0m351 9h0m43 0h0m-158 8h0m-248 2h0m-49 3h0m177 14h0m431 1h0m-171 2h0m-293 2h0m111 9h0m-112 6h0m-3 10h0m162 0h0m-140 6h0m24 1h0m138 3h0m-33 33h0m5 2h0m247 1h0m65 3h0m-326 10h0m-68 1h0m226 13h0m15 21h0m-231 4h0m229 2h0m-243 17h0m63 24h0m-41 22h0"/><path id="ng0" d="M862 513h0m268 3h0m-205 0h0m-76 4h0m259 1h0m-215 1h0m132 3h0m3 0h0m-126 9h0m170 0h0m134 0h0m-349 13h0m59-1h0m196 2h0m-364 2h0m61-1h0m96 0h0m161 4h0m118-1h0m-355 3h0m226 4h0m-273 6h0m221 12h0m-268 1h0m17 2h0m82 0h0m98 3h0m-52 0h0m-80 3h0m148 2h0m-23 0h0m2 2h0m134 2h0m-235 6h0m274-1h0m65 1h0m-439 10h0m60 1h0m252-1h0m-117 4h0m183 1h0m-385 4h0m484-1h0m-89 3h0m-225 3h0m82 2h0m111-1h0m33 7h0m-168 3h0m-248 7h0m305 0h0m-28 2h0m-123 2h0m125 2h0m210-2h0m-256 5h0m-194 4h0m369 1h0m-162 2h0m-62 4h0m15-1h0m108 9h0m-301 5h0m175-2h0m63 4h0m239 0h0m-241 7h0"/><path id="ng1" d="M1209 513h0m17 2h0m-74 1h0m-12 5h0m71 2h0m-296 5h0m36 0h0m45 5h0m67 2h0m94 4h0m-239 2h0m-145 7h0m428 4h0m-259 2h0m170 0h0m-181 7h0m139 1h0m-350 6h0m-22 6h0m233 0h0m34 0h0m204 0h0m-411 1h0m261 1h0m-155 2h0m-34 3h0m119 2h0m-204 3h0m126 5h0m28 1h0m-81 3h0m-59 1h0m84 3h0m20-2h0m-168 3h0m9 0h0m19 2h0m246 0h0m-233 4h0m2 0h0m46 8h0m126-2h0m-227 4h0m39-1h0m169 1h0m70 1h0m55 0h0m28 0h0m-78 2h0m164 0h0m-99 5h0m93 0h0m41-1h0m-354 5h0m306 0h0m-343 1h0m416 2h0m-474 8h0m-36 7h0m281-1h0m107 0h0m29-1h0m-67 8h0m-230 6h0m17 0h0m71 1h0m66 3h0m-62 8h0m27 0h0m8-2h0m50 8h0m59-2h0m-348 3h0m59 1h0m194-1h0m149 4h0m-24 2h0"/><path id="ng2" d="M1029 517h0m207 4h0m15 1h0m-460 2h0m249 3h0m-280 1h0m490 0h0m-337 3h0m-65 2h0m25 7h0m255-1h0m60 1h0m-207 4h0m36-1h0m-224 5h0m-91 4h0m30 0h0m-41 2h0m129 1h0m216 0h0m123 1h0m-253 4h0m69 0h0m-244 6h0m4-1h0m80-1h0m374 1h0m-366 6h0m-106 4h0m41 1h0m52 0h0m120 0h0m249 0h0m-10 11h0m-118 4h0m58 2h0m2 1h0m-310 7h0m206 0h0m85-1h0m54 1h0m-480 3h0m169 1h0m9 1h0m-54 8h0m7 2h0m20 1h0m151-1h0m146 1h0m49 3h0m-406 1h0m2 3h0m223-1h0m127 1h0m-275 3h0m81 0h0m74 4h0m-287 3h0m279 0h0m-204 2h0m146 2h0m-150 4h0m332 0h0m-140 2h0m241 2h0m-240 3h0m25-1h0m-196 2h0m145 0h0m-185 7h0m-57 1h0m1 1h0m374 7h0m78 0h0m-410 6h0m98-1h0m73 4h0m281 4h0m-422 1h0m54 4h0m-111 1h0m261 1h0"/><path id="ng3" d="M975 513h0m111 2h0m110 3h0m-76 2h0m-120 2h0m173 3h0m45-1h0m-409 15h0m130-1h0m9 4h0m109 0h0m-298 3h0m203-2h0m195 13h0m-204 4h0m-273 1h0m266 1h0m-242 3h0m258 9h0m-160 6h0m29-1h0m93 1h0m-123 9h0m214-1h0m164 1h0m-340 3h0m48 2h0m-136 6h0m234-1h0m-30 3h0m-5 5h0m-280 3h0m211 3h0m85 0h0m-83 4h0m22-2h0m48 3h0m-243 4h0m293-2h0m118 1h0m-159 3h0m169-1h0m-294 4h0m218-1h0m125 6h0m-443 16h0m57-1h0m391 1h0m-312 2h0m157 0h0m102 0h0m-231 3h0m-213 3h0m302 0h0m-133 5h0m235 1h0m84-1h0m20-1h0m-443 9h0m100 2h0m38 3h0m71 1h0m-11 2h0m-239 4h0m22-1h0m302 0h0m46 8h0"/><path id="ng4" d="M1276 515h0m-201 16h0m128 1h0m43 1h0m-529 6h0m36 5h0m251 0h0m77-1h0m-328 6h0m87-1h0m9 1h0m194 3h0m-270 3h0m64-1h0m308 2h0m-353 2h0m25-2h0m245 5h0m-268 2h0m13 12h0m15 6h0m-149 4h0m507 2h0m-58 7h0m-456 8h0m305 6h0m118 0h0m21 0h0m3 2h0m-192 14h0m277 6h0m-174 3h0m-286 5h0m384 3h0m-52 3h0m-224 2h0m241-1h0m-84 2h0m-209 5h0m398-1h0m-457 1h0m58 1h0m308 5h0m92 2h0m-38 3h0m-232 7h0m36-1h0m-197 6h0m108 0h0m286 3h0m24-2h0m-18 8h0"/><path id="ng5" d="M1219 515h0m-435 2h0m207 1h0m183-2h0m-159 5h0m249-2h0m-344 3h0m98 1h0m-233 1h0m98 4h0m214 1h0m-263 2h0m217 4h0m78 2h0m-170 1h0m178 1h0m-151 6h0m-28 2h0m132 2h0m-415 9h0m12 2h0m111-1h0m244 1h0m163 6h0m-101 2h0m-261 12h0m-121 1h0m5 1h0m413 8h0m1-1h0m4 4h0m51 1h0m-184 3h0m-97 8h0m283-1h0m-425 5h0m-111 1h0m395 1h0m-339 2h0m227 3h0m14 5h0m-208 5h0m84 1h0m-96 2h0m359 0h0m52 2h0m-266 1h0m-89 2h0m57 2h0m46-1h0m282 3h0m18 0h0m-143 1h0m-310 4h0m305 0h0m-74 4h0m196 2h0m-143 1h0m3 0h0m13 1h0m-285 1h0m326 4h0m-177 4h0m-229 3h0m111 4h0m31 0h0m63 0h0m174-1h0m39 0h0m-127 2h0m140 2h0m-412 6h0m159 0h0m138-1h0m187-1h0m-118 2h0m-331 3h0m40 2h0m139 0h0m-187 3h0m4-2h0m348 2h0m-335 0h0"/><path id="ng6" d="M918 516h0m210 6h0m132 13h0m-44 0h0m-75 2h0m-330 10h0m6 5h0m-134 4h0m206-1h0m209-1h0m-50 7h0m35 2h0m-409 6h0m149 20h0m203 0h0m-347 4h0m374-2h0m-331 5h0m84-2h0m296 5h0m16 1h0m13-1h0m23 5h0m-439 1h0m196 0h0m-44 8h0m-197 3h0m168 2h0m161 2h0m69 14h0m-339 2h0m16 6h0m101 0h0m206 3h0m-91 3h0m-25 3h0m84 0h0m-301 1h0m-40 13h0m424 0h0m-279 2h0m-99 2h0m89 1h0m217-2h0m78 3h0m-167 7h0m217-1h0m-396 2h0m306 8h0"/><path id="ng7" d="M1099 513h0m-35 1h0m175 3h0m-398 2h0m77 10h0m37 6h0m137-2h0m178-1h0m-549 4h0m15 3h0m43 0h0m28 1h0m266 1h0m-60 6h0m-339 3h0m318 0h0m17 2h0m60 0h0m69 1h0m-97 1h0m-294 4h0m30 0h0m-22 5h0m245 1h0m76-1h0m-415 3h0m174 1h0m116 0h0m22 2h0m-138 1h0m276 1h0m-222 1h0m-226 5h0m63-1h0m-34 1h0m-1 5h0m45 0h0m-59 6h0m374-2h0m-134 4h0m-248 8h0m228 0h0m-116 8h0m93 0h0m282 2h0m-427 7h0m68 5h0m48 13h0m7-1h0m195 2h0m-93 5h0m140 0h0m-329 4h0m26 5h0m50 1h0m5-1h0m129 1h0m-111 7h0m130 0h0m106 1h0m-168 4h0m79 2h0m19-1h0m5 5h0m21-1h0m-182 4h0m-46 3h0m18-2h0m137 7h0m-132 3h0m57 0h0m10 3h0m-162 4h0"/><path id="nd0" d="M530 319h0m36 5h0m158-1h0m55-1h0m116-1h0m-283 5h0m-106 14h0m-3 8h0m159 2h0m103-1h0m-326 5h0m34 4h0m69-1h0m11 5h0"/><path id="nd1" d="M773 318h0m40-1h0m126 1h0m-264 3h0m4 3h0m-70 1h0m-48 4h0m2 14h0m271-1h0m89 1h0m-72 2h0m-18 8h0m-176 1h0m-153 3h0m-54 8h0m135 0h0m114 8h0"/><path id="nd2" d="M756 311h0m125-2h0m100 1h0m3-1h0m-350 4h0m32 0h0m-95 6h0m129 1h0m-189 4h0m101 1h0m28-1h0m-159 4h0m99 4h0m-39 3h0m260 9h0m-169 8h0m246 0h0m-241 2h0m57 4h0m-226 10h0m239 6h0m5 2h0m-23 2h0m-95 3h0"/><path id="nd3" d="M745 313h0m148 1h0m42 3h0m-280 2h0m-38 3h0m240 6h0m-195 3h0m137 3h0m-101 2h0m170-1h0m-226 12h0m28-2h0m49 1h0m-220 5h0m305-2h0m-191 12h0m28-1h0m186 1h0m-227 2h0m-6 16h0"/><path id="nd4" d="M822 310h0m35 2h0m-408 11h0m417 3h0m-344 5h0m22 8h0m225 0h0m-14 1h0m-189 9h0m139 1h0m38 12h0m-116 3h0m-69 14h0m140-1h0"/><path id="nd5" d="M991 312h0m-73 3h0m85 1h0m-410 8h0m297-1h0m3 6h0m-307 6h0m20 13h0m60 3h0m-111 2h0m249 3h0m-201 21h0"/><path id="nd6" d="M909 310h0m49 1h0m-468 10h0m346 5h0m-172 2h0m219-1h0m-203 3h0m281 1h0m9-1h0m-489 6h0m35-1h0m-30 6h0m110 6h0m3 11h0m48-1h0m-47 6h0m-9 6h0m178 0h0m-99 3h0"/><path id="nx0" d="M1055 346h0m-810 23h0m400 18h0m133 11h0m104 14h0m-571 26h0m521 1h0m-343 4h0m178 0h0m-302 6h0m447 3h0m90 3h0m-769 7h0m141 5h0m607 5h0m-327 7h0m-338 6h0m336 9h0m-13 46h0"/><path id="nx1" d="M426 321h0m-147 51h0m291 9h0m140-1h0m-336 6h0m-1 23h0m446 5h0m-562 7h0m69 10h0m182 10h0m95-2h0m-352 5h0m283 0h0m-343 11h0m207 1h0m298 0h0m-260 3h0m22 53h0m-15 8h0m-240 7h0m61 5h0m-17 11h0m208 5h0"/><path id="nx2" d="M1015 291h0m-14 41h0m-695 17h0m78 74h0m-239 4h0m7 2h0m179-1h0m-2 3h0m-106 12h0m113 8h0m9 1h0m-143 4h0m266 12h0m54 2h0m353 3h0m-474 12h0m-171 8h0m157 0h0m-192 7h0m-7 9h0m317 4h0m-249 1h0m271 1h0m-267 26h0m-103 8h0m269 2h0"/><path id="nx3" d="M1022 316h0m-711 4h0m737 2h0m71 12h0m-733 37h0m-120 17h0m174-2h0m8 9h0m-173 4h0m-93 26h0m52 8h0m43 2h0m30-1h0m-126 7h0m586 8h0m47-1h0m-138 10h0m-484 4h0m381 15h0m-269 4h0m154-1h0m185 1h0m98 4h0m-298 25h0m104 0h0m-158 12h0m-145 6h0m158 8h0m165 2h0m-366 4h0m160 11h0m7 4h0"/><path id="nx4" d="M1007 309h0m104 2h0m-13 5h0m-49 11h0m-742 7h0m25-1h0m-24 4h0m855 16h0m-914 30h0m545 1h0m-348 4h0m-89 4h0m425 18h0m-539 13h0m198 18h0m-62 13h0m308 6h0m-449 7h0m100 0h0m485 5h0m-666 6h0m313 1h0m308 2h0m-299 3h0m-94 4h0m-173 10h0m277 4h0m261-1h0m-345 3h0m-249 8h0m-3 2h0m550 1h0m-181 19h0m-302 4h0m59 0h0m173 10h0"/><path id="nx5" d="M1144 292h0m-83 7h0m-42 2h0m-732 20h0m725 7h0m168 15h0m-798 1h0m678-1h0m-806 5h0m115 17h0m36 0h0m25 5h0m-112 6h0m377 9h0m117 3h0m-447 7h0m521 6h0m-97 13h0m-384 2h0m-21 16h0m-56 35h0m389 7h0m128 9h0m-339 3h0m317 2h0m-155 4h0m-75 2h0m-167 2h0m-75 6h0m108-1h0m6 9h0m-303 4h0m93 6h0m254 0h0m-377 12h0m252 7h0"/><path id="nx6" d="M1192 287h0m-16 27h0m-776 7h0m13 11h0m752 19h0m-294 32h0m-500 4h0m-22 40h0m133 13h0m17-1h0m-255 6h0m190 6h0m225 4h0m-434 8h0m-33 12h0m4 8h0m429 25h0m-271 3h0m-233 7h0m286 0h0m30 14h0m55 9h0m-96 12h0m-8 6h0"/></defs><g transform="scale(0.25)" stroke-width="5" stroke-linecap="square"><use href="#c0a" stroke="#e01010"/><use href="#c0b" stroke="#e01010"/><use href="#c1a" stroke="#d02525"/><use href="#c1b" stroke="#d02525"/><use href="#c2a" stroke="#1010c0"/><use href="#c2b" stroke="#1010c0"/><use href="#c3a" stroke="#a8e040"/><use href="#c3b" stroke="#a8e040"/><use href="#c4a" stroke="#5530d0"/><use href="#c4b" stroke="#5530d0"/><use href="#c5a" stroke="#e030e0"/><use href="#c5b" stroke="#e030e0"/><use href="#c6a" stroke="#101010"/><use href="#c6b" stroke="#101010"/><use href="#c7a" stroke="#30d030"/><use href="#c7b" stroke="#30d030"/><use href="#c8a" stroke="#d8b080"/><use href="#c8b" stroke="#d8b080"/><use href="#c9a" stroke="#7088b0"/><use href="#c9b" stroke="#7088b0"/><use href="#c10a" stroke="#a0a0a0"/><use href="#c10b" stroke="#a0a0a0"/><use href="#c11a" stroke="#4a9a3a"/><use href="#c11b" stroke="#4a9a3a"/><use href="#c12a" stroke="#e07030"/><use href="#c12b" stroke="#e07030"/><use href="#c13a" stroke="#6a9a40"/><use href="#c13b" stroke="#6a9a40"/><use href="#c14a" stroke="#8a8a8a"/><use href="#c14b" stroke="#8a8a8a"/><use href="#c15a" stroke="#6a8a50"/><use href="#c15b" stroke="#6a8a50"/><use href="#c16a" stroke="#8060a0"/><use href="#c16b" stroke="#8060a0"/><use href="#c17a" stroke="#7060c0"/><use href="#c17b" stroke="#7060c0"/><use href="#c18a" stroke="#f05010"/><use href="#c18b" stroke="#f05010"/><use href="#c19a" stroke="#7030b0"/><use href="#c19b" stroke="#7030b0"/><use href="#c20a" stroke="#f08030"/><use href="#c20b" stroke="#f08030"/><use href="#c21a" stroke="#c07040"/><use href="#c21b" stroke="#c07040"/><use href="#c22a" stroke="#3a7fc0"/><use href="#c22b" stroke="#3a7fc0"/><use href="#c23a" stroke="#2aa0b0"/><use href="#c23b" stroke="#2aa0b0"/><use href="#c24a" stroke="#a03048"/><use href="#c24b" stroke="#a03048"/><use href="#c25a" stroke="#c04050"/><use href="#c25b" stroke="#c04050"/><use href="#c26a" stroke="#30d8e8"/><use href="#c26b" stroke="#30d8e8"/><use href="#c27a" stroke="#a08850"/><use href="#c27b" stroke="#a08850"/><use href="#c28a" stroke="#a0b060"/><use href="#c28b" stroke="#a0b060"/><use href="#c29a" stroke="#80e0e0"/><use href="#c29b" stroke="#80e0e0"/><use href="#c30a" stroke="#a890d0"/><use href="#c30b" stroke="#a890d0"/><use href="#c31a" stroke="#3030c0"/><use href="#c31b" stroke="#3030c0"/><use href="#c32a" stroke="#e02030"/><use href="#c32b" stroke="#e02030"/><use href="#c33a" stroke="#a01030"/><use href="#c33b" stroke="#a01030"/><use href="#c34a" stroke="#e04080"/><use href="#c34b" stroke="#e04080"/><use href="#c35a" stroke="#e820e0"/><use href="#c35b" stroke="#e820e0"/><use href="#c36a" stroke="#7050d0"/><use href="#c36b" stroke="#7050d0"/><use href="#c37a" stroke="#70a830"/><use href="#c37b" stroke="#70a830"/><use href="#c38a" stroke="#60c080"/><use href="#c38b" stroke="#60c080"/><use href="#c39a" stroke="#e09020"/><use href="#c39b" stroke="#e09020"/><use href="#c40a" stroke="#709030"/><use href="#c40b" stroke="#709030"/><use href="#c41a" stroke="#a0a830"/><use href="#c41b" stroke="#a0a830"/><use href="#c42a" stroke="#7a3a10"/><use href="#c42b" stroke="#7a3a10"/><use href="#c43a" stroke="#d06070"/><use href="#c43b" stroke="#d06070"/><use href="#c44a" stroke="#30a0e0"/><use href="#c44b" stroke="#30a0e0"/><use href="#c45a" stroke="#e07070"/><use href="#c45b" stroke="#e07070"/><use href="#ne0" stroke="#909090"/><use href="#ne1" stroke="#7a9a50"/><use href="#ne2" stroke="#9070b0"/><use href="#ne3" stroke="#a04050"/><use href="#ne4" stroke="#6070c0"/><use href="#ne5" stroke="#c08050"/><use href="#ne6" stroke="#50a090"/><use href="#nf0" stroke="#a03050"/><use href="#nf1" stroke="#7050a0"/><use href="#nf2" stroke="#60a050"/><use href="#nf3" stroke="#a08050"/><use href="#nf4" stroke="#5060c0"/><use href="#nf5" stroke="#d04050"/><use href="#nf6" stroke="#40a0a0"/><use href="#nf7" stroke="#909090"/><use href="#ng0" stroke="#a03050"/><use href="#ng1" stroke="#7050a0"/><use href="#ng2" stroke="#60a050"/><use href="#ng3" stroke="#a08050"/><use href="#ng4" stroke="#5060c0"/><use href="#ng5" stroke="#d04050"/><use href="#ng6" stroke="#40a0a0"/><use href="#ng7" stroke="#909090"/><use href="#nd0" stroke="#c05060"/><use href="#nd1" stroke="#d07070"/><use href="#nd2" stroke="#a05040"/><use href="#nd3" stroke="#c08060"/><use href="#nd4" stroke="#8080a0"/><use href="#nd5" stroke="#60a0a0"/><use href="#nd6" stroke="#909090"/><use href="#nx0" stroke="#c05060"/><use href="#nx1" stroke="#d07070"/><use href="#nx2" stroke="#a05040"/><use href="#nx3" stroke="#c08060"/><use href="#nx4" stroke="#8080a0"/><use href="#nx5" stroke="#60a0a0"/><use href="#nx6" stroke="#909090"/></g><g fill="none" stroke="#4e6593" stroke-width="2.1"><path d="M72.0 19.5C72.8 18.2 72.4 16.6 75.5 15.5C78.6 14.4 85.7 13.4 90.8 13.2C95.9 13.0 99.6 13.6 106.0 14.3C112.4 15.0 122.4 16.2 129.0 17.3C135.6 18.4 140.1 19.5 145.4 20.8C150.7 22.1 155.7 23.1 160.8 25.0C165.9 26.9 170.9 29.6 176.0 32.3C181.1 35.0 186.3 38.5 191.5 41.4C196.7 44.3 201.2 47.5 207.0 49.6C212.8 51.7 220.2 52.7 226.0 54.2C231.8 55.7 237.6 57.0 241.5 58.8C245.4 60.6 248.2 63.0 249.5 65.0C250.8 67.0 250.2 69.0 249.5 70.5C248.8 72.0 251.6 73.2 245.0 74.0C238.4 74.8 221.5 74.8 210.0 75.0C198.5 75.2 187.7 75.3 176.0 75.5C164.3 75.7 148.6 75.8 140.0 76.0C131.4 76.2 130.3 76.8 124.6 76.8C118.9 76.8 111.6 76.3 106.0 75.8C100.4 75.2 96.2 74.5 90.8 73.5C85.4 72.5 77.4 71.3 73.8 69.6C70.2 67.9 70.1 65.8 69.2 63.5C68.3 61.2 68.4 59.1 68.5 55.8C68.6 52.5 69.4 47.4 70.0 43.5C70.6 39.6 72.2 36.0 72.3 32.7C72.4 29.4 70.8 25.7 70.8 23.5C70.8 21.3 71.2 20.8 72.0 19.5Z"/><path d="M104.0 86.2C103.7 84.5 105.7 82.2 108.0 81.0C110.3 79.8 112.7 79.5 118.0 79.0C123.3 78.5 130.5 78.4 140.0 78.2C149.5 78.0 161.7 77.8 175.0 77.6C188.3 77.4 207.7 77.3 220.0 77.2C232.3 77.1 243.2 76.7 249.0 77.0C254.8 77.3 254.2 78.4 254.5 79.3C254.8 80.2 255.6 81.2 251.0 82.6C246.4 84.0 235.3 86.1 227.0 87.7C218.7 89.3 209.7 90.8 201.0 92.0C192.3 93.2 183.5 94.0 175.0 94.6C166.5 95.1 157.9 95.3 150.0 95.3C142.1 95.3 134.4 95.0 127.7 94.4C121.0 93.8 114.0 92.9 110.0 91.5C106.0 90.1 104.3 88.0 104.0 86.2Z"/><path d="M232.7 104.5C235.4 100.8 238.2 97.2 242.5 94.7C246.8 92.2 249.6 90.9 258.8 89.8C268.1 88.7 287.5 87.8 298.0 88.2C308.5 88.7 314.9 90.3 322.0 92.5C329.1 94.7 336.2 98.3 340.5 101.2C344.8 104.1 347.4 106.5 348.0 110.0C348.6 113.5 346.7 118.2 343.8 122.5C340.9 126.8 334.5 131.8 330.7 135.6C326.9 139.4 323.4 141.6 321.0 145.4C318.6 149.2 316.8 154.3 316.0 158.4C315.2 162.5 315.5 165.8 316.5 170.0C317.5 174.2 319.9 178.8 322.0 183.3C324.1 187.8 327.7 193.4 329.0 197.0C330.3 200.6 330.7 203.1 330.0 205.0C329.3 206.9 327.8 208.4 325.0 208.5C322.2 208.6 318.9 206.5 313.5 205.5C308.1 204.5 299.4 202.6 292.3 202.3C285.2 202.0 278.1 202.2 271.0 203.6C263.9 205.0 257.3 208.7 250.0 210.8C242.7 212.9 234.3 215.0 227.3 216.0C220.3 217.0 213.8 217.3 208.0 217.0C202.2 216.7 196.5 215.8 192.7 214.0C188.9 212.2 187.3 210.3 185.0 206.0C182.7 201.7 181.1 193.3 179.0 188.0C176.9 182.7 176.0 177.6 172.7 174.0C169.4 170.4 163.2 168.9 159.0 166.3C154.8 163.8 150.1 161.1 147.7 158.7C145.3 156.3 144.8 154.1 144.8 152.0C144.8 149.9 145.3 148.3 147.7 146.2C150.1 144.1 153.9 141.7 159.0 139.4C164.1 137.2 172.1 134.5 178.5 132.7C184.9 130.9 191.9 130.0 197.7 128.8C203.4 127.7 208.3 127.8 213.0 125.8C217.7 123.8 222.7 120.5 226.0 117.0C229.3 113.5 229.9 108.2 232.7 104.5Z"/></g></svg><div class="pl" style="left:14px;top:6.4px;transform:scaleX(1.05)">A</div><div class="pl" style="left:376px;top:112px;font-size:13px">B</div><div class="t8" style="left:193.3px;top:20.8px">CD8<sup>+</sup><br>T cells</div><div class="t8" style="left:106px;top:99.8px;white-space:nowrap">CD3<sup>+</sup>CD4<sup>-</sup>CD8<sup>-</sup> T cells</div><div class="t8" style="left:145.4px;top:178.6px">CD4<sup>+</sup><br>T cells</div><div style="position:absolute;left:374px;top:131.0px;width:131.6px;height:81.7px;border:1.3px solid #7a7a7a;background:#fff"></div><div style="position:absolute;left:375.3px;top:132.3px;width:131.6px;height:9.7px;background:#e4e4e4;border-bottom:1.3px solid #7a7a7a"></div><div style="position:absolute;left:374px;top:132.2px;width:134px;text-align:center;font-size:8.3px;line-height:11.0px;color:#333">CD3<sup style="font-size:5.8px;vertical-align:3px;line-height:0">+</sup></div><svg style="position:absolute;left:375.3px;top:143.3px" width="131.6" height="70.0"><defs><path id="b0" d="M116 -2h0m9 1h0m0-2h0m-40 2h0m42 2h0m-57 5h0m77-1h0m8 1h0m-23 2h0m14-1h0m-40 3h0m26 1h0m4 0h0m15 0h0m25 1h0m3-1h0m-84 3h0m15 0h0m13-2h0m1 1h0m45 1h0m6 0h0m-47 1h0m3 0h0m21 2h0m5 0h0m3 0h0m0-2h0m5 2h0m4-1h0m13-1h0m2 1h0m21 1h0m-64 1h0m7 0h0m0 1h0m5 1h0m3 0h0m17 0h0m3 0h0m6-2h0m-65 3h0m17 1h0m16-2h0m4 2h0m3 1h0m1-1h0m0 0h0m6 0h0m14 0h0m17-1h0m1 0h0m0 1h0m-44 1h0m7 0h0m8 1h0m6-1h0m14 0h0m0 2h0m11-2h0m2 2h0m-51 2h0m18 1h0m7-1h0m2 0h0m0 1h0m2-1h0m3-2h0m13 2h0m9 0h0m1-1h0m5 0h0m-51 2h0m20 1h0m4 0h0m11 1h0m1-1h0m4 2h0m15-2h0m6 0h0m4 1h0m2-1h0m-68 4h0m7 0h0m16 0h0m3 0h0m12 0h0m6-1h0m0 0h0m16 0h0m1 1h0m-49 3h0m1-1h0m5 0h0m4 1h0m10-2h0m1 0h0m3 0h0m7 2h0m3 0h0m28 0h0m-58 1h0m1-1h0m1 1h0m7 1h0m0-1h0m6 1h0m10-1h0m30-1h0m5 0h0m-53 5h0m25-1h0m8 1h0m16-1h0m13 1h0m-48 3h0m8-1h0m5 1h0m3-2h0m35 1h0m-63 3h0m17 0h0m26-1h0m2 2h0m8 1h0m6-1h0m9 0h0m45 0h0m-76 3h0m10-1h0m-27 4h0m14 2h0m0 0h0m40 0h0m2 9h0m61 5h0"/><path id="b1" d="M75 -11h0m18 6h0m3 5h0m30-1h0m19 2h0m-56 1h0m18 2h0m13-1h0m1 1h0m17-2h0m29 0h0m-52 3h0m6 0h0m36 1h0m-51 2h0m3-1h0m26 2h0m2-1h0m3 1h0m-18 2h0m1-1h0m33 0h0m39 1h0m5-1h0m-82 3h0m32 0h0m6 0h0m1-1h0m22 1h0m-56 3h0m27 0h0m14-1h0m1 0h0m11 1h0m15-1h0m8 0h0m-50 3h0m10 0h0m18 1h0m45 1h0m-72 2h0m8-2h0m3 2h0m5 0h0m6 0h0m8-2h0m10 2h0m14-1h0m9 0h0m6 1h0m2 0h0m-89 2h0m33-1h0m5 0h0m2 1h0m2 0h0m10 1h0m13 0h0m4-2h0m9 2h0m-61 2h0m19-2h0m1 2h0m3 0h0m3 0h0m4 0h0m12-2h0m0 2h0m10 0h0m5-1h0m0 0h0m11 2h0m5 0h0m-103 2h0m32 0h0m6-1h0m5-1h0m3 2h0m7-1h0m6 2h0m2-1h0m8 0h0m4-2h0m3 1h0m10-1h0m12 2h0m15 0h0m-106 3h0m41 0h0m1-1h0m2 1h0m7-2h0m7 0h0m3 1h0m4 1h0m2-1h0m0-1h0m4 1h0m5 0h0m1 1h0m17 0h0m15-1h0m18-1h0m-79 4h0m9-1h0m4 1h0m1-1h0m5 0h0m7 2h0m3-1h0m1 0h0m4-1h0m0 0h0m3 0h0m21 1h0m-67 2h0m1 0h0m17 1h0m1 0h0m0-1h0m5 0h0m12 1h0m2 0h0m0-2h0m20 1h0m5 1h0m-74 1h0m30 0h0m0 2h0m8 0h0m3 0h0m20 0h0m1-1h0m3 0h0m9 1h0m2 0h0m3-2h0m8 1h0m-70 2h0m14 0h0m5 0h0m35 0h0m-54 3h0m6 0h0m39 0h0m17-1h0m-51 4h0m45 0h0m15-1h0m-15 4h0m27 0h0m-18 1h0m7 0h0m11 10h0"/><path id="b2" d="M113 3h0m14 1h0m-20 1h0m49 0h0m-32 3h0m13 1h0m12-1h0m6-1h0m0 1h0m-32 2h0m3 0h0m3 1h0m11-1h0m25 1h0m2 1h0m-52 0h0m50 2h0m11 0h0m1 1h0m26-2h0m-83 3h0m9-1h0m1 2h0m19-2h0m0 2h0m3-1h0m1 0h0m6 1h0m5-2h0m4 1h0m3 0h0m7 0h0m-71 4h0m13-2h0m16 0h0m18-1h0m19 1h0m8 2h0m-62 1h0m9 1h0m1 0h0m17-1h0m14-1h0m1 0h0m2 1h0m1-1h0m17 3h0m7-1h0m7 0h0m20-2h0m0 2h0m-78 1h0m8 1h0m0-1h0m5 0h0m0 0h0m2 2h0m2-2h0m4 2h0m1-2h0m1 1h0m0 0h0m4-1h0m6 0h0m17 1h0m1 1h0m8-2h0m4 1h0m6 0h0m-63 2h0m6 0h0m7 1h0m3 0h0m12 0h0m9-1h0m12 2h0m4-3h0m3 3h0m2-1h0m10 0h0m3 1h0m1 0h0m-85 2h0m28 0h0m2-2h0m1 0h0m9 2h0m22-1h0m3 1h0m1-1h0m3 0h0m4 1h0m11-2h0m10 2h0m1 1h0m-81 0h0m4 0h0m21 1h0m7-1h0m0 0h0m4 0h0m7 0h0m6 1h0m41 1h0m4 0h0m-64 1h0m17 0h0m0 0h0m5 0h0m5 1h0m1 1h0m0-3h0m13 0h0m37 2h0m-83 2h0m7 0h0m3 1h0m9-2h0m4 3h0m7 0h0m2-1h0m1 0h0m41-2h0m11 1h0m-97 4h0m32-2h0m4 0h0m1 1h0m0 1h0m8-1h0m3 0h0m3-1h0m8 1h0m37 0h0m8-1h0m-65 4h0m2-1h0m4 0h0m5 0h0m40 1h0m16 1h0m-70 2h0m0-1h0m6 0h0m9 0h0m22-1h0m0 2h0m9-1h0m1 0h0m-43 3h0m19-1h0m31 0h0m34 1h0m-76 3h0m3-2h0m7 0h0m0 6h0m22 5h0m24-1h0m19 3h0"/><path id="b3" d="M106 49h0m-7 0h0m6 2h0m0 0h0m18-1h0m1 1h0m0 0h0m-36 2h0m8 0h0m14 1h0m17-2h0m-45 3h0m1 1h0m3-1h0m37 1h0m6-1h0m1 1h0m1-1h0m0 0h0m5 1h0m5 1h0m10 0h0m-53 1h0m6 2h0m4 0h0m1-1h0m10 0h0m7 0h0m0 1h0m0-1h0m16-1h0m0 2h0m0-1h0m-57 3h0m16-1h0m7 1h0m12-2h0m7 2h0m11-1h0m4 0h0m2 0h0m1 1h0m4 0h0m-51 1h0m11 2h0m1-1h0m4-1h0m6 1h0m4 0h0m1 0h0m1 0h0m5 0h0m5-1h0m5 2h0m18 0h0m-44 1h0m3 2h0m19-1h0m3-1h0m3-1h0m1 1h0m2 0h0m-15 5h0m1-1h0m15-2h0m12 1h0m-41 2h0m3 0h0m4 1h0m3 0h0m0 0h0m10-1h0m0 2h0m7 0h0m12-2h0m1 0h0m8 4h0m4-2h0m2 2h0m-31 3h0m14-1h0"/><path id="b4" d="M108 40h0m-37 5h0m26 0h0m1 2h0m-18 0h0m16 7h0m0-1h0m21 0h0m1 0h0m7 1h0m-16 3h0m1-1h0m1 0h0m7 1h0m1 0h0m39 0h0m-58 2h0m0 1h0m4-1h0m6-1h0m3 1h0m5 0h0m4 0h0m3 0h0m1-1h0m0 0h0m14 0h0m13 2h0m14 0h0m-78 2h0m7-1h0m6 0h0m13 1h0m4 1h0m6-2h0m3 1h0m4-1h0m2 0h0m3 0h0m11 0h0m10 0h0m-68 2h0m16 2h0m15-2h0m18 0h0m4 2h0m9-2h0m2 1h0m-37 2h0m0 2h0m8-2h0m0-1h0m12 1h0m4 0h0m3 2h0m18 0h0m21-2h0m-75 3h0m5-1h0m23 0h0m17 1h0m21 1h0m-43 3h0m4-1h0m10-1h0m-27 4h0m15 0h0m36 0h0m-20 7h0"/><path id="b5" d="M61 46h0m-1 1h0m25 2h0m4 2h0m17 1h0m16-3h0m1 3h0m-53 2h0m39-1h0m3-1h0m-1 4h0m11-1h0m3 2h0m2-2h0m4 1h0m6 0h0m5 1h0m19 0h0m-72 1h0m3 2h0m13 0h0m12 0h0m6-1h0m2 0h0m9 0h0m3-1h0m0 0h0m9 2h0m-73 1h0m29 1h0m9-1h0m6 1h0m1 0h0m1 1h0m3-2h0m2 1h0m3 1h0m4-3h0m3 2h0m1 1h0m9-1h0m2 0h0m2-1h0m3 1h0m-36 1h0m1 2h0m1-1h0m5 1h0m2-2h0m3 0h0m1 0h0m3 2h0m13-2h0m1 0h0m2 2h0m7 0h0m1 0h0m-51 1h0m15 1h0m1-2h0m4 1h0m2 2h0m2-2h0m6 2h0m0-2h0m9 0h0m0 2h0m8-3h0m14 1h0m-53 4h0m9 0h0m18-2h0m4 1h0m3 1h0m10 1h0m6-2h0m6-1h0m-35 4h0m4 0h0m44 1h0"/><path id="b6" d="M135 25h0m51 2h0m24 3h0m-58 1h0m54 0h0m10 0h0m-35 4h0m-59 2h0m85 0h0m-87 3h0m52-1h0m10 1h0m14 1h0m15 0h0m4 0h0m-47 1h0m8 2h0m1 0h0m14-1h0m-76 2h0m31 1h0m10-1h0m16 1h0m1-1h0m10 2h0m3-1h0m5 0h0m4 0h0m7 1h0m-22 2h0m3 0h0m9-1h0m1 1h0m5 0h0m1-1h0m2 0h0m5 1h0m18-2h0m4 0h0m11 2h0m-90 1h0m24 0h0m4 1h0m8-1h0m14 0h0m9 0h0m-54 3h0m6 0h0m2 0h0m1 0h0m5 1h0m2-1h0m5 1h0m20 0h0m4-1h0m7-1h0m20 1h0m20 1h0m4-1h0m-79 4h0m3-1h0m13-1h0m6 2h0m4-2h0m4 1h0m5 1h0m5-1h0m2-1h0m12 1h0m4 0h0m25-1h0m-118 3h0m28 1h0m8 0h0m21-1h0m0 1h0m2 0h0m1-1h0m8-1h0m2 2h0m2-1h0m5-1h0m3 1h0m8 1h0m6 0h0m21 0h0m19-2h0m-118 4h0m2 0h0m18 1h0m5 0h0m7 0h0m1-1h0m12-1h0m22 0h0m13 1h0m9 0h0m1 1h0m3-2h0m-68 4h0m12 0h0m8 1h0m2-1h0m6 0h0m6-1h0m3 1h0m0 0h0m1 0h0m1 1h0m0-2h0m2 0h0m3 0h0m10 1h0m1 0h0m3 0h0m1 0h0m-60 2h0m14 0h0m15 1h0m3-1h0m0 0h0m4 1h0m1 0h0m4 0h0m16 0h0m0 0h0m7-1h0m1 1h0m7 0h0m26 0h0m-103 1h0m6 0h0m7 1h0m1 1h0m9 1h0m1-2h0m3 1h0m0 0h0m4 1h0m6-2h0m9-1h0m16 2h0m5 0h0m1-1h0m14 4h0m-59 1h0m16-1h0m32 1h0m6 2h0m4-1h0m4 0h0m-39 2h0m26 1h0m1 0h0m14-1h0m-42 3h0m11-1h0m29 0h0m10 3h0m-62 3h0m32-1h0m4 2h0m-21 4h0m28 1h0m-39 1h0"/><path id="b7" d="M141 14h0m21 10h0m13 0h0m27 1h0m-20 4h0m-38 7h0m43-2h0m-11 3h0m1 2h0m16-2h0m18 1h0m37 0h0m-86 2h0m21-1h0m9 0h0m5 1h0m-40 3h0m33 0h0m-37 2h0m7-1h0m2 0h0m2 0h0m6 1h0m2 2h0m24-1h0m0 0h0m33 0h0m8-1h0m-83 3h0m19 1h0m6 0h0m1-1h0m2-1h0m6 1h0m4 1h0m3 0h0m2-2h0m27 2h0m1-1h0m1-1h0m9 0h0m-96 3h0m53 2h0m10-1h0m2 0h0m0 1h0m1-1h0m3 1h0m8-1h0m5 0h0m14 0h0m6-1h0m1 1h0m-90 1h0m26 2h0m18 0h0m4-2h0m5 2h0m11 0h0m0-1h0m12 0h0m9-1h0m11 1h0m1 1h0m17 0h0m-96 3h0m0-1h0m18-1h0m9 2h0m0 0h0m2-1h0m1 0h0m2 1h0m2 0h0m2 0h0m6-2h0m5 1h0m11 1h0m2-1h0m13-1h0m17 2h0m-78 1h0m4 1h0m6 0h0m3-1h0m2 1h0m10-1h0m2 1h0m5-1h0m3 0h0m12 2h0m1-2h0m8-1h0m4 2h0m6 0h0m8 1h0m10 0h0m-113 0h0m4 2h0m7-1h0m20 0h0m3-1h0m0 3h0m3-2h0m1-1h0m8 1h0m7-1h0m14 0h0m0 2h0m1-1h0m17-1h0m-88 5h0m2 0h0m30-2h0m15 0h0m14 1h0m2 1h0m1-2h0m0 0h0m4 1h0m24 1h0m10-1h0m-86 3h0m26-1h0m2 0h0m12 0h0m1 2h0m0 0h0m1-1h0m3-1h0m7 2h0m1-2h0m28 2h0m-67 0h0m17 2h0m7-1h0m11 1h0m0-2h0m23 1h0m33 0h0m16 2h0m-95 1h0m11 1h0m5-2h0m1 1h0m8-1h0m2 0h0m37 2h0m3-2h0m1 2h0m-68 1h0m7 0h0m19 1h0m6 1h0m8-2h0m6 1h0m10-1h0m32 0h0m11 0h0m-66 4h0m-47 2h0m37-1h0m21 2h0m14 1h0m-65 8h0m14 10h0"/><path id="b8" d="M216 23h0m-61 6h0m22 1h0m25-1h0m-25 4h0m26 2h0m-87 2h0m11 1h0m36 0h0m30-1h0m22 1h0m-23 3h0m45-2h0m10 0h0m-93 5h0m8-2h0m0 1h0m14 1h0m11-1h0m11-1h0m16 2h0m2 0h0m-97 0h0m21 2h0m7 1h0m18-2h0m50 0h0m4-1h0m12 1h0m-84 2h0m20 1h0m4 0h0m12 0h0m8-1h0m29 0h0m0 1h0m29-1h0m-100 3h0m4-1h0m23 3h0m12 0h0m9-2h0m12 2h0m4 0h0m6-1h0m1-1h0m11 1h0m8 0h0m1 0h0m-77 2h0m1 2h0m14-2h0m4 1h0m1 0h0m18 1h0m2-2h0m1 1h0m3-1h0m4-1h0m6 0h0m14 1h0m14 1h0m34-1h0m18 0h0m-186 4h0m33-1h0m14-1h0m19 1h0m6-1h0m3 2h0m4 0h0m0-2h0m5 1h0m6-1h0m5 2h0m1-2h0m0 1h0m1-1h0m4 2h0m3 0h0m8-2h0m2 2h0m4 0h0m2-1h0m6 0h0m17 1h0m18-1h0m-100 3h0m18 0h0m1-1h0m3 1h0m1-1h0m0 1h0m5-1h0m0 0h0m3 2h0m5 0h0m5-1h0m4 1h0m14-2h0m8 1h0m-80 4h0m7-1h0m21 0h0m10-1h0m5 0h0m7 0h0m0 1h0m2-1h0m11-1h0m3 1h0m16-1h0m-92 4h0m36 0h0m3 1h0m4-1h0m3-1h0m5 1h0m18 1h0m1 0h0m2-2h0m2 1h0m2 0h0m20-1h0m-92 4h0m58-1h0m5 1h0m8-1h0m2 0h0m3 1h0m5 0h0m5 1h0m1-2h0m5 0h0m14 0h0m-121 3h0m2 1h0m12-1h0m7 0h0m39 1h0m1 0h0m2-1h0m13 0h0m3 0h0m15 1h0m2-2h0m75 1h0m-116 3h0m2 0h0m13 1h0m2-1h0m4 1h0m4-1h0m8 0h0m1 0h0m5 0h0m5 1h0m3-2h0m12 1h0m35-1h0m-137 4h0m56 0h0m10-1h0m18 1h0m2-2h0m16 2h0m-58 3h0m8 0h0m4-1h0m2-1h0m3 1h0m7 1h0m20-2h0m2 2h0m10-1h0m7 0h0m-110 3h0m59 0h0m4 1h0m10-2h0m-9 3h0m14 1h0m-15 2h0m7 2h0m1 4h0m14 0h0m46 0h0m19 0h0m-54 3h0"/><path id="b9" d="M186 66h0m29 1h0m-68 5h0m36 1h0m28 0h0m47 0h0m-93 3h0m3-1h0m25 1h0m7-1h0m-41 2h0m4 1h0m15-2h0m1 3h0m1-1h0m2-1h0m1 0h0m5-1h0m1 2h0m13-1h0m9 0h0m35 1h0m-79 3h0m5-1h0m2 0h0m5-1h0m1 2h0m4 0h0m1-1h0m1 0h0m5 0h0m3 0h0m1 1h0m0-2h0m6 0h0m0 2h0m1-2h0m0 1h0m8 1h0m14-1h0m7 1h0m4-1h0m13 1h0m-88 1h0m6 1h0m5-1h0m4 1h0m1 0h0m0-1h0m0 1h0m2 0h0m4 0h0m2 1h0m0 0h0m3-1h0m0 0h0m6 0h0m1-1h0m0 1h0m2-1h0m2 0h0m15 0h0m7 1h0m9 0h0m-84 1h0m7 0h0m3 2h0m21-1h0m0 2h0m5-3h0m7 1h0m0 1h0m4 0h0m6 0h0m3-1h0m4 1h0m2 0h0m-84 1h0m41 1h0m1-1h0m6 0h0m10 0h0m4 0h0m9 0h0m11 1h0m6-1h0m18 2h0m7-1h0m13-1h0m-64 2h0m3 2h0m22-1h0m-39 3h0m11 0h0m15 0h0"/><path id="b10" d="M153 67h0m91 0h0m-86 4h0m56-1h0m-55 3h0m3-1h0m10 1h0m9-1h0m-51 4h0m26-1h0m16 0h0m8 1h0m3-1h0m12-2h0m8 1h0m23 0h0m9 1h0m27-1h0m-111 2h0m4 3h0m8-1h0m1 0h0m1-2h0m17 1h0m0 0h0m7 1h0m3 0h0m0-2h0m40 2h0m-86 3h0m9 0h0m6-2h0m9 2h0m2-1h0m5 1h0m7 0h0m0 0h0m13-1h0m3-1h0m4 2h0m6 0h0m3 0h0m0-2h0m4 1h0m7 0h0m3-1h0m12 1h0m8 0h0m-106 2h0m11 1h0m8 1h0m4-1h0m7 0h0m3 0h0m7 0h0m1 0h0m12 0h0m1-1h0m0 1h0m12 0h0m2 1h0m1 0h0m1 0h0m10-1h0m35-1h0m2 1h0m2 0h0m-115 4h0m10-1h0m7-1h0m3-1h0m2 0h0m11 1h0m9 1h0m8-1h0m4 2h0m6-2h0m3 0h0m15-1h0m-48 5h0m8 0h0m5-2h0m1 1h0m5 0h0m5 1h0m5 0h0m1 0h0m11-2h0m5 1h0m-75 2h0m24 0h0m3-1h0m24 1h0m5-1h0m19 2h0m26 0h0m-48 2h0m1 0h0"/><path id="b11" d="M165 72h0m37 0h0m18 0h0m-80 3h0m38 1h0m30-1h0m-61 3h0m32-1h0m21 1h0m4 0h0m0 0h0m5-1h0m1 0h0m12 1h0m1 0h0m3 0h0m-98 1h0m22 0h0m1 1h0m18-1h0m3 0h0m12 1h0m1 0h0m5 1h0m9-1h0m3 0h0m13 1h0m-53 1h0m6 0h0m7 0h0m4 2h0m2-2h0m6 0h0m0 2h0m1-3h0m3 2h0m6-1h0m7 1h0m5 0h0m7 0h0m3-1h0m0 0h0m8 0h0m35 1h0m-84 3h0m1-1h0m3 1h0m0-2h0m17 0h0m1 0h0m0 2h0m2 0h0m1-1h0m6 0h0m9 1h0m2 0h0m11-1h0m-71 2h0m5 0h0m5 1h0m2 0h0m24 1h0m27 0h0m-110 1h0m15-1h0m14 3h0m61 1h0"/><path id="b12" d="M245 53h0m17 1h0m13 3h0m16-1h0m-1 3h0m36 1h0m-67 0h0m15 2h0m3-1h0m2 0h0m7 1h0m13 0h0m16 0h0m-85 2h0m3 0h0m22 0h0m8 1h0m1-2h0m0 0h0m3 2h0m4-2h0m18 2h0m2 0h0m3 0h0m15-1h0m36-1h0m-76 5h0m3-1h0m4 1h0m4-1h0m5 0h0m1 1h0m3 0h0m3-2h0m2 1h0m3-1h0m0 2h0m2 0h0m2-1h0m14 0h0m-29 3h0m5-1h0m9 0h0m6 1h0m2 0h0m7-2h0m1 2h0m5-2h0m5 0h0m5 1h0m7 2h0m-82 0h0m20 1h0m11 0h0m6 1h0m1 0h0m14-1h0m6-1h0m1 1h0m2 1h0m4-2h0m1 1h0m0 0h0m3 1h0m18-2h0m1 1h0m-78 4h0m22-2h0m7 0h0m3 0h0m5 0h0m1 0h0m14 0h0m0 1h0m12-1h0m3 1h0m13-1h0m-41 2h0m6 2h0m14 0h0m3-2h0m7 1h0m-37 2h0m16 1h0m9 0h0m1 1h0m-5 1h0m10 0h0m19 0h0m-3 3h0m7 2h0m-27 2h0m43-2h0m-21 3h0m-8 4h0"/><path id="b13" d="M213 51h0m4 3h0m23-1h0m22 3h0m2 1h0m4-2h0m8 1h0m8 1h0m-5 1h0m2 0h0m11 2h0m-33 2h0m0 0h0m1-2h0m10 2h0m3 0h0m1 0h0m2-1h0m15 0h0m0 2h0m2-1h0m1 0h0m2-1h0m10 0h0m7 2h0m-44 2h0m15-1h0m10 0h0m4-1h0m-39 4h0m9 0h0m9-1h0m5 0h0m7 0h0m7 0h0m4 1h0m2 0h0m2 0h0m21-1h0m-47 2h0m5 1h0m1 0h0m6 0h0m1-1h0m3 1h0m4 0h0m3-1h0m0 3h0m3-2h0m1 1h0m1 0h0m4-2h0m14 0h0m7 2h0m-78 1h0m14 2h0m3-1h0m1 0h0m7 1h0m10 0h0m10-2h0m3 1h0m0 1h0m6-1h0m9 0h0m4 0h0m2-1h0m1 0h0m8 1h0m1-1h0m-39 3h0m0 2h0m4-1h0m3-1h0m3 1h0m0 0h0m4 0h0m3-2h0m3 1h0m15 1h0m7 0h0m3 0h0m-25 2h0m3 1h0m5 0h0m5-1h0m12 1h0m6-1h0m1 2h0m0-1h0m11-2h0m-56 3h0m8 0h0m4 1h0m15 0h0m47 1h0m-55 3h0m23-1h0m1 1h0m7-2h0m-41 4h0m9 0h0m27 0h0m-20 1h0m40 0h0m-21 5h0m46-3h0"/><path id="b14" d="M234 51h0m1 5h0m9-1h0m5 0h0m10 1h0m-19 3h0m9 0h0m19 1h0m10 0h0m14-2h0m-50 4h0m12 0h0m15 0h0m6-1h0m12 1h0m1 0h0m15 0h0m-50 2h0m9 1h0m6-2h0m0 0h0m2 1h0m3 1h0m10-1h0m3 0h0m11-1h0m16 1h0m9 1h0m12-1h0m-71 4h0m3-2h0m7 1h0m16 1h0m2-1h0m7 1h0m16-1h0m2 0h0m6 0h0m2 0h0m30-2h0m-84 4h0m15 0h0m5 1h0m7-1h0m1 0h0m3 0h0m8 2h0m0-1h0m6-1h0m2 1h0m-48 1h0m38 0h0m2 2h0m1-1h0m11-1h0m3 1h0m10 0h0m6-1h0m-60 2h0m10 2h0m2-1h0m1 0h0m3 0h0m9 0h0m2 0h0m1 1h0m1-1h0m5 1h0m3-1h0m4 0h0m1 1h0m2-1h0m4 1h0m3 0h0m5-1h0m1 2h0m-50 1h0m24 0h0m3 1h0m4 0h0m0 0h0m34 1h0m-59 1h0m31 1h0m12-2h0m0 1h0m1-1h0m11 0h0m4 1h0m1-1h0m2 2h0m5-2h0m-30 4h0m2-1h0m-8 4h0m14-1h0m12 1h0m-1 2h0"/><path id="b15" d="M185 88h0m15 0h0m-2 4h0m1-1h0m12 0h0m4 0h0m18 1h0m-50 3h0m1-2h0m8 0h0m5 1h0m3 0h0m0 0h0m17-1h0m0 1h0m1-1h0m3 0h0m-72 4h0m28-2h0m8 2h0m10-2h0m16 1h0m8 0h0m10-1h0m-61 3h0m2 1h0m5-1h0m6 1h0m4-1h0m1 1h0m3-1h0m12 0h0m0 2h0m17-2h0m0 0h0m1 1h0m15-2h0m-82 4h0m13 1h0m0 0h0m1-1h0m10-1h0m6 1h0m4 0h0m20 0h0m1 1h0m2-1h0m11 0h0m7 1h0m3-1h0m3 1h0m3 0h0m1-1h0m6 1h0m-73 1h0m1 0h0m18 0h0m5 1h0m8 0h0m0-1h0m6 1h0m14-1h0m6 0h0m12 0h0m7 0h0m-62 7h0m-10 1h0"/><path id="b16" d="M170 89h0m19 0h0m14-1h0m-45 3h0m17-1h0m12 0h0m24 2h0m-41 2h0m9-1h0m6 0h0m9 1h0m2 0h0m1-1h0m0 1h0m0-1h0m13 1h0m4-2h0m11 2h0m2 0h0m-57 3h0m8-1h0m10-1h0m3 0h0m1 0h0m10 1h0m5 0h0m3 1h0m6-2h0m-51 5h0m22-2h0m3 0h0m3 0h0m2 1h0m2 1h0m6-2h0m3 0h0m0 1h0m5-1h0m3 0h0m0 2h0m2 0h0m2-1h0m5 0h0m2-2h0m9 1h0m1 0h0m5-1h0m1 2h0m-75 2h0m14 1h0m5 0h0m9-1h0m0 1h0m4 0h0m3 0h0m4-2h0m15 2h0m1 0h0m2 0h0m-51 2h0m19 0h0m1 1h0m12-2h0m3 0h0m4 2h0m16-2h0m-42 4h0m25 0h0m35-1h0m-93 3h0"/><path id="b17" d="M160 87h0m78 0h0m-58 3h0m6 1h0m18 1h0m10-2h0m19 1h0m-85 2h0m18 0h0m9 1h0m8 0h0m5 1h0m0-1h0m8-2h0m1 1h0m2-1h0m17 1h0m-57 4h0m3 0h0m3 0h0m15 0h0m11-1h0m5 0h0m4-1h0m1 2h0m16 0h0m2-1h0m7 0h0m6 0h0m6-1h0m0 2h0m2 0h0m-68 2h0m14 0h0m3 0h0m4 0h0m5-1h0m4 1h0m14-1h0m12 2h0m15-1h0m-90 1h0m7 2h0m1-2h0m20 0h0m2 2h0m13-2h0m2 2h0m5-2h0m5 3h0m3-2h0m2 1h0m14-2h0m15 0h0m-92 3h0m47 1h0m25-1h0m13 0h0m47 0h0m-136 5h0m45-2h0m26 0h0m14 1h0"/><path id="b18" d="M261 92h0m100-2h0m-65 3h0m12 1h0m-34 2h0m8 0h0m3 0h0m12 0h0m18 0h0m2 1h0m1 0h0m14-1h0m18 0h0m-86 2h0m0 1h0m12 0h0m11-1h0m3 1h0m10 0h0m0 0h0m3 1h0m1-1h0m0-1h0m6 1h0m2 0h0m25-1h0m-132 4h0m39-1h0m5 0h0m14 0h0m1-1h0m12 2h0m1 0h0m14-1h0m6 0h0m9 1h0m9-1h0m8 0h0m1 0h0m24 0h0m-123 3h0m1 1h0m12-1h0m4 0h0m4-1h0m5 0h0m61 0h0m5 0h0m8 1h0m-105 3h0m24-1h0m9 0h0m1 0h0m4 1h0m22-1h0m33 1h0m3 1h0m0 1h0m-10 2h0"/><path id="b19" d="M285 94h0m9-1h0m1 0h0m6 1h0m2 0h0m20 1h0m8-1h0m7 0h0m-74 3h0m21-1h0m1-1h0m27 1h0m8 1h0m7-2h0m13 1h0m-123 1h0m36 2h0m11 0h0m12 1h0m3 0h0m6-1h0m4-2h0m15 1h0m3 2h0m0-1h0m4 1h0m2-2h0m24 2h0m9-2h0m-103 3h0m6 0h0m0 1h0m4 0h0m16-1h0m5-1h0m4 2h0m6-1h0m4-1h0m9 3h0m0-2h0m16 1h0m6 0h0m3 0h0m-113 2h0m21 0h0m11-1h0m1 1h0m4-1h0m14 0h0m24 0h0m2 2h0m7 0h0m3-1h0m3-1h0m6 0h0m-42 3h0m10 0h0"/><path id="b20" d="M289 94h0m40-1h0m-34 4h0m0-2h0m4 1h0m3 1h0m5-1h0m17-1h0m4 2h0m5 0h0m2-1h0m-103 3h0m8 1h0m10-1h0m9 0h0m6 0h0m5-2h0m14 2h0m5-1h0m1 0h0m3 1h0m6-1h0m3 2h0m2-2h0m1 0h0m1 0h0m19-1h0m7 1h0m9 0h0m-74 3h0m6 0h0m4-1h0m1 1h0m6 1h0m3-1h0m0 1h0m11 0h0m9 0h0m-62 1h0m3 2h0m20 0h0m8 0h0m11 0h0m13-1h0m4 1h0m9-2h0m7 0h0m-83 3h0m9 1h0m32-2h0m4 1h0m2-1h0m-32 4h0m20 2h0"/><path id="b21" d="M0 130h0m0 5h0m1 0h0m26 2h0m-5 1h0m-2 3h0m10 1h0m4-1h0m-34 2h0m13 1h0m3 0h0m11 0h0m18 1h0m3-1h0m-36 3h0m13 0h0m4 0h0m3 0h0m15 1h0m2 0h0m11 0h0m26-1h0m-79 3h0m16 0h0m2-2h0m4 1h0m0-1h0m1 1h0m5 0h0m6 0h0m4 1h0m-34 3h0m11 0h0m6-2h0m4 1h0m0 0h0m6 1h0m11-2h0m-17 5h0m5-2h0m3 2h0m0-1h0m5-1h0m-44 3h0m14-1h0m16 0h0m9 1h0m4-1h0m2 1h0m35 0h0m-46 2h0m10 2h0m16-1h0m-34 3h0m17 0h0m8-1h0m5 0h0m6 1h0m0 5h0"/><path id="b22" d="M47 136h0m-60 3h0m46 0h0m-40 3h0m3-1h0m4 0h0m17 2h0m1-3h0m8 2h0m8 0h0m-5 2h0m4-1h0m4 1h0m6-1h0m-40 4h0m13-1h0m22 2h0m-27 2h0m15 0h0m2-1h0m15 0h0m2 1h0m4-1h0m-41 3h0m30 0h0m7 1h0m0 0h0m2 0h0m11 0h0m27-1h0m-86 2h0m29 0h0m10 0h0m2 0h0m10 0h0m13 0h0m13 2h0m-56 1h0m9-1h0m4 1h0m3 0h0m41 0h0m-53 3h0m31 1h0m18-2h0m-38 6h0m3-1h0m14 1h0"/><path id="b23" d="M-3 134h0m-6 5h0m16 1h0m10-1h0m13 4h0m10-2h0m-41 2h0m25 1h0m7-1h0m0 2h0m22-1h0m-39 3h0m20 0h0m1 1h0m4 0h0m18 0h0m-26 1h0m4 1h0m9-1h0m3 1h0m1-1h0m-48 3h0m33 0h0m6-1h0m7 1h0m-27 3h0m16 2h0m1 0h0m9 0h0m3 1h0m2-1h0m5-1h0m16 2h0m-49 1h0m33 2h0m-28 0h0m16 1h0m7 1h0m12 1h0m-37 0h0m31 0h0m0 9h0m-6 2h0"/><path id="b24" d="M122 156h0m4 2h0m-25 2h0m6-1h0m4 0h0m1 1h0m8 1h0m12-2h0m40 1h0m-89 4h0m6-1h0m45 0h0m5-1h0m-47 2h0m8 1h0m9 1h0m11-1h0m16 1h0"/><path id="b25" d="M106 155h0m8 0h0m-55 2h0m64 1h0m22 1h0m-69 2h0m14-1h0m3-1h0m2 0h0m13 1h0m9 1h0m4 0h0m19-2h0m2 1h0m15 0h0m-73 2h0m12 0h0m1 1h0m7 1h0m16-1h0m50 1h0m-72 1h0m20 0h0m3 0h0m19 1h0m-33 3h0"/><path id="b26" d="M63 155h0m52 4h0m34 0h0m1-1h0m-55 3h0m56-1h0m25-1h0m-64 2h0m10 1h0m4 2h0m11-1h0m-60 3h0m31-1h0m9 1h0m21 0h0m14-1h0"/><path id="b27" d="M404 153h0m-103 7h0m81 0h0m-74 2h0m54 1h0m60 1h0m-127 1h0m14 4h0m30 0h0m20-2h0m44 0h0m-56 2h0m0 3h0m164-1h0m-255 2h0m228 0h0m-290 4h0m99-1h0m22 1h0m14-1h0m47 1h0m20-2h0m77 2h0m-303 2h0m194 1h0m56 0h0m-167 2h0m52 0h0m8 0h0m14-1h0m1 1h0m12 0h0m19-1h0m46 2h0m7 0h0m9-2h0m18 0h0m10 1h0m-207 1h0m18 1h0m14-1h0m2 2h0m37-1h0m9 1h0m4 0h0m4 0h0m11-1h0m1 1h0m7-1h0m6 0h0m2-1h0m21 0h0m0 1h0m0 0h0m12 1h0m6 0h0m2-2h0m13 0h0m17 2h0m17 0h0m-180 2h0m50 0h0m20 0h0m21-1h0m34 2h0m33-2h0m12 1h0m9-1h0m-185 5h0m1-3h0m21 1h0m16 1h0m1-1h0m17-1h0m13 2h0m10-2h0m5 0h0m13 2h0m7-1h0m4 0h0m2 0h0m5 0h0m3 0h0m5-1h0m3 2h0m20-1h0m7 0h0m37-1h0m37 0h0m-217 5h0m19 0h0m4-2h0m3 0h0m17 2h0m10 0h0m9-1h0m1 1h0m11-1h0m2-1h0m5 2h0m8-1h0m5 1h0m13-1h0m5 0h0m15-1h0m6 2h0m13-2h0m6 1h0m5 1h0m60 0h0m-232 2h0m54-1h0m1 2h0m5-1h0m19 0h0m17-1h0m7 0h0m18 0h0m1 2h0m15-2h0m3 1h0m20 0h0m14-2h0m2 3h0m9-2h0m46 2h0m0-2h0m14 0h0m-253 3h0m19 0h0m10 0h0m7 1h0m11 0h0m16-2h0m2 3h0m8-3h0m0 2h0m4 0h0m0-2h0m25 1h0m8 1h0m28 0h0m46-1h0m12-1h0m61 1h0m-197 4h0m9 0h0m7 0h0m2-2h0m28 2h0m6-1h0m3-1h0m2 0h0m9 2h0m36-1h0m2 0h0m-161 3h0m0 0h0m23 0h0m20 0h0m12 0h0m6 0h0m3 0h0m3 0h0m19 0h0m1 0h0m3 0h0m8-1h0m2 0h0m7 2h0m3-2h0m2 0h0m3 1h0m6 1h0m1 0h0m8-1h0m7 1h0m3-2h0m8 0h0m9 0h0m0 2h0m2-2h0m5 1h0m7-1h0m6 1h0m44-2h0m-254 4h0m0 1h0m50-1h0m26 1h0m7 0h0m5-1h0m13 0h0m9-1h0m4 1h0m7 1h0m19 0h0m3 0h0m10 0h0m9 0h0m6 0h0m3-1h0m14 0h0m3 1h0m0 0h0m4-1h0m6 0h0m16 2h0m-173 0h0m4 2h0m44 0h0m24-2h0m1 1h0m1 1h0m1-2h0m1 0h0m28 1h0m1 0h0m23 1h0m0-1h0m7 0h0m2 0h0m15 1h0m0-2h0m2 0h0m25 2h0m-148 1h0m15 0h0m4 0h0m30 1h0m1-1h0m4 2h0m1-1h0m6 1h0m5-1h0m6 0h0m11 0h0m4 0h0m7 0h0m8 1h0m2-1h0m24-1h0m11-1h0m22 2h0m-187 2h0m19 1h0m5 0h0m8-2h0m4 0h0m1 1h0m22 1h0m3-1h0m2 1h0m31-1h0m10 0h0m6 1h0m4 0h0m13-1h0m13 0h0m-137 2h0m34 1h0m14 0h0m6 0h0m7-1h0m0 2h0m5-1h0m4 1h0m8 0h0m23-2h0m20 0h0m-124 3h0m43 0h0m7 1h0m1 1h0m3-1h0m16-2h0m39 1h0m3 1h0m23 0h0m2 1h0m13-2h0m31 0h0m-175 3h0m14 1h0m2-2h0m2 2h0m18 1h0m6-3h0m1 1h0m2 1h0m21-2h0m16 0h0m11 2h0m4-2h0m11 2h0m24 0h0m18 0h0m5-2h0m4 1h0m17 0h0m-175 4h0m19-1h0m3 0h0m30 0h0m37-1h0m29 2h0m5 0h0m20 0h0m29 0h0m-143 1h0m18 0h0m2 0h0m4 0h0m18 0h0m5 1h0m30-1h0m2 2h0m28-2h0m24 2h0m-143 2h0m14-1h0m11 0h0m3 1h0m23 1h0m23-3h0m30 2h0m-140 2h0m16-1h0m0 0h0m11 2h0m9-2h0m21 1h0m24 1h0m30-2h0m10 0h0m32 1h0m64 0h0m-177 2h0m21 0h0m39 0h0m-121 4h0m33-2h0m32 0h0m30 1h0m1 0h0m0 0h0m16-1h0m4 1h0m36 1h0m9-2h0m-98 5h0m18 0h0m1 0h0m24-1h0m19-1h0m-35 4h0m10-1h0m-88 7h0m93 0h0m-9 1h0m100 3h0m-132 8h0"/><path id="b28" d="M451 154h0m-30 4h0m-137 2h0m149-1h0m-144 7h0m120 2h0m19-1h0m-94 4h0m22-1h0m18 1h0m36-1h0m13 0h0m14 0h0m34 1h0m-226 3h0m49 0h0m43-1h0m30 1h0m7-1h0m15 1h0m22-1h0m4 1h0m-93 1h0m37 1h0m14 1h0m4 0h0m9 0h0m7-2h0m71 1h0m-208 3h0m85-1h0m25 0h0m5 2h0m22-3h0m24 1h0m1 1h0m12-1h0m6 0h0m6 1h0m6-1h0m-115 2h0m1 2h0m3-2h0m5 0h0m10 1h0m41 0h0m13 0h0m2 0h0m9 0h0m42 0h0m-197 4h0m20-1h0m9 0h0m1 1h0m5 0h0m16-2h0m27 1h0m4-1h0m1 2h0m8-1h0m2 0h0m6 0h0m1 1h0m11-1h0m4 1h0m30 0h0m7 0h0m11 0h0m-221 3h0m20-1h0m88 0h0m1 0h0m28-1h0m8 2h0m2-3h0m10 3h0m14-3h0m2 1h0m5 0h0m8-1h0m15 1h0m0 2h0m3-2h0m18 1h0m-140 3h0m57 1h0m3-2h0m6 0h0m8-1h0m3 1h0m26 0h0m1 0h0m11 1h0m0-1h0m31-1h0m2 2h0m7-1h0m5 1h0m12-1h0m1 1h0m-174 3h0m25-2h0m29 0h0m2 1h0m3-1h0m11 1h0m12 0h0m9 1h0m5-1h0m0 1h0m15-2h0m3 1h0m0 0h0m19 0h0m-169 3h0m34-1h0m4 0h0m23 1h0m3-1h0m2 0h0m1 2h0m4-2h0m3 2h0m4 0h0m1-2h0m16 0h0m15-1h0m2 1h0m0 0h0m0 1h0m4 1h0m1-2h0m1 0h0m12-1h0m6 2h0m4-1h0m4 1h0m0-1h0m17 1h0m-173 4h0m23-2h0m17 1h0m31 0h0m33 0h0m17-2h0m6 1h0m3-1h0m2 1h0m9 1h0m3 0h0m1 0h0m14-2h0m12 0h0m4 3h0m6-1h0m13 0h0m1 0h0m35-2h0m-223 5h0m54 0h0m9-2h0m11 1h0m1-1h0m12 2h0m15-1h0m1-1h0m18 0h0m12 2h0m14-2h0m37 2h0m12 0h0m15-1h0m3 1h0m4-2h0m-203 2h0m9 2h0m0 0h0m17-2h0m23 3h0m1-1h0m29-1h0m2 0h0m1 1h0m5 1h0m1-1h0m1-2h0m3 1h0m8 2h0m2-2h0m23 2h0m23-3h0m2 0h0m14 3h0m9-1h0m2-1h0m-247 2h0m45 1h0m6 0h0m21-1h0m27 1h0m39 1h0m2 0h0m1-1h0m9 1h0m1-1h0m13-1h0m3 1h0m2 0h0m2 1h0m19-1h0m9 0h0m4 1h0m10 0h0m3 0h0m0-1h0m53 1h0m-192 2h0m10-1h0m6 1h0m7-1h0m10 1h0m5 1h0m4-2h0m1 1h0m3 0h0m3-1h0m5 2h0m7 0h0m0-1h0m6-1h0m1 1h0m4 0h0m1-1h0m1 0h0m0 0h0m2 0h0m8 2h0m2 0h0m2 0h0m8-1h0m17 1h0m7-1h0m16 0h0m0 1h0m7-1h0m3 0h0m7-1h0m12 2h0m39-1h0m-203 1h0m31 2h0m17 1h0m6-2h0m5 0h0m3 1h0m18 0h0m2-1h0m18 0h0m3 0h0m17 1h0m5-1h0m3-1h0m25 3h0m27-1h0m-215 2h0m71 1h0m31 0h0m6-1h0m10-1h0m4 2h0m30 0h0m0-1h0m7 0h0m83 1h0m-206 3h0m4-1h0m34 0h0m12-1h0m7 2h0m8-1h0m9 0h0m6-1h0m3 1h0m4 1h0m22-2h0m26 0h0m2 1h0m8 1h0m10-2h0m-183 5h0m24-2h0m18 0h0m27 1h0m9 1h0m1-2h0m19 1h0m1 1h0m37-1h0m6-2h0m29 2h0m1-1h0m15 0h0m0 0h0m7 2h0m-185 1h0m8 0h0m26 1h0m2 0h0m2-1h0m43 1h0m5-2h0m8 0h0m23 0h0m19 0h0m11 0h0m37 1h0m5 0h0m17 2h0m31-1h0m-189 2h0m22 0h0m1 1h0m7 0h0m11 0h0m14 0h0m17-2h0m8 1h0m13 0h0m6 0h0m98-1h0m-220 2h0m8 0h0m5 1h0m17 1h0m4-1h0m1 0h0m24 0h0m8 1h0m0 0h0m13 1h0m14-2h0m54 0h0m-193 4h0m15-1h0m60 1h0m33 0h0m14-2h0m14 1h0m30 1h0m16-1h0m16 1h0m-129 3h0m7-2h0m35 1h0m9 1h0m72-1h0m-135 4h0m21 0h0m29-2h0m59 8h0m-127 5h0m52-2h0m104 7h0m36-2h0m-92 12h0m33 0h0"/><path id="b29" d="M386 148h0m-75 5h0m95-1h0m-68 6h0m110-2h0m-62 3h0m10 1h0m41 0h0m-54 3h0m-27 1h0m112 0h0m-121 5h0m30-2h0m21 2h0m43 0h0m-63 1h0m18 0h0m49 2h0m13-1h0m-137 1h0m14 1h0m35-1h0m16 1h0m3 1h0m29-2h0m70 1h0m-188 3h0m20 0h0m18-1h0m40 1h0m44-1h0m63 0h0m-220 3h0m38 0h0m14 1h0m0 1h0m13-2h0m16 0h0m13 1h0m16 1h0m18 0h0m3-1h0m12-1h0m-144 4h0m18-2h0m30 1h0m3-1h0m65 2h0m11 0h0m24 0h0m16 0h0m48-1h0m-211 4h0m24-1h0m13 1h0m5-1h0m2-1h0m6 0h0m1 1h0m5-1h0m21 2h0m6-1h0m11 1h0m3 0h0m17-2h0m1 2h0m5-1h0m10 1h0m7 0h0m9-1h0m0-1h0m5 2h0m13 0h0m14-1h0m14 0h0m-167 2h0m43 0h0m3 2h0m0-3h0m7 2h0m3 0h0m9-2h0m4 2h0m8 0h0m5 0h0m17 0h0m4-1h0m4 2h0m0-1h0m3 0h0m4-1h0m1 1h0m4 1h0m24-1h0m3-1h0m8 0h0m7 2h0m-191 2h0m33 0h0m5-1h0m12 0h0m10 1h0m1-1h0m5 2h0m1-1h0m25-1h0m7-1h0m4 1h0m4 1h0m2 0h0m2-2h0m3 2h0m3 0h0m6-1h0m12 1h0m0 0h0m6 0h0m4 0h0m74-1h0m-227 2h0m40 1h0m19 1h0m2-1h0m13 0h0m9-1h0m7 1h0m5 0h0m5-1h0m2 1h0m5-1h0m16 1h0m0-1h0m9 0h0m10 0h0m18 0h0m0 0h0m1 2h0m29-1h0m41 1h0m-285 1h0m60 1h0m51 0h0m0 0h0m10 1h0m53 0h0m17-2h0m3 1h0m0-1h0m1 1h0m1-1h0m19 0h0m-162 3h0m3 1h0m24-1h0m21 0h0m3 0h0m2-1h0m11 2h0m4 0h0m8 0h0m0 0h0m18-1h0m8 0h0m7 0h0m4 1h0m2-1h0m2 0h0m9 0h0m2 0h0m2 1h0m5 0h0m8 0h0m8 0h0m40-2h0m52 1h0m-242 2h0m57 1h0m3 1h0m10 0h0m3-2h0m14 0h0m1 0h0m10 1h0m9 1h0m15-2h0m20 2h0m6 0h0m9 0h0m1 0h0m17-1h0m5 1h0m-164 2h0m13-1h0m9 1h0m1 1h0m10-2h0m10 0h0m20 0h0m4 2h0m5-1h0m6 1h0m5 0h0m12 0h0m0 0h0m21-2h0m5 1h0m1 1h0m21-1h0m7-1h0m44-1h0m1 0h0m6 2h0m1 0h0m-198 3h0m0 1h0m3 0h0m5-2h0m12 1h0m3-2h0m17 2h0m7-2h0m11 2h0m15-1h0m5-1h0m0 1h0m11-1h0m3 2h0m39-1h0m10 1h0m21-2h0m17 1h0m-215 3h0m13-1h0m2 1h0m9 1h0m44-2h0m1 0h0m5 2h0m2-1h0m20-1h0m2 1h0m8 1h0m0 0h0m10-2h0m0 1h0m8-1h0m15 0h0m4 0h0m10 2h0m4-2h0m0 1h0m20 1h0m15-1h0m21-1h0m-154 4h0m6-2h0m4 2h0m3 0h0m11-1h0m3-1h0m8 2h0m9 0h0m6-1h0m1 0h0m9 0h0m4 1h0m2-1h0m2 0h0m4 0h0m1 1h0m32-1h0m4 2h0m2 0h0m4 0h0m3 0h0m-161 0h0m37 0h0m11 1h0m3 0h0m19 2h0m7-1h0m1-1h0m2 1h0m4-1h0m18 0h0m6 1h0m9-1h0m18 0h0m1-1h0m0 0h0m31 3h0m6-3h0m-207 3h0m54 1h0m16 0h0m11 0h0m17-1h0m1 2h0m5-1h0m6 0h0m3-1h0m3 0h0m2 0h0m10 0h0m1 2h0m7 0h0m27-2h0m10 0h0m12 1h0m4 1h0m8-2h0m-201 3h0m65 1h0m43 0h0m3 0h0m10 0h0m9 0h0m2 0h0m2 1h0m3 0h0m3-1h0m16-1h0m15-1h0m8 3h0m6 0h0m1-2h0m9 0h0m5 2h0m16-1h0m29-1h0m-209 2h0m40 1h0m6-1h0m6 1h0m21 0h0m4 0h0m12 0h0m1 0h0m4 1h0m2-2h0m11 2h0m6-1h0m16 1h0m6 0h0m3-2h0m2 0h0m-187 4h0m71 0h0m17 0h0m7-1h0m0 1h0m21 1h0m4 0h0m3-2h0m4 0h0m1 0h0m9 1h0m0-1h0m1 1h0m9 0h0m12-1h0m1 2h0m11 0h0m28-1h0m0 0h0m-97 4h0m9-1h0m10-1h0m30 2h0m9 0h0m10-2h0m33-1h0m3 1h0m54 0h0m-232 3h0m51 1h0m20-1h0m29 1h0m4-1h0m9 1h0m15 0h0m10 0h0m11-1h0m43 1h0m1-1h0m-239 2h0m7 1h0m10 0h0m23-1h0m25 0h0m21 1h0m24 1h0m-52 1h0m7 0h0m54 0h0m55 2h0m67 0h0m31-2h0m-239 4h0m44-1h0m125-1h0m23 0h0m-237 3h0m144 1h0m3-1h0m58 1h0m-127 2h0m43 0h0m10 0h0m52 2h0m7-1h0m-119 3h0m12 0h0m8-2h0m71 0h0m24 0h0m-9 3h0m20 0h0m-127 4h0m20-1h0m50 1h0m13 6h0"/><path id="b30" d="M248 171h0m20 16h0m22-1h0m-7 2h0m3 1h0m13 0h0m-51 2h0m8 0h0m19 1h0m11-1h0m-44 5h0m21-1h0m7-1h0m0 2h0m2-2h0m3-1h0m3 1h0m0 1h0m15-1h0m8 1h0m-76 1h0m11 2h0m15 0h0m33-1h0m5 1h0m-81 3h0m44 0h0m13-1h0m1 0h0m1-1h0m38 0h0m-68 5h0m2-2h0m10 0h0m15 2h0m18-1h0m3 1h0m-75 3h0m11 1h0m14-1h0m8 0h0m16 1h0m5-1h0m15 2h0m2-2h0m18 2h0m20-2h0m-76 4h0m6 1h0m1-3h0m20 1h0m33 1h0m-78 1h0m6 1h0m24 0h0m6 0h0m17 0h0m-35 2h0m26 0h0m8 1h0m18-1h0m8 0h0m9 2h0m-98 2h0m29-1h0m66 0h0m-47 4h0m5 4h0m27 0h0m-37 6h0"/><path id="b31" d="M299 179h0m-39 5h0m40-1h0m7 2h0m-54 1h0m1 0h0m20 1h0m-16 1h0m18 1h0m-67 2h0m54 2h0m-25 3h0m-4 1h0m12-1h0m10 2h0m6 0h0m13-2h0m12 0h0m-56 3h0m16 2h0m53 0h0m-79 1h0m15 0h0m25-1h0m11 3h0m13-2h0m-72 3h0m31 1h0m12-2h0m12 0h0m0 2h0m17-1h0m32-1h0m20 3h0m-124 1h0m25 0h0m3 0h0m8 1h0m16-1h0m3 1h0m-63 2h0m26 1h0m4-1h0m5-1h0m2 0h0m17 0h0m6-1h0m23 2h0m4-1h0m17 1h0m-65 2h0m5-1h0m14 2h0m21-1h0m8-1h0m-33 5h0m15-2h0m10 1h0m0 1h0m3 2h0m5 0h0m-79 3h0m31 0h0m35-1h0m-46 3h0m16 1h0m27 0h0m32 1h0"/><path id="b32" d="M258 172h0m2 5h0m-38 3h0m40 1h0m43 1h0m-79 3h0m18-1h0m45 0h0m-15 3h0m28 6h0m3 0h0m-54 2h0m8 1h0m0-1h0m28 0h0m-42 2h0m3 2h0m22-3h0m20 2h0m30 1h0m-112 2h0m29 0h0m3-2h0m5 1h0m5 1h0m7-2h0m4 2h0m2-1h0m0 0h0m2 1h0m1-2h0m32 0h0m-58 4h0m7 1h0m11-1h0m8 1h0m20 0h0m1 0h0m-54 1h0m16 0h0m19 0h0m1-1h0m2 0h0m8 2h0m7 0h0m14 0h0m-47 3h0m8-2h0m4 1h0m2 0h0m6-1h0m9 1h0m3-1h0m8 2h0m10-2h0m-77 3h0m2 2h0m21-1h0m10 1h0m17-3h0m1 2h0m31-1h0m-78 3h0m5 0h0m18-1h0m5 1h0m43 1h0m-73 3h0m18 0h0m10 0h0m5 0h0m23-2h0m-52 5h0m44-2h0m10 1h0m13 0h0m-51 1h0m21 3h0m2-1h0m4-2h0m-2 3h0m22 1h0"/><path id="b33" d="M481 94h0m11 1h0m-16 1h0m19-1h0m-27 3h0m2 3h0m-19 2h0m27 1h0m9 1h0m-17 2h0m-26 2h0m5-1h0m0 2h0m11-2h0m19 1h0m2 1h0m16 0h0m-20 1h0m-22 3h0m-21 3h0m1 1h0m52-1h0m-75 7h0m52-1h0m-59 3h0m25 0h0m6-1h0m15 0h0m-13 2h0m3 0h0m15 1h0m29-1h0m-106 6h0m3 1h0m20-2h0m8 3h0m1-1h0m17 0h0m80 0h0m-119 2h0m41 0h0m35-1h0m8 0h0m32 0h0m-109 4h0m88 0h0m6 0h0m-117 3h0m46-2h0m1 1h0m-31 2h0m91 1h0m-54 3h0m66-1h0m-91 2h0m6 3h0m4-1h0m9-2h0m20 2h0m-59 2h0m23-1h0m63 2h0m11-2h0m-72 4h0m5 0h0m4-1h0m1 3h0m32-1h0m-40 5h0m13-1h0m11-1h0m6 0h0m-53 3h0m2 1h0m49 0h0m-46 1h0m1 1h0m45 1h0m2-2h0m-26 4h0m7 3h0m-21 6h0m1-2h0m1 2h0"/><path id="b34" d="M485 94h0m-11 8h0m22-1h0m-31 6h0m26 1h0m4-2h0m-46 3h0m1 2h0m-3 3h0m9 1h0m2-1h0m12-1h0m16 2h0m-76 3h0m89 0h0m-95 3h0m7-2h0m5 4h0m23 1h0m30-1h0m16 0h0m-77 4h0m16-2h0m26 0h0m11 1h0m-78 2h0m13 1h0m6-2h0m10 2h0m88-1h0m-20 2h0m4 0h0m2 1h0m-23 2h0m33 1h0m-102 1h0m22 2h0m39-2h0m-79 3h0m7 0h0m4 1h0m4 1h0m6-2h0m11 1h0m19-1h0m71 0h0m-67 4h0m74-1h0m-127 2h0m30 2h0m16-1h0m-47 3h0m12-2h0m28 0h0m20 2h0m16 1h0m-57 0h0m62 2h0m14-1h0m4 2h0m-33 2h0m16-2h0m-82 3h0m15 1h0m4 0h0m35-1h0m-51 5h0m64-1h0m-64 1h0m22 1h0m-15 3h0m10-1h0m25 2h0m-25 4h0m6 1h0m3 0h0m27-1h0m-48 9h0m5 0h0m-2 6h0"/><path id="b35" d="M481 97h0m-14 1h0m7 1h0m0 0h0m20-1h0m-33 2h0m18 1h0m-16 3h0m8 0h0m17 1h0m-34 1h0m4 1h0m-16 4h0m47 1h0m12 1h0m-68 2h0m14-1h0m9 1h0m6 1h0m-30 2h0m36-1h0m6 1h0m-67 2h0m7-1h0m8 1h0m15 1h0m18 0h0m17-2h0m-1 3h0m12 0h0m12 0h0m4 2h0m-104 1h0m35 1h0m13-2h0m-39 3h0m51 2h0m2-1h0m42 0h0m6 1h0m-118 2h0m38 1h0m1-1h0m84 0h0m-126 3h0m15 0h0m32-2h0m52 0h0m1 0h0m-99 4h0m35 1h0m3-1h0m16 0h0m24 1h0m14-1h0m17 1h0m-122 1h0m16 2h0m35 0h0m10-2h0m39 1h0m12-1h0m-113 2h0m4 2h0m71 0h0m0-2h0m8 2h0m8 0h0m38 0h0m-100 2h0m37 0h0m49-1h0m-84 5h0m1-2h0m-4 3h0m28 0h0m37 1h0m-88 6h0m45-2h0m1 0h0m19 1h0m9-1h0m-47 5h0m10-1h0m39-1h0m5 0h0m-59 5h0m4 0h0m25 1h0m-38 2h0m19 3h0m-8 2h0m17-1h0m-13 8h0m5-1h0m-24 6h0"/><path id="b36" d="M510 127h0m-31 1h0m13 0h0m3 0h0m7 1h0m12 0h0m-11 2h0m3 1h0m-10 5h0m16-2h0m-14 4h0m6-2h0m20 0h0m-26 3h0m0 1h0m7 1h0m5 0h0m-18 3h0m4 0h0m2-1h0"/><path id="b37" d="M510 122h0m-10 9h0m0 0h0m7 0h0m-9 2h0m12 1h0m1-1h0m0 0h0m1 0h0m-16 2h0m7 2h0m2 1h0m-13 5h0m2-2h0m1 3h0m4 3h0m3-1h0"/><path id="b38" d="M480 127h0m18 2h0m16 0h0m1 0h0m-17 2h0m3-1h0m2 0h0m2 1h0m1 1h0m1-2h0m2 0h0m4-1h0m-24 5h0m12 1h0m2-1h0m10 0h0m1 0h0m3-1h0m-26 2h0m20 0h0m-3 4h0m-4 2h0m7 1h0"/><path id="b39" d="M305 253h0m10 4h0m-24 3h0m9-2h0m2 0h0m-26 3h0m19 1h0m13 0h0m1 2h0m-5 2h0m9 1h0m-20 1h0m13 1h0m4 0h0m8 2h0m2 1h0m25 0h0m-55 3h0m1 0h0m4-1h0m-31 3h0"/><path id="b40" d="M312 255h0m10 1h0m-32 4h0m10-2h0m7 3h0m-29 2h0m1 2h0m16-1h0m2-1h0m4 1h0m10 0h0m10 1h0m-48 1h0m5 2h0m0-1h0m8 0h0m0 1h0m18 0h0m11 0h0m-30 2h0m6 0h0m1 1h0m13-3h0m-12 4h0m12 7h0m0 6h0"/><path id="b41" d="M295 254h0m41 0h0m-43 4h0m-8 4h0m15 0h0m10 0h0m-26 1h0m9 0h0m15 1h0m0 1h0m-25 2h0m8 0h0m1-1h0m5 1h0m6-1h0m-14 4h0m3 0h0m20-2h0m-31 3h0m5 2h0m28-1h0m1 0h0m-7 2h0"/><path id="b42" d="M366 245h0m9 6h0m-19 4h0m16-2h0m1 0h0m13-1h0m0 0h0m-18 4h0m5 0h0m12 1h0m-14 3h0m0-2h0m5 0h0m4 1h0m-14 3h0m21 0h0m-1 1h0"/><path id="b43" d="M373 249h0m0 5h0m15-1h0m7 1h0m-29 2h0m8 0h0m15-1h0m-15 3h0m1 3h0m0-1h0m0 2h0"/><path id="b44" d="M387 245h0m-12 7h0m4 3h0m2-1h0m0-1h0m-6 4h0m6-2h0m10 0h0m-16 3h0m-11 5h0m13 1h0m-21 2h0"/><path id="b45" d="M458 252h0m1-2h0m-24 2h0m18 2h0m9 3h0m1 4h0m9 0h0m2 0h0m3 0h0m14 2h0m-4 6h0"/><path id="b46" d="M430 244h0m40 13h0m-6 1h0m3 2h0m15-1h0m-13 2h0"/><path id="b47" d="M447 254h0m25 1h0m-20 0h0m6 2h0m2-2h0m21 2h0m-26 0h0m2 3h0m10-2h0m5 2h0m6-2h0m-9 2h0m14 1h0"/><path id="b48" d="M264 100h0m-33 5h0m32-1h0m-12 4h0m40-1h0m25-1h0m-160 2h0m5 3h0m20-2h0m2 1h0m67 0h0m42-1h0m-169 4h0m95-1h0m-70 3h0m24 0h0m4 0h0m95 0h0m13-1h0m64 1h0m-225 3h0m15-1h0m16 0h0m207-1h0m-186 4h0m146 1h0m16 0h0m-239 3h0m120-2h0m37 0h0m76 0h0m77-1h0m-263 5h0m4 0h0m42 0h0m62-1h0m13 0h0m30 0h0m31 2h0m5-1h0m-252 3h0m7 0h0m11-1h0m125 1h0m10-2h0m60 0h0m131 2h0m41-2h0m-156 3h0m36 1h0m28-2h0m-312 4h0m1 0h0m17 1h0m49-1h0m57 0h0m135 0h0m35 1h0m163-2h0m-473 3h0m110 1h0m37-1h0m31 1h0m98 0h0m18-1h0m2 1h0m44-1h0m50 2h0m43-2h0m9 2h0m0-1h0m-452 3h0m120 0h0m86 0h0m178 1h0m94 0h0m1-1h0m-491 4h0m107-3h0m69 1h0m30 0h0m150-1h0m106 2h0m-436 2h0m3 1h0m26-1h0m156 0h0m50 1h0m129 0h0m64-2h0m-434 3h0m0 0h0m110 1h0m60-1h0m60 2h0m31 0h0m79-2h0m7 1h0m46 0h0m56 0h0m-380 2h0m0 0h0m12 0h0m115 1h0m26 0h0m7-1h0m70 1h0m10 0h0m27 0h0m-273 2h0m45 1h0m79-2h0m99 1h0m21 0h0m42-1h0m-351 3h0m20 2h0m119-3h0m1 2h0m80-1h0m151 0h0m50 0h0m-389 4h0m67-2h0m18 1h0m39 2h0m13-1h0m61 0h0m30-1h0m27 1h0m63 1h0m27-1h0m46-1h0m0 1h0m-241 3h0m23 0h0m44 0h0m80 0h0m48 0h0m-320 2h0m97 0h0m69 1h0m4-2h0m69 0h0m15 1h0m52 1h0m-298 2h0m5-1h0m113 1h0m9 0h0m9 1h0m131 0h0m-302 2h0m83 0h0m187-1h0m12-1h0m90 2h0m-362 1h0m189 2h0m77-1h0m-241 3h0m47-2h0m135 3h0m55-1h0m13-1h0m30-1h0m28 0h0m17 2h0m-328 1h0m50 0h0m10 0h0m19 0h0m53 1h0m132 1h0m41-2h0m77 2h0m-325 3h0m124-2h0m103 2h0m-236 2h0m18 0h0m85-1h0m111 1h0m44-1h0m46 0h0m-340 3h0m8 1h0m130-1h0m169 1h0m28 0h0m-323 1h0m27 1h0m132-1h0m45 0h0m12 0h0m73-1h0m45 2h0m-276 4h0m122-1h0m34-2h0m75 2h0m11-1h0m28 1h0m-276 1h0m90 2h0m38-1h0m101 1h0m-194 2h0m44 0h0m92 1h0m4-2h0m-202 4h0m24-2h0m25 2h0m26 0h0m67 0h0m15 0h0m75 0h0m61-2h0m22 1h0m-131 2h0m39 1h0m-193 2h0m25 1h0m66 0h0m17-1h0m5 0h0m14 2h0m35 0h0m4-1h0m100 0h0m-257 2h0m18-1h0m3 1h0m185-1h0m54 2h0m-291 3h0m67-1h0m69-1h0m16 0h0m94 1h0m-215 4h0m88 0h0m9 0h0m13-2h0m-124 4h0m10 0h0m60 0h0m2 0h0m3-2h0m9 3h0m20-2h0m93 1h0m1-1h0m10 0h0m6 1h0m28-1h0m7 1h0m26 0h0m-259 3h0m12-1h0m99 0h0m-5 3h0m126 0h0m-165 2h0m9 0h0m15 0h0m6 1h0m31-1h0m30 0h0m79 1h0m-171 3h0m26-2h0m42 1h0m-95 3h0m60-1h0m-8 4h0m49 0h0m8 1h0m25-1h0m26-2h0m-163 5h0m57-2h0m46 1h0m2 1h0m59-1h0m-13 3h0m-124 3h0m80-1h0m36-1h0m-55 3h0m1 1h0m44 2h0m-42 3h0m50 0h0m-106 3h0m104-1h0m-97 2h0m32 1h0m45 1h0"/><path id="b49" d="M274 102h0m-63 3h0m21-1h0m44 0h0m9-1h0m-4 4h0m16 1h0m40-1h0m-192 2h0m100 1h0m40-1h0m-148 3h0m79 1h0m19 0h0m-102 1h0m79 0h0m2 0h0m39-1h0m21 2h0m1-2h0m72 2h0m32 0h0m-237 3h0m69-1h0m108 0h0m-196 4h0m49 0h0m-17 1h0m20 0h0m46 1h0m33-1h0m147 0h0m-245 2h0m136 1h0m17 0h0m124 1h0m29 0h0m-344 2h0m7-1h0m49 2h0m29-2h0m107 2h0m26-1h0m82 0h0m21 1h0m-313 2h0m187-1h0m18 1h0m5 0h0m72-2h0m4 1h0m63 1h0m-362 2h0m1 1h0m249-1h0m38 1h0m-322 1h0m43 1h0m32 0h0m115 0h0m14 1h0m94 0h0m77-1h0m-398 3h0m64 0h0m61-1h0m81 2h0m13 0h0m104-2h0m15-1h0m17 1h0m7 0h0m22 1h0m4-1h0m38 1h0m-423 3h0m3-2h0m20 0h0m1 0h0m25 1h0m51 0h0m37 1h0m18 0h0m27-1h0m15 1h0m174-1h0m64 0h0m18 2h0m-421 2h0m21-2h0m92 2h0m37-1h0m53 0h0m16 0h0m51-1h0m16 0h0m136 0h0m-443 4h0m51-1h0m38 0h0m4-1h0m86 2h0m167-1h0m46 1h0m48 0h0m-389 3h0m92-1h0m58 2h0m26-1h0m77 0h0m14 0h0m42 0h0m-394 3h0m64-2h0m9 1h0m53 1h0m166 0h0m-281 3h0m6-2h0m106 0h0m22 2h0m38-1h0m39 0h0m81-1h0m89 1h0m14 1h0m13-3h0m-376 4h0m5 0h0m7 0h0m23-1h0m16 1h0m49-1h0m14 1h0m87 1h0m135-1h0m5 0h0m23 0h0m11 0h0m-303 4h0m54-2h0m38 1h0m181-1h0m44 1h0m-409 3h0m97 0h0m54-1h0m57 1h0m75 1h0m57-2h0m19 1h0m1 1h0m-355 2h0m40 0h0m14 1h0m100-3h0m11 2h0m71 1h0m2-1h0m60-2h0m-289 4h0m72-1h0m151 0h0m2 1h0m156 1h0m-368 3h0m88-1h0m163 0h0m8-1h0m-239 4h0m225 0h0m4 0h0m117-1h0m-358 2h0m29 0h0m71 1h0m18 0h0m42 0h0m34 1h0m15-1h0m71 1h0m48-1h0m-333 3h0m14 0h0m15-1h0m163 1h0m22 0h0m83-1h0m34 0h0m45 0h0m-321 3h0m101-1h0m160 1h0m49 0h0m12-1h0m-365 3h0m24 0h0m81 1h0m27 1h0m75-1h0m34 0h0m-171 4h0m53 0h0m23-1h0m19-1h0m16 1h0m48 0h0m35-1h0m13 2h0m13 0h0m-175 2h0m249 0h0m-333 2h0m155 0h0m8-1h0m75 1h0m23-1h0m51 1h0m-312 4h0m67 0h0m71-2h0m9 2h0m53 0h0m27-1h0m82-1h0m3 1h0m-290 1h0m55 1h0m71 1h0m38-2h0m116 1h0m-301 2h0m180 1h0m116 0h0m-125 2h0m54 0h0m-163 4h0m150 0h0m95 0h0m-253 2h0m33 0h0m29 0h0m3 1h0m25-1h0m69 0h0m8-1h0m58 0h0m-235 4h0m47-1h0m94 1h0m33 0h0m2-1h0m49 1h0m40 0h0m-246 1h0m18 3h0m47 0h0m161-2h0m-184 4h0m64-1h0m44-1h0m27 0h0m41 0h0m6 2h0m-139 2h0m101 1h0m15-2h0m27 1h0m-148 2h0m8-1h0m57 0h0m7 0h0m-139 3h0m45 2h0m143-2h0m-114 3h0m8 1h0m54 0h0m-70 3h0m112-2h0m-181 3h0m53 2h0m-2 1h0m81 3h0m35 1h0m-130 3h0m8 3h0m95-2h0m8 3h0m5 2h0m-33 2h0m-44 1h0m28 2h0m3 1h0m21 0h0m10 1h0m3-1h0m2 0h0m3 0h0m-30 3h0"/><path id="b50" d="M253 100h0m-27 4h0m53 0h0m8 1h0m11-1h0m-120 3h0m80 2h0m15 0h0m17 0h0m10-1h0m-174 4h0m208-1h0m-202 4h0m17 0h0m17 1h0m60 0h0m5-2h0m64 0h0m24 1h0m-197 2h0m28 1h0m27 0h0m82 3h0m52-1h0m41 1h0m15-1h0m30-1h0m-176 4h0m33 1h0m2-3h0m49 2h0m19 1h0m-224 0h0m2 0h0m26 1h0m27 1h0m1 0h0m40 0h0m88-1h0m18-1h0m36 2h0m37-1h0m23 0h0m-287 2h0m11 2h0m36 0h0m59-2h0m14 1h0m77 0h0m122 0h0m-359 4h0m33-2h0m9 2h0m115-2h0m26 1h0m194-1h0m-378 2h0m7 1h0m2 0h0m87 1h0m19-2h0m9 2h0m17 0h0m36-1h0m19 0h0m17 1h0m16 0h0m46-1h0m13 0h0m27 0h0m-248 4h0m23-2h0m22 1h0m11 1h0m25-2h0m54 1h0m175 1h0m27 0h0m-68 3h0m-254 0h0m20 0h0m23 0h0m195 2h0m101-2h0m-378 3h0m7 0h0m13 2h0m20-1h0m49-1h0m85 1h0m61 0h0m96 1h0m-420 1h0m23 1h0m31 1h0m22-1h0m28 0h0m18 1h0m71 0h0m58-3h0m54 2h0m40 0h0m82 0h0m37-1h0m-399 2h0m1 2h0m106 0h0m32 0h0m57-1h0m147 0h0m69 1h0m2-2h0m-428 4h0m52-1h0m50 1h0m11 0h0m142 1h0m15 0h0m68 0h0m-346 1h0m126 2h0m57-1h0m73 1h0m119-1h0m-397 3h0m181-2h0m21 2h0m111-2h0m18 1h0m31 0h0m25 1h0m36 0h0m-107 2h0m71-1h0m64 1h0m-416 2h0m36 1h0m178 1h0m9 0h0m29-3h0m6 1h0m127 0h0m1-1h0m-384 4h0m22 0h0m80 1h0m85 0h0m70-1h0m125 2h0m21-1h0m-418 3h0m78 0h0m86 0h0m62-2h0m41 2h0m22 0h0m7 0h0m47-1h0m22 0h0m-349 2h0m42 1h0m10 1h0m36 0h0m109-1h0m40-1h0m-211 4h0m206 0h0m133-1h0m-340 4h0m73-1h0m243 1h0m34 0h0m0-2h0m-222 3h0m30 1h0m31-1h0m27 1h0m-188 4h0m23 0h0m1-2h0m81-1h0m5 1h0m19 1h0m53 1h0m44-2h0m51 0h0m20 0h0m44-1h0m-329 3h0m31 2h0m1 0h0m78-1h0m45 0h0m161 1h0m-337 0h0m102 0h0m5 2h0m60-1h0m78 1h0m99 0h0m-362 2h0m198 1h0m-182 3h0m52-2h0m46 2h0m23-1h0m135-1h0m49 0h0m-255 4h0m138-1h0m23 0h0m-207 2h0m57 1h0m21 1h0m33-1h0m120-1h0m18 2h0m-162 3h0m85-1h0m113-1h0m44 2h0m-250 2h0m3-1h0m35 0h0m40 2h0m119 3h0m6-3h0m41 1h0m-283 4h0m201-1h0m35-1h0m-120 5h0m56-2h0m38 0h0m11 1h0m43-1h0m-233 4h0m26 0h0m72 0h0m11 0h0m25-1h0m18 0h0m53 0h0m14 1h0m-123 1h0m71 0h0m9 1h0m38-1h0m12 2h0m13-1h0m-199 3h0m66-1h0m131 0h0m-113 4h0m50-2h0m54 0h0m-194 3h0m82 2h0m27-1h0m16-1h0m9 2h0m1-1h0m21-1h0m-175 3h0m82 2h0m82-1h0m-182 2h0m11 0h0m48 1h0m88-1h0m39 1h0m-174 1h0m7 1h0m49 1h0m132-2h0m-129 3h0m51 0h0m62 0h0m10 1h0m-91 3h0m23-1h0m66-1h0m-165 3h0m61 2h0m5-1h0m-25 3h0m63-1h0m41 0h0m-78 3h0m8-1h0m17 2h0m35-2h0m-76 5h0m71 0h0m-74 1h0m2 1h0m21-2h0m38 1h0m17 0h0m-37 12h0"/></defs><g transform="scale(0.25)" stroke-width="3.8" stroke-linecap="square"><use href="#b0" stroke="#23d6a3"/><use href="#b1" stroke="#28da86"/><use href="#b2" stroke="#2edf6a"/><use href="#b3" stroke="#11c8fc"/><use href="#b4" stroke="#16cddf"/><use href="#b5" stroke="#1cd1c3"/><use href="#b6" stroke="#24d79c"/><use href="#b7" stroke="#2adb80"/><use href="#b8" stroke="#2fe063"/><use href="#b9" stroke="#20d4b0"/><use href="#b10" stroke="#26d893"/><use href="#b11" stroke="#2cdd76"/><use href="#b12" stroke="#24d79c"/><use href="#b13" stroke="#2adb80"/><use href="#b14" stroke="#2fe063"/><use href="#b15" stroke="#11c8fc"/><use href="#b16" stroke="#16cddf"/><use href="#b17" stroke="#1cd1c3"/><use href="#b18" stroke="#1dd2bc"/><use href="#b19" stroke="#23d6a0"/><use href="#b20" stroke="#29db83"/><use href="#b21" stroke="#1062ff"/><use href="#b22" stroke="#1075ff"/><use href="#b23" stroke="#1088ff"/><use href="#b24" stroke="#10b5ff"/><use href="#b25" stroke="#10c8ff"/><use href="#b26" stroke="#16cce2"/><use href="#b27" stroke="#63e24e"/><use href="#b28" stroke="#8ce440"/><use href="#b29" stroke="#b5e632"/><use href="#b30" stroke="#2dde70"/><use href="#b31" stroke="#42e15a"/><use href="#b32" stroke="#6ce34b"/><use href="#b33" stroke="#2adc7d"/><use href="#b34" stroke="#30e060"/><use href="#b35" stroke="#59e252"/><use href="#b36" stroke="#11c8fc"/><use href="#b37" stroke="#16cddf"/><use href="#b38" stroke="#1cd1c3"/><use href="#b39" stroke="#2adc7d"/><use href="#b40" stroke="#30e060"/><use href="#b41" stroke="#59e252"/><use href="#b42" stroke="#9ae53b"/><use href="#b43" stroke="#c3e62d"/><use href="#b44" stroke="#e8e520"/><use href="#b45" stroke="#11c8fc"/><use href="#b46" stroke="#16cddf"/><use href="#b47" stroke="#1cd1c3"/><use href="#b48" stroke="#8addeb"/><use href="#b49" stroke="#8ddfdd"/><use href="#b50" stroke="#90e1cf"/></g></svg><div style="position:absolute;left:377px;top:203.5px;width:1px;height:7px;background:#c4cfc0"></div><div style="position:absolute;left:379px;top:205.5px;width:1px;height:5px;background:#ccd4c8"></div><div style="position:absolute;left:374px;top:218.3px;width:131.6px;height:81.6px;border:1.3px solid #7a7a7a;background:#fff"></div><div style="position:absolute;left:375.3px;top:219.6px;width:131.6px;height:10.2px;background:#e4e4e4;border-bottom:1.3px solid #7a7a7a"></div><div style="position:absolute;left:374px;top:219.5px;width:134px;text-align:center;font-size:8.3px;line-height:11.5px;color:#333">CD4<sup style="font-size:5.8px;vertical-align:3px;line-height:0">+</sup></div><svg style="position:absolute;left:375.3px;top:231.1px" width="131.6" height="69.4"><g transform="scale(0.25)" stroke-width="3.8" stroke-linecap="square"><use href="#b0" stroke="#106aff"/><use href="#b1" stroke="#107dff"/><use href="#b2" stroke="#1090ff"/><use href="#b3" stroke="#1077ff"/><use href="#b4" stroke="#108aff"/><use href="#b5" stroke="#109cff"/><use href="#b6" stroke="#1066ff"/><use href="#b7" stroke="#1079ff"/><use href="#b8" stroke="#108cff"/><use href="#b9" stroke="#106fff"/><use href="#b10" stroke="#1081ff"/><use href="#b11" stroke="#1094ff"/><use href="#b12" stroke="#1077ff"/><use href="#b13" stroke="#108aff"/><use href="#b14" stroke="#109cff"/><use href="#b15" stroke="#1066ff"/><use href="#b16" stroke="#1079ff"/><use href="#b17" stroke="#108cff"/><use href="#b18" stroke="#107fff"/><use href="#b19" stroke="#1092ff"/><use href="#b20" stroke="#10a5ff"/><use href="#b21" stroke="#1077ff"/><use href="#b22" stroke="#108aff"/><use href="#b23" stroke="#109cff"/><use href="#b24" stroke="#10b5ff"/><use href="#b25" stroke="#10c8ff"/><use href="#b26" stroke="#16cce2"/><use href="#b27" stroke="#35e05e"/><use href="#b28" stroke="#5ee250"/><use href="#b29" stroke="#87e442"/><use href="#b30" stroke="#25d896"/><use href="#b31" stroke="#2bdc79"/><use href="#b32" stroke="#35e05e"/><use href="#b33" stroke="#20d4b0"/><use href="#b34" stroke="#26d893"/><use href="#b35" stroke="#2cdd76"/><use href="#b36" stroke="#13caef"/><use href="#b37" stroke="#19cfd2"/><use href="#b38" stroke="#1fd3b6"/><use href="#b39" stroke="#2adc7d"/><use href="#b40" stroke="#30e060"/><use href="#b41" stroke="#59e252"/><use href="#b42" stroke="#63e24e"/><use href="#b43" stroke="#8ce440"/><use href="#b44" stroke="#b5e632"/><use href="#b45" stroke="#11c8fc"/><use href="#b46" stroke="#16cddf"/><use href="#b47" stroke="#1cd1c3"/><use href="#b48" stroke="#8bdee6"/><use href="#b49" stroke="#8bdee6"/><use href="#b50" stroke="#8bdee6"/></g></svg><div style="position:absolute;left:377px;top:290.7px;width:1px;height:7px;background:#c4cfc0"></div><div style="position:absolute;left:379px;top:292.7px;width:1px;height:5px;background:#ccd4c8"></div><div style="position:absolute;left:374px;top:305.5px;width:131.6px;height:81.5px;border:1.3px solid #7a7a7a;background:#fff"></div><div style="position:absolute;left:375.3px;top:306.8px;width:131.6px;height:9.4px;background:#e4e4e4;border-bottom:1.3px solid #7a7a7a"></div><div style="position:absolute;left:374px;top:306.7px;width:134px;text-align:center;font-size:8.3px;line-height:10.7px;color:#333">CD8<sup style="font-size:5.8px;vertical-align:3px;line-height:0">+</sup></div><svg style="position:absolute;left:375.3px;top:317.5px" width="131.6" height="70.1"><g transform="scale(0.25)" stroke-width="3.8" stroke-linecap="square"><use href="#b0" stroke="#ef8a20"/><use href="#b1" stroke="#ee6d1d"/><use href="#b2" stroke="#ec5018"/><use href="#b3" stroke="#ead020"/><use href="#b4" stroke="#ecb120"/><use href="#b5" stroke="#ef9120"/><use href="#b6" stroke="#ee9820"/><use href="#b7" stroke="#ef7a1f"/><use href="#b8" stroke="#ed5d1a"/><use href="#b9" stroke="#75e348"/><use href="#b10" stroke="#9ee53a"/><use href="#b11" stroke="#c8e72b"/><use href="#b12" stroke="#eda620"/><use href="#b13" stroke="#ef8720"/><use href="#b14" stroke="#ee6a1c"/><use href="#b15" stroke="#106fff"/><use href="#b16" stroke="#1081ff"/><use href="#b17" stroke="#1094ff"/><use href="#b18" stroke="#10b5ff"/><use href="#b19" stroke="#10c8ff"/><use href="#b20" stroke="#16cce2"/><use href="#b21" stroke="#107fff"/><use href="#b22" stroke="#1092ff"/><use href="#b23" stroke="#10a5ff"/><use href="#b24" stroke="#10b5ff"/><use href="#b25" stroke="#10c8ff"/><use href="#b26" stroke="#16cce2"/><use href="#b27" stroke="#18ced6"/><use href="#b28" stroke="#1ed3b9"/><use href="#b29" stroke="#24d79c"/><use href="#b30" stroke="#14cbe9"/><use href="#b31" stroke="#1ad0cc"/><use href="#b32" stroke="#20d4b0"/><use href="#b33" stroke="#20d4b0"/><use href="#b34" stroke="#26d893"/><use href="#b35" stroke="#2cdd76"/><use href="#b36" stroke="#63e24e"/><use href="#b37" stroke="#8ce440"/><use href="#b38" stroke="#b5e632"/><use href="#b39" stroke="#14cbe9"/><use href="#b40" stroke="#1ad0cc"/><use href="#b41" stroke="#20d4b0"/><use href="#b42" stroke="#17cddc"/><use href="#b43" stroke="#1dd2bf"/><use href="#b44" stroke="#23d6a3"/><use href="#b45" stroke="#11c8fc"/><use href="#b46" stroke="#16cddf"/><use href="#b47" stroke="#1cd1c3"/><use href="#b48" stroke="#8bdee6"/><use href="#b49" stroke="#8bdee6"/><use href="#b50" stroke="#8bdee6"/></g></svg><div style="position:absolute;left:377px;top:377.8px;width:1px;height:7px;background:#c4cfc0"></div><div style="position:absolute;left:379px;top:379.8px;width:1px;height:5px;background:#ccd4c8"></div><div style="position:absolute;left:401px;top:392.3px;font-size:8.3px;line-height:9px;color:#333">Low</div><div style="position:absolute;left:419px;top:392.7px;width:47px;height:8px;background:linear-gradient(to right,#1478ff,#00c0ff 22%,#20e040 45%,#e0f020 68%,#f09020 84%,#e02810)"></div><div style="position:absolute;left:468px;top:392.3px;font-size:8.3px;line-height:9px;color:#333">High</div><div class="pl" style="left:13.4px;top:203.6px;font-size:15px">C</div><svg style="position:absolute;left:0;top:0" width="210" height="480" shape-rendering="crispEdges"><path fill="#d5d7f8" d="M36 251h6v7h-6zM53 251h5v7h-5zM58 251h6v7h-6zM108 251h5v7h-5zM113 251h6v7h-6zM119 251h5v7h-5zM124 251h6v7h-6zM146 251h6v7h-6zM53 258h5v6h-5zM58 258h6v6h-6zM119 258h5v6h-5zM141 258h5v6h-5zM146 258h6v6h-6zM64 264h5v6h-5zM91 264h6v6h-6zM141 264h5v6h-5zM146 264h6v6h-6zM91 270h6v7h-6zM141 270h5v7h-5zM146 270h6v7h-6zM163 270h5v7h-5zM190 270h6v7h-6zM53 277h5v6h-5zM58 277h6v6h-6zM64 277h5v6h-5zM91 277h6v6h-6zM119 277h5v6h-5zM141 277h5v6h-5zM146 277h6v6h-6zM163 277h5v6h-5zM91 283h6v6h-6zM124 283h6v6h-6zM130 283h5v6h-5zM141 283h5v6h-5zM91 289h6v7h-6zM130 289h5v7h-5zM141 289h5v7h-5zM146 289h6v7h-6zM91 296h6v6h-6zM130 296h5v6h-5zM141 296h5v6h-5zM185 296h5v6h-5zM36 302h6v6h-6zM91 302h6v6h-6zM113 302h6v6h-6zM141 302h5v6h-5zM91 308h6v7h-6zM124 308h6v7h-6zM141 308h5v7h-5zM190 308h6v7h-6zM80 315h6v6h-6zM86 315h5v6h-5zM91 315h6v6h-6zM141 315h5v6h-5zM146 315h6v6h-6zM152 315h5v6h-5zM163 315h5v6h-5zM75 321h5v6h-5zM80 321h6v6h-6zM86 321h5v6h-5zM91 321h6v6h-6zM108 321h5v6h-5zM130 321h5v6h-5zM146 321h6v6h-6zM163 321h5v6h-5zM64 327h5v7h-5zM91 327h6v7h-6zM130 327h5v7h-5zM146 327h6v7h-6zM53 334h5v6h-5zM58 334h6v6h-6zM64 334h5v6h-5zM86 334h5v6h-5zM130 334h5v6h-5zM146 334h6v6h-6zM53 340h5v6h-5zM58 340h6v6h-6zM86 340h5v6h-5zM130 340h5v6h-5zM53 346h5v7h-5zM58 346h6v7h-6zM75 346h5v7h-5zM130 346h5v7h-5zM135 346h6v7h-6zM141 346h5v7h-5zM42 353h5v6h-5zM53 353h5v6h-5zM58 353h6v6h-6zM64 353h5v6h-5zM75 353h5v6h-5zM124 353h6v6h-6zM130 353h5v6h-5zM36 359h6v6h-6zM42 359h5v6h-5zM53 359h5v6h-5zM58 359h6v6h-6zM64 359h5v6h-5zM124 359h6v6h-6zM130 359h5v6h-5zM53 365h5v7h-5zM58 365h6v7h-6zM108 365h5v7h-5zM124 365h6v7h-6zM130 365h5v7h-5zM141 365h5v7h-5zM146 365h6v7h-6zM163 365h5v7h-5zM53 372h5v6h-5zM58 372h6v6h-6zM119 372h5v6h-5zM124 372h6v6h-6zM130 372h5v6h-5zM141 372h5v6h-5zM146 372h6v6h-6zM163 372h5v6h-5zM36 378h6v6h-6zM42 378h5v6h-5zM53 378h5v6h-5zM58 378h6v6h-6zM130 378h5v6h-5zM163 378h5v6h-5zM42 384h5v7h-5zM53 384h5v7h-5zM58 384h6v7h-6zM64 384h5v7h-5zM80 384h6v7h-6zM86 384h5v7h-5zM119 384h5v7h-5zM130 384h5v7h-5zM168 384h6v7h-6zM36 391h6v6h-6zM42 391h5v6h-5zM53 391h5v6h-5zM58 391h6v6h-6zM64 391h5v6h-5zM80 391h6v6h-6zM119 391h5v6h-5zM130 391h5v6h-5zM36 397h6v6h-6zM42 397h5v6h-5zM53 397h5v6h-5zM58 397h6v6h-6zM64 397h5v6h-5zM80 397h6v6h-6zM108 397h5v6h-5zM113 397h6v6h-6zM119 397h5v6h-5zM130 397h5v6h-5zM53 403h5v7h-5zM58 403h6v7h-6zM113 403h6v7h-6zM124 403h6v7h-6zM130 403h5v7h-5zM146 403h6v7h-6zM163 403h5v7h-5zM53 410h5v6h-5zM58 410h6v6h-6zM130 410h5v6h-5zM146 410h6v6h-6zM163 410h5v6h-5zM36 416h6v6h-6zM53 416h5v6h-5zM58 416h6v6h-6zM124 416h6v6h-6zM130 416h5v6h-5zM141 416h5v6h-5zM146 416h6v6h-6zM163 416h5v6h-5zM53 422h5v7h-5zM58 422h6v7h-6zM86 422h5v7h-5zM124 422h6v7h-6zM130 422h5v7h-5zM146 422h6v7h-6zM163 422h5v7h-5zM53 429h5v6h-5zM58 429h6v6h-6zM91 429h6v6h-6zM119 429h5v6h-5zM124 429h6v6h-6zM130 429h5v6h-5zM141 429h5v6h-5zM146 429h6v6h-6zM163 429h5v6h-5zM53 435h5v6h-5zM91 435h6v6h-6zM124 435h6v6h-6zM130 435h5v6h-5zM135 435h6v6h-6zM141 435h5v6h-5zM146 435h6v6h-6zM157 435h6v6h-6zM163 435h5v6h-5zM53 441h5v7h-5zM91 441h6v7h-6zM113 441h6v7h-6zM124 441h6v7h-6zM130 441h5v7h-5zM141 441h5v7h-5zM146 441h6v7h-6zM157 441h6v7h-6zM163 441h5v7h-5zM53 448h5v6h-5zM91 448h6v6h-6zM124 448h6v6h-6zM130 448h5v6h-5zM141 448h5v6h-5zM146 448h6v6h-6zM157 448h6v6h-6zM163 448h5v6h-5zM53 454h5v6h-5zM91 454h6v6h-6zM124 454h6v6h-6zM130 454h5v6h-5zM141 454h5v6h-5zM146 454h6v6h-6zM157 454h6v6h-6zM163 454h5v6h-5zM53 460h5v7h-5zM91 460h6v7h-6zM119 460h5v7h-5zM124 460h6v7h-6zM130 460h5v7h-5zM141 460h5v7h-5zM146 460h6v7h-6zM163 460h5v7h-5zM53 467h5v6h-5zM91 467h6v6h-6zM124 467h6v6h-6zM141 467h5v6h-5zM146 467h6v6h-6zM163 467h5v6h-5z"/><path fill="#f7f7fc" d="M42 251h5v7h-5zM47 251h6v7h-6zM69 251h6v7h-6zM97 251h5v7h-5zM102 251h6v7h-6zM141 251h5v7h-5zM157 251h6v7h-6zM163 251h5v7h-5zM174 251h5v7h-5zM185 251h5v7h-5zM42 258h5v6h-5zM47 258h6v6h-6zM69 258h6v6h-6zM97 258h5v6h-5zM102 258h6v6h-6zM157 258h6v6h-6zM163 258h5v6h-5zM174 258h5v6h-5zM36 264h6v6h-6zM42 264h5v6h-5zM47 264h6v6h-6zM53 264h5v6h-5zM58 264h6v6h-6zM69 264h6v6h-6zM86 264h5v6h-5zM97 264h5v6h-5zM102 264h6v6h-6zM113 264h6v6h-6zM119 264h5v6h-5zM157 264h6v6h-6zM163 264h5v6h-5zM168 264h6v6h-6zM174 264h5v6h-5zM185 264h5v6h-5zM196 264h6v6h-6zM42 270h5v7h-5zM47 270h6v7h-6zM58 270h6v7h-6zM69 270h6v7h-6zM75 270h5v7h-5zM97 270h5v7h-5zM102 270h6v7h-6zM174 270h5v7h-5zM202 270h5v7h-5zM36 277h6v6h-6zM42 277h5v6h-5zM47 277h6v6h-6zM69 277h6v6h-6zM97 277h5v6h-5zM102 277h6v6h-6zM157 277h6v6h-6zM174 277h5v6h-5zM185 277h5v6h-5zM196 277h6v6h-6zM202 277h5v6h-5zM36 283h6v6h-6zM42 283h5v6h-5zM47 283h6v6h-6zM53 283h5v6h-5zM58 283h6v6h-6zM69 283h6v6h-6zM97 283h5v6h-5zM102 283h6v6h-6zM108 283h5v6h-5zM113 283h6v6h-6zM119 283h5v6h-5zM135 283h6v6h-6zM168 283h6v6h-6zM174 283h5v6h-5zM185 283h5v6h-5zM47 289h6v7h-6zM53 289h5v7h-5zM58 289h6v7h-6zM69 289h6v7h-6zM75 289h5v7h-5zM80 289h6v7h-6zM97 289h5v7h-5zM102 289h6v7h-6zM108 289h5v7h-5zM124 289h6v7h-6zM157 289h6v7h-6zM163 289h5v7h-5zM174 289h5v7h-5zM185 289h5v7h-5zM196 289h6v7h-6zM202 289h5v7h-5zM36 296h6v6h-6zM42 296h5v6h-5zM47 296h6v6h-6zM53 296h5v6h-5zM69 296h6v6h-6zM97 296h5v6h-5zM102 296h6v6h-6zM108 296h5v6h-5zM124 296h6v6h-6zM146 296h6v6h-6zM157 296h6v6h-6zM174 296h5v6h-5zM179 296h6v6h-6zM190 296h6v6h-6zM202 296h5v6h-5zM42 302h5v6h-5zM47 302h6v6h-6zM53 302h5v6h-5zM58 302h6v6h-6zM69 302h6v6h-6zM75 302h5v6h-5zM97 302h5v6h-5zM102 302h6v6h-6zM108 302h5v6h-5zM119 302h5v6h-5zM124 302h6v6h-6zM130 302h5v6h-5zM146 302h6v6h-6zM157 302h6v6h-6zM168 302h6v6h-6zM174 302h5v6h-5zM196 302h6v6h-6zM36 308h6v7h-6zM47 308h6v7h-6zM53 308h5v7h-5zM69 308h6v7h-6zM80 308h6v7h-6zM97 308h5v7h-5zM108 308h5v7h-5zM113 308h6v7h-6zM119 308h5v7h-5zM135 308h6v7h-6zM146 308h6v7h-6zM157 308h6v7h-6zM163 308h5v7h-5zM168 308h6v7h-6zM174 308h5v7h-5zM185 308h5v7h-5zM36 315h6v6h-6zM47 315h6v6h-6zM69 315h6v6h-6zM75 315h5v6h-5zM97 315h5v6h-5zM102 315h6v6h-6zM108 315h5v6h-5zM130 315h5v6h-5zM135 315h6v6h-6zM174 315h5v6h-5zM190 315h6v6h-6zM36 321h6v6h-6zM47 321h6v6h-6zM53 321h5v6h-5zM69 321h6v6h-6zM102 321h6v6h-6zM113 321h6v6h-6zM119 321h5v6h-5zM141 321h5v6h-5zM168 321h6v6h-6zM174 321h5v6h-5zM47 327h6v7h-6zM69 327h6v7h-6zM86 327h5v7h-5zM97 327h5v7h-5zM102 327h6v7h-6zM113 327h6v7h-6zM124 327h6v7h-6zM135 327h6v7h-6zM141 327h5v7h-5zM174 327h5v7h-5zM36 334h6v6h-6zM42 334h5v6h-5zM47 334h6v6h-6zM69 334h6v6h-6zM80 334h6v6h-6zM91 334h6v6h-6zM97 334h5v6h-5zM102 334h6v6h-6zM108 334h5v6h-5zM113 334h6v6h-6zM119 334h5v6h-5zM135 334h6v6h-6zM141 334h5v6h-5zM174 334h5v6h-5zM36 340h6v6h-6zM42 340h5v6h-5zM47 340h6v6h-6zM69 340h6v6h-6zM80 340h6v6h-6zM97 340h5v6h-5zM102 340h6v6h-6zM113 340h6v6h-6zM119 340h5v6h-5zM135 340h6v6h-6zM141 340h5v6h-5zM174 340h5v6h-5zM36 346h6v7h-6zM42 346h5v7h-5zM47 346h6v7h-6zM69 346h6v7h-6zM97 346h5v7h-5zM102 346h6v7h-6zM113 346h6v7h-6zM119 346h5v7h-5zM146 346h6v7h-6zM157 346h6v7h-6zM168 346h6v7h-6zM174 346h5v7h-5zM36 353h6v6h-6zM47 353h6v6h-6zM69 353h6v6h-6zM97 353h5v6h-5zM102 353h6v6h-6zM113 353h6v6h-6zM119 353h5v6h-5zM135 353h6v6h-6zM141 353h5v6h-5zM146 353h6v6h-6zM163 353h5v6h-5zM174 353h5v6h-5zM47 359h6v6h-6zM69 359h6v6h-6zM91 359h6v6h-6zM97 359h5v6h-5zM102 359h6v6h-6zM113 359h6v6h-6zM119 359h5v6h-5zM135 359h6v6h-6zM141 359h5v6h-5zM163 359h5v6h-5zM168 359h6v6h-6zM174 359h5v6h-5zM36 365h6v7h-6zM47 365h6v7h-6zM69 365h6v7h-6zM75 365h5v7h-5zM102 365h6v7h-6zM113 365h6v7h-6zM157 365h6v7h-6zM174 365h5v7h-5zM190 365h6v7h-6zM36 372h6v6h-6zM47 372h6v6h-6zM69 372h6v6h-6zM102 372h6v6h-6zM108 372h5v6h-5zM113 372h6v6h-6zM157 372h6v6h-6zM174 372h5v6h-5zM190 372h6v6h-6zM196 372h6v6h-6zM47 378h6v6h-6zM69 378h6v6h-6zM75 378h5v6h-5zM86 378h5v6h-5zM97 378h5v6h-5zM102 378h6v6h-6zM108 378h5v6h-5zM141 378h5v6h-5zM174 378h5v6h-5zM179 378h6v6h-6zM185 378h5v6h-5zM196 378h6v6h-6zM202 378h5v6h-5zM36 384h6v7h-6zM47 384h6v7h-6zM69 384h6v7h-6zM97 384h5v7h-5zM102 384h6v7h-6zM108 384h5v7h-5zM113 384h6v7h-6zM135 384h6v7h-6zM141 384h5v7h-5zM146 384h6v7h-6zM163 384h5v7h-5zM174 384h5v7h-5zM185 384h5v7h-5zM47 391h6v6h-6zM69 391h6v6h-6zM97 391h5v6h-5zM102 391h6v6h-6zM108 391h5v6h-5zM113 391h6v6h-6zM135 391h6v6h-6zM141 391h5v6h-5zM157 391h6v6h-6zM163 391h5v6h-5zM174 391h5v6h-5zM196 391h6v6h-6zM202 391h5v6h-5zM47 397h6v6h-6zM69 397h6v6h-6zM97 397h5v6h-5zM102 397h6v6h-6zM141 397h5v6h-5zM146 397h6v6h-6zM174 397h5v6h-5zM190 397h6v6h-6zM36 403h6v7h-6zM47 403h6v7h-6zM69 403h6v7h-6zM97 403h5v7h-5zM102 403h6v7h-6zM141 403h5v7h-5zM174 403h5v7h-5zM190 403h6v7h-6zM196 403h6v7h-6zM202 403h5v7h-5zM36 410h6v6h-6zM47 410h6v6h-6zM69 410h6v6h-6zM75 410h5v6h-5zM97 410h5v6h-5zM102 410h6v6h-6zM141 410h5v6h-5zM157 410h6v6h-6zM174 410h5v6h-5zM179 410h6v6h-6zM47 416h6v6h-6zM69 416h6v6h-6zM75 416h5v6h-5zM86 416h5v6h-5zM102 416h6v6h-6zM157 416h6v6h-6zM174 416h5v6h-5zM36 422h6v7h-6zM47 422h6v7h-6zM69 422h6v7h-6zM75 422h5v7h-5zM97 422h5v7h-5zM102 422h6v7h-6zM141 422h5v7h-5zM174 422h5v7h-5zM36 429h6v6h-6zM47 429h6v6h-6zM97 429h5v6h-5zM102 429h6v6h-6zM108 429h5v6h-5zM157 429h6v6h-6zM168 429h6v6h-6zM174 429h5v6h-5zM196 429h6v6h-6zM202 429h5v6h-5zM36 435h6v6h-6zM42 435h5v6h-5zM47 435h6v6h-6zM97 435h5v6h-5zM102 435h6v6h-6zM113 435h6v6h-6zM174 435h5v6h-5zM179 435h6v6h-6zM36 441h6v7h-6zM42 441h5v7h-5zM47 441h6v7h-6zM58 441h6v7h-6zM69 441h6v7h-6zM75 441h5v7h-5zM97 441h5v7h-5zM102 441h6v7h-6zM108 441h5v7h-5zM119 441h5v7h-5zM168 441h6v7h-6zM174 441h5v7h-5zM190 441h6v7h-6zM196 441h6v7h-6zM202 441h5v7h-5zM36 448h6v6h-6zM47 448h6v6h-6zM69 448h6v6h-6zM80 448h6v6h-6zM97 448h5v6h-5zM102 448h6v6h-6zM174 448h5v6h-5zM179 448h6v6h-6zM185 448h5v6h-5zM196 448h6v6h-6zM202 448h5v6h-5zM47 454h6v6h-6zM58 454h6v6h-6zM69 454h6v6h-6zM97 454h5v6h-5zM102 454h6v6h-6zM174 454h5v6h-5zM36 460h6v7h-6zM42 460h5v7h-5zM47 460h6v7h-6zM58 460h6v7h-6zM69 460h6v7h-6zM86 460h5v7h-5zM97 460h5v7h-5zM102 460h6v7h-6zM108 460h5v7h-5zM113 460h6v7h-6zM135 460h6v7h-6zM157 460h6v7h-6zM168 460h6v7h-6zM174 460h5v7h-5zM185 460h5v7h-5zM196 460h6v7h-6zM202 460h5v7h-5zM36 467h6v6h-6zM42 467h5v6h-5zM47 467h6v6h-6zM58 467h6v6h-6zM69 467h6v6h-6zM86 467h5v6h-5zM97 467h5v6h-5zM102 467h6v6h-6zM157 467h6v6h-6zM168 467h6v6h-6zM174 467h5v6h-5zM185 467h5v6h-5zM196 467h6v6h-6zM202 467h5v6h-5z"/><path fill="#d0d2f7" d="M64 251h5v7h-5zM168 258h6v6h-6zM179 258h6v6h-6zM75 264h5v6h-5zM168 277h6v6h-6zM202 302h5v6h-5zM196 321h6v6h-6zM202 321h5v6h-5zM168 353h6v6h-6zM185 397h5v6h-5z"/><path fill="#f29fa3" d="M75 251h5v7h-5zM119 289h5v7h-5zM119 296h5v6h-5zM163 296h5v6h-5zM80 302h6v6h-6zM86 302h5v6h-5zM163 302h5v6h-5zM185 315h5v6h-5zM97 321h5v6h-5zM119 327h5v7h-5zM108 346h5v7h-5zM152 353h5v6h-5zM157 353h6v6h-6zM152 359h5v6h-5zM91 365h6v7h-6zM97 365h5v7h-5zM124 378h6v6h-6zM91 384h6v7h-6zM124 384h6v7h-6zM152 403h5v7h-5zM113 410h6v6h-6zM124 410h6v6h-6zM64 416h5v6h-5zM108 416h5v6h-5zM113 416h6v6h-6zM108 422h5v7h-5zM64 429h5v6h-5zM86 429h5v6h-5zM58 435h6v6h-6zM64 435h5v6h-5zM58 448h6v6h-6zM80 460h6v7h-6zM75 467h5v6h-5zM80 467h6v6h-6z"/><path fill="#ef868a" d="M80 251h6v7h-6zM135 251h6v7h-6zM179 251h6v7h-6zM80 258h6v6h-6zM135 258h6v6h-6zM124 264h6v6h-6zM80 283h6v6h-6zM86 283h5v6h-5zM113 315h6v6h-6zM124 321h6v6h-6zM53 327h5v7h-5zM179 334h6v6h-6zM179 340h6v6h-6zM190 340h6v6h-6zM196 340h6v6h-6zM202 340h5v6h-5zM179 353h6v6h-6zM190 353h6v6h-6zM179 359h6v6h-6zM185 359h5v6h-5zM190 359h6v6h-6zM91 378h6v6h-6zM190 378h6v6h-6zM119 416h5v6h-5zM113 422h6v7h-6zM119 422h5v7h-5zM80 429h6v6h-6zM80 435h6v6h-6zM42 448h5v6h-5zM75 448h5v6h-5zM64 454h5v6h-5zM64 460h5v7h-5zM64 467h5v6h-5z"/><path fill="#f6d6da" d="M86 251h5v7h-5zM190 251h6v7h-6zM196 251h6v7h-6zM75 258h5v6h-5zM179 289h6v7h-6zM152 302h5v6h-5zM58 321h6v6h-6z"/><path fill="#c6c9f6" d="M91 251h6v7h-6zM91 258h6v6h-6zM196 258h6v6h-6zM80 264h6v6h-6zM113 277h6v6h-6zM64 283h5v6h-5zM64 289h5v7h-5zM64 296h5v6h-5zM64 302h5v6h-5zM135 302h6v6h-6zM64 308h5v7h-5zM64 315h5v6h-5zM64 321h5v6h-5zM135 321h6v6h-6zM152 321h5v6h-5zM75 334h5v6h-5zM124 334h6v6h-6zM91 340h6v6h-6zM124 346h6v7h-6zM80 353h6v6h-6zM86 353h5v6h-5zM80 359h6v6h-6zM86 359h5v6h-5zM42 365h5v7h-5zM119 365h5v7h-5zM168 365h6v7h-6zM42 372h5v6h-5zM185 372h5v6h-5zM64 378h5v6h-5zM80 378h6v6h-6zM168 391h6v6h-6zM135 397h6v6h-6zM64 403h5v7h-5zM80 403h6v7h-6zM108 403h5v7h-5zM119 403h5v7h-5zM168 403h6v7h-6zM185 403h5v7h-5zM64 410h5v6h-5zM80 410h6v6h-6zM185 410h5v6h-5zM80 416h6v6h-6zM185 416h5v6h-5zM80 422h6v7h-6zM185 422h5v7h-5zM113 429h6v6h-6zM185 441h5v7h-5zM80 454h6v6h-6zM86 454h5v6h-5zM202 454h5v6h-5z"/><path fill="#ee767a" d="M130 251h5v7h-5zM130 258h5v6h-5zM135 264h6v6h-6zM146 283h6v6h-6zM86 289h5v7h-5zM80 296h6v6h-6zM86 296h5v6h-5zM168 296h6v6h-6zM75 308h5v7h-5zM53 315h5v6h-5zM124 315h6v6h-6zM190 327h6v7h-6zM196 327h6v7h-6zM202 327h5v7h-5zM146 340h6v6h-6zM185 340h5v6h-5zM64 346h5v7h-5zM185 353h5v6h-5zM64 372h5v6h-5zM91 372h6v6h-6zM163 397h5v6h-5zM91 403h6v7h-6zM86 410h5v6h-5zM119 410h5v6h-5zM91 416h6v6h-6zM75 429h5v6h-5zM75 435h5v6h-5zM86 448h5v6h-5z"/><path fill="#f6e0e4" d="M152 251h5v7h-5zM202 251h5v7h-5zM196 283h6v6h-6zM113 289h6v7h-6zM135 289h6v7h-6zM190 289h6v7h-6zM113 296h6v6h-6zM152 296h5v6h-5zM196 296h6v6h-6zM42 308h5v7h-5zM58 308h6v7h-6zM42 327h5v7h-5zM80 327h6v7h-6zM124 340h6v6h-6zM163 346h5v7h-5zM91 353h6v6h-6zM108 353h5v6h-5zM196 365h6v7h-6zM202 365h5v7h-5zM168 378h6v6h-6zM196 384h6v7h-6zM202 384h5v7h-5zM185 391h5v6h-5zM168 397h6v6h-6zM108 410h5v6h-5zM168 410h6v6h-6zM168 416h6v6h-6zM179 429h6v6h-6zM185 429h5v6h-5zM119 435h5v6h-5zM113 448h6v6h-6zM119 448h5v6h-5zM179 460h6v7h-6zM190 467h6v6h-6z"/><path fill="#b2b5f3" d="M168 251h6v7h-6zM185 258h5v6h-5zM36 270h6v7h-6zM185 270h5v7h-5zM75 277h5v6h-5zM135 296h6v6h-6zM179 302h6v6h-6zM185 302h5v6h-5zM108 327h5v7h-5zM64 340h5v6h-5zM75 359h5v6h-5zM185 365h5v7h-5zM75 372h5v6h-5zM75 384h5v7h-5zM42 403h5v7h-5zM135 403h6v7h-6zM42 410h5v6h-5zM135 410h6v6h-6zM135 416h6v6h-6zM135 422h6v7h-6zM190 435h6v6h-6zM135 441h6v7h-6zM36 454h6v6h-6zM108 467h5v6h-5zM113 467h6v6h-6zM119 467h5v6h-5z"/><path fill="#dee0f9" d="M36 258h6v6h-6zM108 264h5v6h-5zM130 264h5v6h-5zM64 270h5v7h-5zM196 270h6v7h-6zM168 372h6v6h-6zM196 397h6v6h-6zM202 397h5v6h-5z"/><path fill="#b9bcf4" d="M64 258h5v6h-5zM190 258h6v6h-6zM80 277h6v6h-6zM86 277h5v6h-5zM190 302h6v6h-6zM64 422h5v7h-5zM185 435h5v6h-5zM168 454h6v6h-6zM185 454h5v6h-5z"/><path fill="#f6e9ee" d="M86 258h5v6h-5zM202 264h5v6h-5zM202 283h5v6h-5zM36 289h6v7h-6zM42 289h5v7h-5zM75 296h5v6h-5zM36 327h6v7h-6zM91 346h6v7h-6zM202 372h5v6h-5zM168 422h6v7h-6zM42 429h5v6h-5zM190 448h6v6h-6zM190 460h6v7h-6z"/><path fill="#8487ec" d="M108 258h5v6h-5zM202 258h5v6h-5zM108 270h5v7h-5zM113 270h6v7h-6zM168 270h6v7h-6zM179 315h6v6h-6zM75 340h5v6h-5zM152 346h5v7h-5zM152 365h5v7h-5zM179 365h6v7h-6zM152 372h5v6h-5zM179 372h6v6h-6zM190 410h6v6h-6zM152 416h5v6h-5zM179 416h6v6h-6zM179 422h6v7h-6zM152 429h5v6h-5zM152 435h5v6h-5zM152 441h5v7h-5zM152 448h5v6h-5zM152 454h5v6h-5zM152 460h5v7h-5zM152 467h5v6h-5z"/><path fill="#9194ee" d="M113 258h6v6h-6zM108 277h5v6h-5zM179 308h6v7h-6zM179 321h6v6h-6zM75 327h5v7h-5zM86 372h5v6h-5zM179 397h6v6h-6zM75 403h5v7h-5zM42 416h5v6h-5zM42 422h5v7h-5zM42 454h5v6h-5zM119 454h5v6h-5zM190 454h6v6h-6z"/><path fill="#f5c8cc" d="M124 258h6v6h-6zM179 264h6v6h-6zM53 270h5v7h-5zM152 270h5v7h-5zM179 270h6v7h-6zM152 277h5v6h-5zM179 277h6v6h-6zM190 277h6v6h-6zM179 283h6v6h-6zM190 283h6v6h-6zM119 315h5v6h-5zM179 346h6v7h-6zM190 346h6v7h-6zM196 346h6v7h-6zM202 346h5v7h-5zM119 378h5v6h-5zM157 378h6v6h-6zM190 391h6v6h-6zM124 397h6v6h-6zM152 397h5v6h-5zM157 403h6v7h-6zM152 410h5v6h-5zM97 416h5v6h-5zM152 422h5v7h-5zM108 435h5v6h-5zM168 435h6v6h-6zM64 441h5v7h-5zM168 448h6v6h-6zM75 460h5v7h-5z"/><path fill="#f5d1d6" d="M152 258h5v6h-5zM152 264h5v6h-5zM163 283h5v6h-5zM152 289h5v7h-5zM168 289h6v7h-6zM168 315h6v6h-6zM185 321h5v6h-5zM108 359h5v6h-5zM113 378h6v6h-6zM135 378h6v6h-6zM157 384h6v7h-6zM91 391h6v6h-6zM91 397h6v6h-6zM157 397h6v6h-6zM91 410h6v6h-6zM190 429h6v6h-6zM86 441h5v7h-5zM64 448h5v6h-5zM108 448h5v6h-5zM135 467h6v6h-6zM179 467h6v6h-6z"/><path fill="#f4b8bc" d="M190 264h6v6h-6zM152 327h5v7h-5zM157 327h6v7h-6zM152 334h5v6h-5zM157 334h6v6h-6zM168 334h6v6h-6zM152 340h5v6h-5zM157 340h6v6h-6zM157 359h6v6h-6zM152 378h5v6h-5zM152 384h5v7h-5zM179 384h6v7h-6zM190 384h6v7h-6zM152 391h5v6h-5zM179 391h6v6h-6zM157 422h6v7h-6zM135 429h6v6h-6z"/><path fill="#f7f2f7" d="M80 270h6v7h-6zM135 448h6v6h-6z"/><path fill="#989bef" d="M86 270h5v7h-5z"/><path fill="#a5a8f1" d="M119 270h5v7h-5zM157 270h6v7h-6zM86 308h5v7h-5zM152 308h5v7h-5zM190 321h6v6h-6zM108 340h5v6h-5zM80 346h6v7h-6zM86 346h5v7h-5zM64 365h5v7h-5zM80 365h6v7h-6zM86 365h5v7h-5zM135 365h6v7h-6zM80 372h6v6h-6zM135 372h6v6h-6zM75 391h5v6h-5zM86 391h5v6h-5zM75 397h5v6h-5zM86 397h5v6h-5zM86 403h5v7h-5zM179 403h6v7h-6zM196 435h6v6h-6zM202 435h5v6h-5zM80 441h6v7h-6zM179 441h6v7h-6zM75 454h5v6h-5zM108 454h5v6h-5zM113 454h6v6h-6zM135 454h6v6h-6zM179 454h6v6h-6zM196 454h6v6h-6z"/><path fill="#e9494b" d="M124 270h6v7h-6zM130 270h5v7h-5zM135 277h6v6h-6zM196 308h6v7h-6zM202 308h5v7h-5zM42 315h5v6h-5zM196 315h6v6h-6zM202 315h5v6h-5zM168 340h6v6h-6zM185 346h5v7h-5zM130 467h5v6h-5z"/><path fill="#e73738" d="M135 270h6v7h-6zM58 315h6v6h-6zM163 334h5v6h-5zM91 422h6v7h-6z"/><path fill="#eb5b5e" d="M124 277h6v6h-6zM130 277h5v6h-5zM130 308h5v7h-5zM185 334h5v6h-5zM163 340h5v6h-5zM146 359h6v6h-6zM146 378h6v6h-6zM146 391h6v6h-6zM86 435h5v6h-5z"/><path fill="#e8e9fa" d="M75 283h5v6h-5z"/><path fill="#f3afb3" d="M152 283h5v6h-5zM157 283h6v6h-6zM190 334h6v6h-6zM196 334h6v6h-6zM202 334h5v6h-5zM196 353h6v6h-6zM202 353h5v6h-5zM196 359h6v6h-6zM202 359h5v6h-5zM124 391h6v6h-6z"/><path fill="#e62e2f" d="M58 296h6v6h-6zM168 327h6v7h-6z"/><path fill="#e41c1c" d="M102 308h6v7h-6zM58 327h6v7h-6zM163 327h5v7h-5zM97 372h5v6h-5zM69 429h6v6h-6zM69 435h6v6h-6z"/><path fill="#4242e0" d="M157 315h6v6h-6zM157 321h6v6h-6z"/><path fill="#ec6467" d="M42 321h5v6h-5zM179 327h6v7h-6zM185 327h5v7h-5z"/><path fill="#6364e6" d="M196 410h6v6h-6zM202 410h5v6h-5zM190 422h6v7h-6z"/><path fill="#5657e4" d="M190 416h6v6h-6zM196 416h6v6h-6zM202 416h5v6h-5zM196 422h6v7h-6zM202 422h5v7h-5z"/><path fill="#9aae60" d="M29 251h6v7h-6z"/><path fill="#b0203a" d="M29 258h6v6h-6z"/><path fill="#30e8f0" d="M29 264h6v6h-6z"/><path fill="#4a80c8" d="M29 270h6v7h-6z"/><path fill="#1a80a0" d="M29 277h6v6h-6z"/><path fill="#f01020" d="M29 283h6v6h-6z"/><path fill="#e02848" d="M29 289h6v7h-6z"/><path fill="#d890b0" d="M29 296h6v6h-6z"/><path fill="#1820b0" d="M29 302h6v6h-6z"/><path fill="#5030b0" d="M29 308h6v7h-6z"/><path fill="#c05070" d="M29 315h6v6h-6z"/><path fill="#703018" d="M29 321h6v6h-6z"/><path fill="#70e0c0" d="M29 327h6v7h-6z"/><path fill="#105040" d="M29 334h6v6h-6z"/><path fill="#a01030" d="M29 340h6v6h-6z"/><path fill="#101010" d="M29 346h6v7h-6z"/><path fill="#e0b880" d="M29 353h6v6h-6z"/><path fill="#c02060" d="M29 359h6v6h-6z"/><path fill="#f04010" d="M29 365h6v7h-6z"/><path fill="#1010a0" d="M29 372h6v6h-6z"/><path fill="#60a8f0" d="M29 378h6v6h-6z"/><path fill="#f020f0" d="M29 384h6v7h-6z"/><path fill="#b01060" d="M29 391h6v6h-6z"/><path fill="#88b868" d="M29 397h6v6h-6z"/><path fill="#609830" d="M29 403h6v7h-6z"/><path fill="#70a040" d="M29 410h6v6h-6z"/><path fill="#d01010" d="M29 416h6v6h-6z"/><path fill="#f08820" d="M29 422h6v7h-6z"/><path fill="#506080" d="M29 429h6v6h-6z"/><path fill="#d8b898" d="M29 435h6v6h-6z"/><path fill="#406820" d="M29 441h6v7h-6z"/><path fill="#8898a8" d="M29 448h6v6h-6z"/><path fill="#b0f040" d="M29 454h6v6h-6z"/><path fill="#e030e0" d="M29 460h6v7h-6z"/><path fill="#208030" d="M29 467h6v6h-6z"/></svg><svg style="position:absolute;left:0;top:0" width="36" height="480"><path d="M22.5 254.5L29.2 254.5M22.5 260.5L29.2 260.5M22.5 254.5L22.5 260.5M26.5 273.5L29.2 273.5M26.5 279.5L29.2 279.5M26.5 273.5L26.5 279.5M22.5 267.5L29.2 267.5M22.5 276.5L26.5 276.5M22.5 267.5L22.5 276.5M18.5 257.5L22.5 257.5M18.5 271.5L22.5 271.5M18.5 257.5L18.5 271.5M23.5 298.5L29.2 298.5M23.5 305.5L29.2 305.5M23.5 298.5L23.5 305.5M20.5 292.5L29.2 292.5M20.5 301.5L23.5 301.5M20.5 292.5L20.5 301.5M17.5 286.5L29.2 286.5M17.5 297.5L20.5 297.5M17.5 286.5L17.5 297.5M10.5 264.5L18.5 264.5M10.5 291.5L17.5 291.5M10.5 264.5L10.5 291.5M23.5 317.5L29.2 317.5M23.5 324.5L29.2 324.5M23.5 317.5L23.5 324.5M14.5 311.5L29.2 311.5M14.5 320.5L23.5 320.5M14.5 311.5L14.5 320.5M26.5 336.5L29.2 336.5M26.5 343.5L29.2 343.5M26.5 336.5L26.5 343.5M24.5 330.5L29.2 330.5M24.5 339.5L26.5 339.5M24.5 330.5L24.5 339.5M26.5 355.5L29.2 355.5M26.5 362.5L29.2 362.5M26.5 355.5L26.5 362.5M20.5 349.5L29.2 349.5M20.5 358.5L26.5 358.5M20.5 349.5L20.5 358.5M17.5 335.5L24.5 335.5M17.5 354.5L20.5 354.5M17.5 335.5L17.5 354.5M26.5 368.5L29.2 368.5M26.5 374.5L29.2 374.5M26.5 368.5L26.5 374.5M26.5 387.5L29.2 387.5M26.5 393.5L29.2 393.5M26.5 387.5L26.5 393.5M23.5 381.5L29.2 381.5M23.5 390.5L26.5 390.5M23.5 381.5L23.5 390.5M21.5 400.5L29.2 400.5M21.5 406.5L29.2 406.5M21.5 400.5L21.5 406.5M18.5 385.5L23.5 385.5M18.5 403.5L21.5 403.5M18.5 385.5L18.5 403.5M14.5 371.5L26.5 371.5M14.5 394.5L18.5 394.5M14.5 371.5L14.5 394.5M11.5 344.5L17.5 344.5M11.5 383.5L14.5 383.5M11.5 344.5L11.5 383.5M10.5 316.5L14.5 316.5M10.5 363.5L11.5 363.5M10.5 316.5L10.5 363.5M6.5 278.5L10.5 278.5M6.5 340.5L10.5 340.5M6.5 278.5L6.5 340.5M25.5 419.5L29.2 419.5M25.5 425.5L29.2 425.5M25.5 419.5L25.5 425.5M23.5 412.5L29.2 412.5M23.5 422.5L25.5 422.5M23.5 412.5L23.5 422.5M25.5 431.5L29.2 431.5M25.5 438.5L29.2 438.5M25.5 431.5L25.5 438.5M24.5 444.5L29.2 444.5M24.5 450.5L29.2 450.5M24.5 444.5L24.5 450.5M20.5 434.5L25.5 434.5M20.5 447.5L24.5 447.5M20.5 434.5L20.5 447.5M25.5 463.5L29.2 463.5M25.5 469.5L29.2 469.5M25.5 463.5L25.5 469.5M17.5 457.5L29.2 457.5M17.5 466.5L25.5 466.5M17.5 457.5L17.5 466.5M15.5 441.5L20.5 441.5M15.5 461.5L17.5 461.5M15.5 441.5L15.5 461.5M9.5 417.5L23.5 417.5M9.5 451.5L15.5 451.5M9.5 417.5L9.5 451.5M6.5 309.5L6.5 309.5M6.5 434.5L9.5 434.5M6.5 309.5L6.5 434.5" stroke="#333" stroke-width="1" fill="none" stroke-linecap="square"/></svg><div class="rl" style="top:251.87px">CD4 Th1 EM (1)</div><div class="rl" style="top:258.19px">CD4 Th1 Temra</div><div class="rl" style="top:264.52px">CD4 TFH (1)</div><div class="rl" style="top:270.86px">CD4 TFH (2)</div><div class="rl" style="top:277.19px">CD4 TFH (3)</div><div class="rl" style="top:283.51px">CD4 Non-classical Th1 EM</div><div class="rl" style="top:289.84px">CD4 Th1 EM (2)</div><div class="rl" style="top:296.18px">CD4 Th1 Treg (1)</div><div class="rl" style="top:302.50px">CD4 Th1 Treg (2)</div><div class="rl" style="top:308.83px">NKT variant (1)</div><div class="rl" style="top:315.16px">Other Non Tcell (1)</div><div class="rl" style="top:321.50px">Other Non Tcell (2)</div><div class="rl" style="top:327.82px">CD4 Th2 Treg (1)</div><div class="rl" style="top:334.15px">CD4 Th2 Treg (2)</div><div class="rl" style="top:340.49px">CD4 Th17 Treg</div><div class="rl" style="top:346.81px">CD8 Tc2 CM</div><div class="rl" style="top:353.14px">CD4 Th2 CM</div><div class="rl" style="top:359.48px">CD4 Th17 CM (1)</div><div class="rl" style="top:365.81px">NKT variant (2)</div><div class="rl" style="top:372.13px">CD8 Naive</div><div class="rl" style="top:378.47px">CD4 CD161+ CM</div><div class="rl" style="top:384.79px">CD4 Th0 CM</div><div class="rl" style="top:391.12px">CD4 Th17 CM (2)</div><div class="rl" style="top:397.45px">CD4 Non-polarized Treg</div><div class="rl" style="top:403.78px">CD4 Naive</div><div class="rl" style="top:410.12px">CD4 Th1 CM</div><div class="rl" style="top:416.44px">Other CD8+ (1)</div><div class="rl" style="top:422.77px">Other CD4+</div><div class="rl" style="top:429.11px">CD8 Tc1 EM (1)</div><div class="rl" style="top:435.44px">CD8 Tc1 EM (2)</div><div class="rl" style="top:441.76px">CD8 Tc1 Temra (1)</div><div class="rl" style="top:448.10px">CD8 Tc1 Temra (2)</div><div class="rl" style="top:454.42px">Other CD8+ (2)</div><div class="rl" style="top:460.75px">CD8 Tc1 EM (3)</div><div class="rl" style="top:467.08px">CD8 Tc1 EM (4)</div><div class="cl" style="left:28.60px;font-weight:bold;color:#111">Cluster</div><div class="cl" style="left:35.36px">CD56</div><div class="cl" style="left:40.87px">MHCII</div><div class="cl" style="left:46.38px">CD15</div><div class="cl" style="left:51.88px">CD39</div><div class="cl" style="left:57.40px">Ki67</div><div class="cl" style="left:62.90px">CD8</div><div class="cl" style="left:68.42px">GranzymeB</div><div class="cl" style="left:73.93px">EOMES</div><div class="cl" style="left:79.44px">CCR5</div><div class="cl" style="left:84.95px">Tbet</div><div class="cl" style="left:90.46px">CD27</div><div class="cl" style="left:95.97px">CD73</div><div class="cl" style="left:101.48px">Tim3</div><div class="cl" style="left:106.98px">pStat1</div><div class="cl" style="left:112.50px">pS6</div><div class="cl" style="left:118.01px">IRF4</div><div class="cl" style="left:123.52px">CXCR5</div><div class="cl" style="left:129.03px">CD57</div><div class="cl" style="left:134.53px">PD-1</div><div class="cl" style="left:140.04px">PD-L1</div><div class="cl" style="left:145.56px">CD161</div><div class="cl" style="left:151.06px">CD4</div><div class="cl" style="left:156.58px">CD5</div><div class="cl" style="left:162.09px">CD25</div><div class="cl" style="left:167.59px">FoxP3</div><div class="cl" style="left:173.10px">PD-L2</div><div class="cl" style="left:178.61px">CD45RO</div><div class="cl" style="left:184.13px">CCR4</div><div class="cl" style="left:189.64px">CD45</div><div class="cl" style="left:195.15px">MHC I</div><div class="cl" style="left:200.66px">B2M</div><div style="position:absolute;left:170.5px;top:478.8px;width:38px;height:4.2px;border:0.8px solid #111;background:linear-gradient(to right,#1818c0,#8080e8 25%,#fff 50%,#f08080 75%,#e01818)"></div><div style="position:absolute;left:167.6px;top:485.5px;font-size:7.2px;line-height:7px;color:#222">-4</div><div style="position:absolute;left:188.1px;top:485.5px;font-size:7.2px;line-height:7px;color:#222">0</div><div style="position:absolute;left:206.4px;top:485.5px;font-size:7.2px;line-height:7px;color:#222">4</div><div style="position:absolute;left:40px;top:484.8px;font-size:8.3px;line-height:9px;color:#333">Phenotype Key</div><div style="position:absolute;left:40px;top:495.5px;width:190px;height:102.5px;background:#d5dfe6"></div><div style="position:absolute;left:111.3px;top:497px;width:1.1px;height:100px;background:#222"></div><div class="k" style="left:45px;top:497.3px">Naive</div><div class="k" style="left:116.3px;top:497.3px;transform:scaleX(1.04)">CCR7<sup>+</sup> CD45RO<sup>-</sup></div><div class="k" style="left:45px;top:507.3px">Central memory</div><div class="k" style="left:116.3px;top:507.3px;transform:scaleX(1.04)">CCR7<sup>+</sup> CD45RO<sup>+</sup></div><div class="k" style="left:45px;top:517.3px">Effector memory</div><div class="k" style="left:116.3px;top:517.3px;transform:scaleX(1.04)">CCR7<sup>-</sup> CD45RO<sup>+</sup></div><div class="k" style="left:45px;top:527.3px">Temra</div><div class="k" style="left:116.3px;top:527.3px;transform:scaleX(1.04)">CCR7<sup>-</sup> CD45RO<sup>-</sup></div><div class="k" style="left:45px;top:537.3px">TFH</div><div class="k" style="left:116.3px;top:537.3px;transform:scaleX(1.04)">PD-1<sup>++</sup> CXCR5<sup>+</sup> CCR7<sup>-</sup></div><div class="k" style="left:45px;top:547.3px">Treg</div><div class="k" style="left:116.3px;top:547.3px;transform:scaleX(1.04)">CD25<sup>+</sup> FoxP3<sup>+</sup></div><div class="k" style="left:45px;top:557.3px">Th1/Tc1</div><div class="k" style="left:116.3px;top:557.3px;transform:scaleX(1.04)">T-bet<sup>+</sup> CCR5<sup>+/-</sup></div><div class="k" style="left:45px;top:567.3px">Non-classical Th1</div><div class="k" style="left:116.3px;top:567.3px;transform:scaleX(1.04)">T-bet<sup>+</sup> CC161<sup>+</sup>CCR4<sup>-</sup></div><div class="k" style="left:45px;top:577.3px">Th17</div><div class="k" style="left:116.3px;top:577.3px;transform:scaleX(1.04)">CD161<sup>+</sup> CCR4<sup>+</sup></div><div class="k" style="left:45px;top:587.3px">Th2/Tc2</div><div class="k" style="left:116.3px;top:587.3px;transform:scaleX(1.04)">CCR4<sup>+</sup> T-bet<sup>-</sup> CCR5<sup>-</sup> CD161<sup>-</sup></div><div class="pl" style="left:281px;top:417.5px;font-size:15px;transform:scaleX(1.12)">D</div><div style="position:absolute;left:281.5px;top:441.3px;width:35.8px;height:10.3px;border:1.4px solid #333;border-right:none"></div><div style="position:absolute;left:281.5px;top:455.2px;width:35.8px;height:59.6px;border:1.4px solid #333;border-right:none"></div><div style="position:absolute;left:281.5px;top:519.8px;width:35.8px;height:29.8px;border:1.4px solid #333;border-right:none"></div><div style="position:absolute;left:321px;top:455.6px;width:190px;height:59.1px;background:#dcdcdc"></div><div style="position:absolute;left:321px;top:520.2px;width:190px;height:29.0px;background:#dcdcdc"></div><div style="position:absolute;left:321px;top:443.1px;width:190px;height:8.9px;background:#aaaaaa"></div><div style="position:absolute;left:284px;top:442.9px;font-size:7.5px;line-height:9px;color:#3a3a3a;transform:scaleY(0.9);transform-origin:0 60%">TFH</div><div style="position:absolute;left:321px;top:455.6px;width:190px;height:8.9px;background:#aaaaaa"></div><div style="position:absolute;left:284px;top:455.4px;font-size:8.4px;line-height:9px;color:#111;transform:scaleY(0.9);transform-origin:0 60%">Naive</div><div style="position:absolute;left:321px;top:465.7px;width:190px;height:8.9px;background:#aaaaaa"></div><div style="position:absolute;left:284px;top:465.5px;font-size:8.4px;line-height:9px;color:#111;transform:scaleY(0.9);transform-origin:0 60%">Th1 CM</div><div style="position:absolute;left:321px;top:475.7px;width:190px;height:8.9px;background:#aaaaaa"></div><div style="position:absolute;left:284px;top:475.5px;font-size:8.4px;line-height:9px;color:#111;transform:scaleY(0.9);transform-origin:0 60%">Th1 EM</div><div style="position:absolute;left:321px;top:485.8px;width:190px;height:8.9px;background:#aaaaaa"></div><div style="position:absolute;left:284px;top:485.6px;font-size:8.4px;line-height:9px;color:#111;transform:scaleY(0.9);transform-origin:0 60%">Th1 Temra</div><div style="position:absolute;left:321px;top:495.8px;width:190px;height:8.9px;background:#aaaaaa"></div><div style="position:absolute;left:284px;top:495.6px;font-size:8.4px;line-height:9px;color:#111;transform:scaleY(0.9);transform-origin:0 60%">Th2 CM</div><div style="position:absolute;left:321px;top:505.9px;width:190px;height:8.9px;background:#aaaaaa"></div><div style="position:absolute;left:284px;top:505.7px;font-size:8.4px;line-height:9px;color:#111;transform:scaleY(0.9);transform-origin:0 60%">Th17CM</div><div style="position:absolute;left:321px;top:520.2px;width:190px;height:8.9px;background:#aaaaaa"></div><div style="position:absolute;left:284px;top:520.0px;font-size:8.4px;line-height:9px;color:#111;transform:scaleY(0.9);transform-origin:0 60%">Th1</div><div style="position:absolute;left:321px;top:530.2px;width:190px;height:8.9px;background:#aaaaaa"></div><div style="position:absolute;left:284px;top:530.0px;font-size:8.4px;line-height:9px;color:#111;transform:scaleY(0.9);transform-origin:0 60%">Th2</div><div style="position:absolute;left:321px;top:540.3px;width:190px;height:8.9px;background:#aaaaaa"></div><div style="position:absolute;left:284px;top:540.1px;font-size:8.4px;line-height:9px;color:#111;transform:scaleY(0.9);transform-origin:0 60%">Th17</div><div style="position:absolute;left:368.2px;top:442px;width:0.9px;height:108px;background:#f4f4f4"></div><div style="position:absolute;left:470.9px;top:444.2px;width:4.6px;height:4.6px;border:1px solid #333;background:#e85050"></div><div style="position:absolute;left:504.7px;top:444.2px;width:4.6px;height:4.6px;border:1px solid #333;background:#d01010"></div><div style="position:absolute;left:327.7px;top:456.8px;width:4.6px;height:4.6px;border:1px solid #333;background:#3232e0"></div><div style="position:absolute;left:332.1px;top:466.8px;width:4.6px;height:4.6px;border:1px solid #333;background:#4646e2"></div><div style="position:absolute;left:403.0px;top:476.9px;width:4.6px;height:4.6px;border:1px solid #333;background:#f4d4d8"></div><div style="position:absolute;left:430.2px;top:476.9px;width:4.6px;height:4.6px;border:1px solid #333;background:#f09898"></div><div style="position:absolute;left:451.9px;top:486.9px;width:4.6px;height:4.6px;border:1px solid #333;background:#e86262"></div><div style="position:absolute;left:357.2px;top:496.9px;width:4.6px;height:4.6px;border:1px solid #333;background:#e6e6f8"></div><div style="position:absolute;left:372.0px;top:507.0px;width:4.6px;height:4.6px;border:1px solid #333;background:#fbf6f6"></div><div style="position:absolute;left:378.2px;top:507.0px;width:4.6px;height:4.6px;border:1px solid #333;background:#fbf4f4"></div><div style="position:absolute;left:332.5px;top:520.5px;width:4.6px;height:4.6px;border:1px solid #333;background:#5050e8"></div><div style="position:absolute;left:330.5px;top:522.0px;width:4.6px;height:4.6px;border:1px solid #333;background:#4040e0"></div><div style="position:absolute;left:346.8px;top:531.4px;width:4.6px;height:4.6px;border:1px solid #333;background:#a4a4f0"></div><div style="position:absolute;left:360.6px;top:531.4px;width:4.6px;height:4.6px;border:1px solid #333;background:#f8f8fc"></div><div style="position:absolute;left:348.5px;top:541.5px;width:4.6px;height:4.6px;border:1px solid #333;background:#acacf0"></div><div style="position:absolute;left:320.5px;top:555.8px;width:189.6px;height:5.4px;border:1px solid #111;background:linear-gradient(to right,#1010e0,#8080f0 14%,#fff 25%,#f4c8c8 45%,#e86a6a 70%,#d80808)"></div><div style="position:absolute;left:320.8px;top:553.2px;width:1px;height:3px;background:#111"></div><div style="position:absolute;left:314.8px;top:566px;width:12px;text-align:center;font-size:7.2px;line-height:8px;color:#222">-1</div><div style="position:absolute;left:368.1px;top:553.2px;width:1px;height:3px;background:#111"></div><div style="position:absolute;left:362.1px;top:566px;width:12px;text-align:center;font-size:7.2px;line-height:8px;color:#222">0</div><div style="position:absolute;left:415.4px;top:553.2px;width:1px;height:3px;background:#111"></div><div style="position:absolute;left:409.4px;top:566px;width:12px;text-align:center;font-size:7.2px;line-height:8px;color:#222">1</div><div style="position:absolute;left:462.7px;top:553.2px;width:1px;height:3px;background:#111"></div><div style="position:absolute;left:456.7px;top:566px;width:12px;text-align:center;font-size:7.2px;line-height:8px;color:#222">2</div><div style="position:absolute;left:510.0px;top:553.2px;width:1px;height:3px;background:#111"></div><div style="position:absolute;left:504.0px;top:566px;width:12px;text-align:center;font-size:7.2px;line-height:8px;color:#222">3</div><div class="rot" style="top:478px">CD4<sup>+</sup><br>effectors</div><div class="rot" style="top:535px">CD4<sup>+</sup><br>regulatory</div>
</div><div id="frame"></div>
</body></html>
